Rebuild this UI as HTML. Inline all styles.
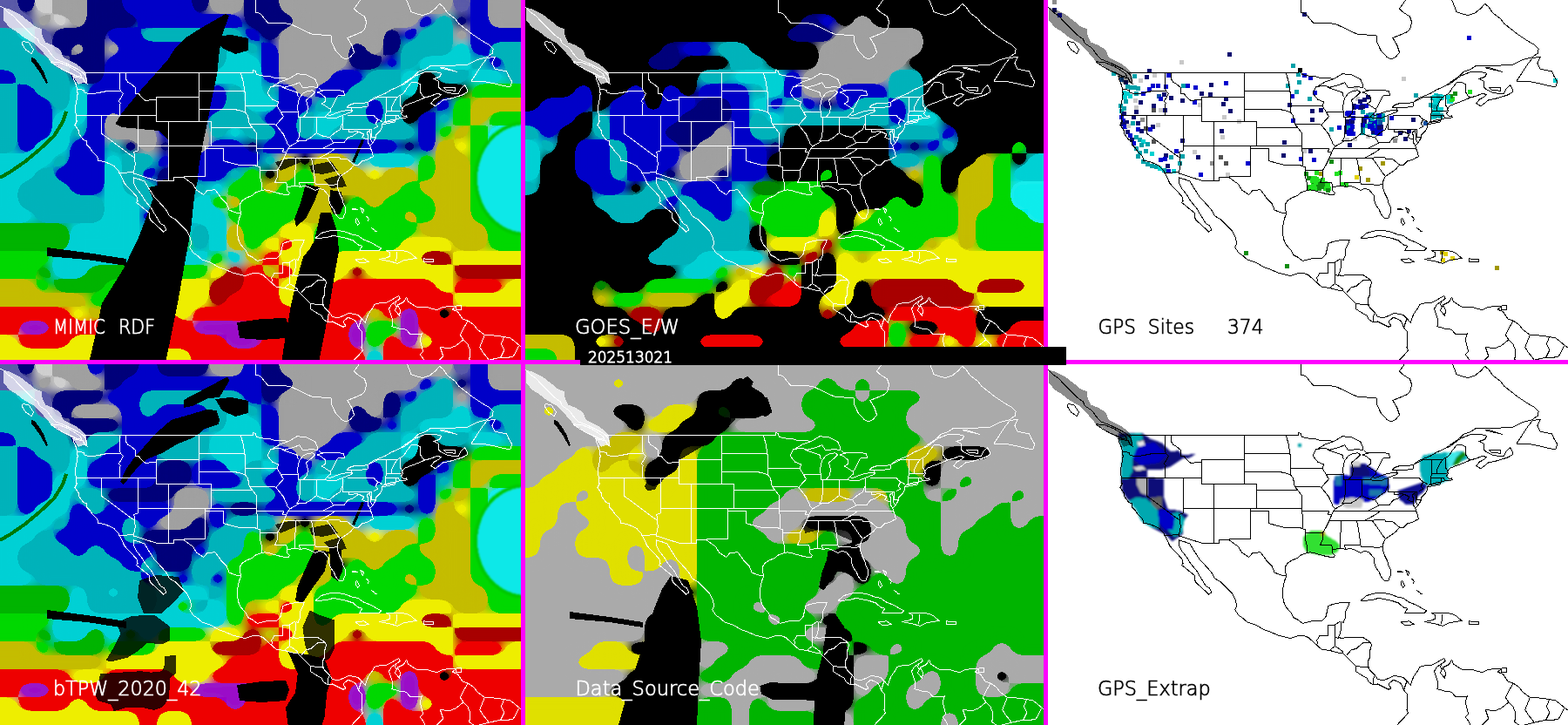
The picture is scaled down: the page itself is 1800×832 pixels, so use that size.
<!DOCTYPE html>
<html><head><meta charset="utf-8"><title>MIMIC TPW</title>
<style>
html,body{margin:0;padding:0;background:#000;}
body{width:1800px;height:832px;overflow:hidden;position:relative;}
svg{position:absolute;left:0;top:0;display:block;}
</style></head><body>
<svg width="1800" height="832" viewBox="0 0 1800 832" shape-rendering="crispEdges">
<defs><clipPath id="pc"><rect width="600" height="416"/></clipPath><filter id="bl" x="-5%" y="-5%" width="110%" height="110%"><feGaussianBlur stdDeviation="5"/></filter><filter id="thr" x="-5%" y="-5%" width="110%" height="110%"><feGaussianBlur stdDeviation="8"/><feComponentTransfer><feFuncA type="discrete" tableValues="0 1"/></feComponentTransfer></filter><filter id="bs"><feGaussianBlur stdDeviation="1.2"/></filter><path id="map" fill="none" d="M293.2,0.1 L293.2,14.1 L298.8,15.5 L307.9,26.7 L323.3,26.0 L334.5,28.1 L347.8,34.4 L358.3,39.3 L380.0,40.7 L380.7,48.4 L384.9,57.5 L391.9,65.2 L396.8,68.0 L402.4,65.2 L406.6,60.3 L403.8,51.9 L398.9,43.5 L414.3,37.2 L418.5,33.7 L420.6,25.3 L418.5,19.0 L410.8,14.1 L406.6,9.9 L413.6,0.1 M466.8,0.1 L469.6,7.1 L471.7,13.4 L479.4,16.2 L485.0,17.6 L493.4,14.8 L500.4,9.2 L504.6,4.3 L508.8,7.8 L513.7,14.8 L522.8,21.8 L527.0,27.4 L533.3,32.3 L540.3,37.9 L549.4,44.2 L555.0,47.7 L561.3,51.2 L566.2,56.1 L565.5,61.0 L558.5,65.9 L547.3,68.7 L536.8,74.3 L522.8,75.0 L508.8,75.0 L494.8,75.0 L487.8,79.9 L480.8,82.0 L473.8,88.3 L466.8,93.2 L459.8,98.1 M458.4,98.8 L464.7,96.0 L470.3,91.8 L477.3,86.9 L487.8,82.7 L498.3,82.0 L506.7,84.1 L504.6,88.3 L498.3,90.4 L503.2,93.2 L503.2,99.5 L506.7,103.0 L512.3,105.8 L519.3,107.2 L526.3,107.2 L528.4,103.0 L533.3,97.4 L536.8,103.0 L536.8,105.8 L529.8,109.3 L515.8,113.5 L508.8,114.9 L499.7,121.9 L494.8,118.4 L498.3,114.2 L504.6,110.7 L506.0,108.6 L502.5,107.2 L494.8,110.0 L487.8,112.1 M487.8,112.1 L479.4,115.6 L473.8,117.7 L468.2,119.8 L464.7,121.2 L461.2,125.4 L462.6,127.5 L460.5,130.3 L463.3,133.1 L466.8,133.8 L466.8,132.1 L467.1,134.9 L462.6,135.6 L458.4,135.9 L454.2,137.3 L449.3,137.7 L440.9,140.1 L438.8,142.2 L438.8,145.7 L436.0,150.6 L432.5,154.1 L431.1,154.8 L431.4,157.6 L429.7,161.1 L427.6,163.9 L425.5,166.7 L424.8,167.4 L425.5,170.2 L427.6,175.1 L428.3,179.7 L424.8,181.4 L421.3,183.5 L415.7,184.9 L411.5,189.1 L406.6,189.4 L402.4,194.0 L396.8,198.2 L390.5,202.4 L388.4,205.9 L387.0,211.5 L387.7,216.4 L389.8,222.0 L392.6,227.6 L394.0,233.2 L396.4,238.1 L396.1,244.4 L394.0,250.0 L389.1,250.4 L384.9,245.1 L383.5,240.9 L379.3,235.3 L377.9,230.4 L377.9,225.5 L375.8,222.7 L371.6,217.8 L366.7,216.4 L361.8,218.5 L358.3,216.4 L351.3,213.6 L344.3,214.3 L340.8,213.6 L335.2,213.6 L329.6,215.0 L329.6,218.5 L332.4,221.3 L331.0,223.8 L323.3,222.7 L317.7,221.3 L310.7,219.2 L304.4,217.8 L300.2,218.5 L293.9,220.6 L289.7,224.1 L282.0,227.6 L277.8,230.4 L275.0,235.3 L275.7,240.9 L276.7,244.8 L274.3,251.4 L272.9,258.4 L272.2,266.8 L273.6,274.5 L276.4,280.8 L282.0,287.1 L284.8,292.7 L290.4,295.5 L295.3,299.4 L302.3,297.6 L309.3,296.2 L317.0,296.9 L321.9,292.0 L323.3,286.4 L324.7,279.4 L330.3,277.3 L337.3,275.9 L344.3,275.9 L349.2,275.9 L347.8,279.4 L345.0,285.0 L344.3,293.4 L342.2,298.3 L340.1,297.6 L339.4,303.9 L338.7,310.9 L336.6,315.1 L339.4,316.5 L344.3,315.8 L351.3,315.8 L358.3,315.1 L365.3,315.8 L373.7,321.4 L374.4,324.9 L372.3,331.9 L372.3,338.9 L370.2,343.1 L370.9,349.4 L373.0,353.6 L378.6,359.2 L381.4,363.4 L387.7,364.8 L393.3,362.7 L400.3,359.2 L410.8,361.3 L415.0,365.5 L419.2,370.4 L422.7,360.6 L427.6,353.6 L429.7,349.4 L437.4,347.3 L443.7,347.3 L451.4,343.1 L457.7,339.6 L459.1,342.4 L454.9,345.9 L453.5,349.4 L455.6,352.2 L453.5,356.4 L458.4,362.0 L459.8,356.4 L456.3,350.1 L463.3,346.6 L466.8,341.0 L468.2,345.9 L478.0,352.2 L488.5,352.2 L501.8,355.7 L508.8,352.2 L519.3,351.5 L523.5,351.5 L519.3,355.0 L525.6,357.8 L531.2,366.2 L537.5,368.3 L543.8,372.5 L548.0,378.1 L556.4,384.4 L568.3,385.1 L578.8,386.5 L585.8,387.9 L592.8,393.5 L596.3,396.3 L599.8,399.1 M-0.1,7.1 L3.4,8.5 L8.3,13.4 L15.3,18.3 L22.3,26.0 L29.3,33.0 L36.3,40.0 L43.3,44.9 L45.4,49.8 L53.8,55.4 L58.7,62.4 L64.3,68.0 L74.8,72.2 L83.2,76.4 L90.2,79.9 L95.1,83.4 L97.9,86.2 L99.3,91.8 L100.0,96.0 L97.2,93.9 L95.1,89.7 L83.9,87.6 L84.6,91.1 L87.4,97.4 L88.8,102.7 L89.1,107.9 L88.1,114.9 L86.0,125.4 L87.4,132.4 L88.1,139.4 L86.0,143.6 L90.2,149.9 L90.9,154.1 L95.8,160.4 L99.3,161.8 L99.3,166.0 L103.5,170.2 L106.3,174.4 L111.9,180.0 L112.6,184.2 L119.6,185.6 L127.3,188.4 L130.8,190.5 L135.7,195.4 L137.1,198.7 L139.9,203.8 L142.7,210.1 L146.2,214.3 L151.8,219.9 L157.4,226.2 L158.1,230.4 L156.7,232.5 L164.4,238.8 L171.4,244.4 L172.1,251.4 L176.3,255.6 L183.3,261.9 L187.5,266.1 L191.0,264.0 L188.2,258.4 L184.7,257.0 L181.9,252.8 L177.7,245.8 L173.5,238.8 L166.5,230.4 L162.3,223.4 L156.7,216.4 L153.2,209.4 L153.2,203.8 L154.6,204.5 L160.2,205.9 L165.8,208.0 L171.4,217.1 L177.7,226.9 L182.6,231.8 L190.3,240.2 L194.5,247.9 L200.8,251.4 L207.8,258.4 L214.8,265.4 L218.3,272.4 L219.7,279.4 L217.6,283.6 L221.8,289.9 L226.7,293.4 L232.3,298.3 L241.4,301.1 L249.8,306.0 L258.9,309.5 L267.3,313.0 L281.3,316.5 L290.4,313.7 L296.0,313.0 L302.3,315.8 L311.4,324.2 L317.0,329.1 L326.8,330.5 L333.8,332.6 L342.2,334.0 L344.3,336.1 L349.2,341.0 L354.8,346.6 L356.9,349.4 L356.2,354.3 L360.4,357.1 L363.9,359.2 L368.8,362.0 L371.6,366.9 L376.5,369.7 L381.4,369.0 L388.4,372.5 L394.0,375.3 L396.8,373.9 L394.0,369.0 L399.6,364.1 L407.3,367.6 L409.4,370.4 L411.5,376.0 L415.0,380.2 L415.7,387.9 L415.0,398.4 L416.4,401.9 L411.5,408.2 L405.9,413.8 L403.8,416.6 M58.0,70.8 L65.7,76.4 L74.8,81.3 L81.8,84.1 L88.8,87.6 L93.7,88.3 L92.3,84.8 L85.3,79.9 L78.3,75.7 L67.8,71.5 L58.0,70.8 M25.8,47.7 L32.8,48.4 L38.4,56.8 L36.3,61.7 L29.3,56.8 L25.8,51.2 L25.8,47.7 M541.0,93.2 L554.3,93.2 L568.3,96.0 L578.8,98.8 L585.8,99.5 L587.9,93.9 L584.4,88.3 L581.6,82.0 L568.3,79.2 L564.8,72.9 L568.3,65.2 L559.2,66.6 L554.3,72.9 L547.3,83.4 L541.0,93.2 M505.3,77.8 L522.8,82.0 L524.9,82.7 L508.8,77.1 L505.3,77.8 M508.8,100.2 L522.8,100.9 L522.8,104.4 L512.3,103.0 L508.8,100.2 M438.8,142.2 L442.3,142.2 L452.8,140.1 L453.5,138.7 L445.8,139.8 L440.9,140.4 L438.8,142.2 M424.8,167.4 L422.7,163.9 L422.7,156.9 L421.3,152.0 L424.1,149.9 L425.5,154.8 L425.5,160.4 L427.6,163.9 M362.1,273.4 L368.8,267.5 L375.8,265.4 L382.8,264.0 L389.8,264.7 L396.8,266.1 L403.8,268.9 L410.8,270.3 L416.4,274.5 L424.8,278.0 L427.6,279.4 L432.5,282.2 L437.4,285.0 L435.3,287.1 L428.3,287.1 L421.3,287.1 L412.9,287.4 L415.7,282.2 L410.8,280.8 L405.2,275.9 L396.8,273.1 L389.8,271.7 L382.8,270.3 L375.8,272.4 L368.8,273.1 L362.1,273.4 M435.3,297.6 L447.2,299.7 L456.3,302.5 L463.3,299.0 L470.3,297.6 L478.0,296.2 L475.2,294.1 L472.4,291.3 L466.8,288.5 L459.8,287.1 L452.8,287.1 L443.0,287.1 L447.2,289.9 L447.9,294.1 L442.3,296.2 L435.3,297.6 M408.0,297.6 L417.8,296.9 L423.4,300.4 L419.2,301.1 L412.2,301.1 L408.0,297.6 M486.4,296.9 L497.6,297.6 L497.6,300.4 L486.4,300.4 L486.4,296.9 M523.5,350.8 L529.8,350.8 L529.8,355.7 L523.5,355.7 L523.5,350.8 M403.8,239.5 L410.8,240.2 L405.9,240.9 L403.8,239.5 M413.6,238.1 L417.8,240.9 L416.4,244.4 L413.6,238.1 M409.4,250.0 L412.9,256.3 L410.8,258.4 L408.0,254.2 L409.4,250.0 M420.6,247.9 L423.4,251.4 L422.0,254.2 M426.2,261.2 L431.8,265.4 L429.7,266.1 M312.1,99.5 L319.8,98.1 L326.8,100.2 L337.3,97.4 L343.6,94.6 L347.8,100.9 L358.3,99.5 L364.6,100.9 L364.6,97.4 L361.8,91.1 L351.3,85.5 L340.8,84.8 L331.7,90.4 L321.2,93.9 L312.1,99.5 M342.2,134.5 L344.3,135.2 L349.2,133.8 L352.7,128.9 L353.4,121.9 L351.3,114.9 L357.6,110.0 L361.8,105.8 L358.3,103.7 L351.3,105.1 L347.8,107.2 L343.6,112.8 L341.5,121.9 L342.2,128.9 L342.2,134.5 M363.9,105.8 L368.8,107.9 L373.0,111.4 L373.7,116.3 L369.5,119.1 L373.0,121.2 L379.3,125.4 L382.1,121.2 L384.9,114.9 L387.7,110.0 L395.4,109.3 L394.7,104.4 L382.8,103.0 L371.6,103.7 L363.9,105.8 M372.3,134.5 L379.3,135.9 L386.3,135.2 L393.3,132.4 L403.8,128.2 L404.5,126.1 L397.5,126.8 L389.8,128.2 L379.3,132.4 L375.1,131.7 L372.3,134.5 M398.2,123.3 L403.8,123.3 L414.3,123.3 L422.7,121.9 L422.7,117.0 L417.8,118.4 L407.3,118.4 L401.0,120.5 L398.2,123.3 M422.7,117.0 L428.3,112.8 L435.3,110.0 L442.3,107.2 L449.3,103.0 L458.4,98.8 M95.1,83.4 L290.7,83.4 L290.7,80.7 L293.2,81.3 L294.6,85.5 L300.2,86.9 L309.3,87.6 L316.3,89.7 L326.8,89.7 L329.6,90.4 M366.0,100.9 L368.1,103.0 L371.6,103.7 M380.0,125.4 L379.3,128.2 L375.1,131.7 M403.8,123.3 L403.8,126.1 M422.7,117.0 L433.9,111.4 L456.3,111.4 L459.1,109.3 L461.2,108.6 L464.7,105.1 L466.8,101.6 L472.4,94.2 L478.7,94.9 L482.2,96.7 L482.2,105.1 L485.0,110.0 L487.8,112.1 M137.1,198.7 L153.9,197.4 L153.2,198.9 L179.1,207.1 L199.4,207.1 L199.4,203.9 L211.3,203.9 L221.8,211.5 L225.3,217.8 L233.7,223.4 L237.9,218.5 L247.0,217.8 L254.7,228.3 L260.3,233.9 L263.1,240.9 L269.4,243.7 L276.7,244.8 M88.8,102.7 L92.3,102.7 L96.5,103.7 L97.2,106.5 L101.4,107.2 L108.4,107.2 L113.3,106.5 L119.6,105.1 L123.8,104.7 L138.3,104.4 M137.5,83.4 L137.5,101.4 L138.3,104.4 L141.5,107.2 L139.2,111.4 L136.4,116.3 L138.5,118.4 L137.6,119.8 L137.6,132.4 M87.4,132.4 L179.4,132.4 L179.4,139.4 L242.4,139.4 M144.4,83.4 L144.4,90.5 L146.7,94.5 L149.7,95.6 L154.6,99.9 L156.0,100.9 L155.3,107.2 L158.8,107.2 L163.0,112.1 L167.2,115.6 L177.0,114.2 L179.4,114.9 L179.4,132.4 M179.4,114.9 L179.4,111.4 L228.4,111.4 M228.4,83.4 L228.4,139.4 M116.8,132.4 L116.8,153.4 L154.6,181.4 L153.9,174.4 L158.4,173.0 L158.4,132.4 M154.6,181.4 L155.3,188.4 L153.9,195.4 L153.9,197.4 M158.4,167.4 L242.8,167.4 M193.4,139.4 L193.4,207.1 M242.4,139.4 L242.4,167.4 M235.8,167.4 L235.8,170.9 L256.8,170.9 L256.8,184.5 M235.4,170.9 L235.4,202.4 L210.6,202.4 M228.4,125.4 L267.3,125.4 L274.3,126.4 L281.6,128.9 L284.1,132.4 L285.5,137.3 L286.2,142.2 L289.7,146.4 L242.4,146.4 M228.4,104.8 L280.9,104.8 M276.4,83.4 L279.2,93.9 L280.9,104.8 L281.6,109.3 L281.6,128.9 M281.6,121.9 L318.2,121.9 M312.1,99.5 L310.7,99.5 L307.2,107.2 L312.8,114.2 L319.8,117.0 L318.2,121.9 L322.6,128.9 L325.4,133.8 L319.1,140.8 L317.0,143.7 L325.4,154.1 L330.3,165.3 L333.1,167.8 L330.3,170.9 L328.9,174.4 L326.1,181.4 L322.6,188.4 L318.4,195.4 L318.7,202.4 L315.6,209.4 L328.7,209.4 L329.6,215.0 M286.4,142.3 L314.9,142.2 L317.0,143.7 M242.8,167.4 L294.4,167.4 L294.4,152.7 L289.7,146.4 M294.4,167.4 L294.4,170.9 L325.7,170.9 L324.2,174.5 L328.9,174.4 M294.4,170.9 L295.8,178.6 L295.4,190.9 L298.5,191.6 L298.5,195.4 L318.4,195.4 M256.8,184.5 L262.4,186.3 L270.8,188.4 L276.4,189.8 L284.8,189.1 L291.8,189.1 L295.4,190.9 M298.5,195.4 L298.5,202.5 L300.2,209.4 L300.9,214.3 L299.9,218.5 M324.7,181.4 L366.7,181.4 L375.1,181.4 M339.4,181.4 L339.4,188.4 L338.0,213.6 M357.6,181.4 L360.4,196.8 L361.8,209.4 L343.6,209.4 L344.3,214.3 M361.8,209.4 L362.8,211.5 L382.8,212.2 L386.3,211.5 M375.1,181.4 L381.4,189.8 L387.0,198.2 L390.5,202.4 M375.1,181.4 L382.8,180.0 L389.8,180.4 L391.2,182.8 L398.9,182.8 L406.9,189.4 M330.3,170.2 L384.9,170.2 L379.3,174.4 L366.7,181.4 M384.9,170.2 L425.5,170.6 M333.1,167.8 L340.1,163.9 L343.6,161.1 L351.3,161.1 L356.2,158.3 L363.2,152.7 L370.9,156.2 L378.6,157.6 L381.4,154.8 L384.9,152.0 L390.5,148.5 L392.6,142.2 M378.6,157.6 L382.8,163.9 L370.9,170.2 M382.8,163.9 L394.7,163.9 L399.6,157.6 L404.5,156.2 L408.7,153.4 L412.2,151.3 L417.8,154.1 L415.7,157.6 L422.7,160.4 M393.1,132.4 L393.1,148.4 L426.2,148.4 L426.2,157.2 L431.4,157.2 M393.1,148.4 L400.4,148.4 L400.4,152.0 L408.0,150.6 L412.2,151.3 M398.5,132.4 L429.3,132.4 L431.1,135.2 L433.9,136.9 L431.1,142.2 L433.9,145.0 L429.0,147.8 M433.9,136.9 L439.5,140.1 M440.9,139.8 L442.3,139.4 L442.3,132.1 L444.0,127.2 L443.3,111.4 M442.3,132.1 L454.2,132.4 L457.0,132.4 L459.1,135.9 M454.2,132.4 L454.2,137.3 M444.0,127.2 L461.2,127.4 M448.9,127.3 L450.0,121.9 L452.8,116.3 L456.3,111.4 M461.9,124.7 L459.8,121.2 L459.2,109.3 M344.3,134.5 L363.2,134.5 L372.6,134.3 M363.0,134.5 L363.0,152.7 M344.1,134.1 L344.1,150.6 L343.6,156.9 L340.8,161.8 M322.3,128.9 L342.2,128.9 M342.2,110.7 L340.8,105.8 L333.8,103.7 L324.0,100.2 M363.2,152.7 L363.0,152.7 M311.4,324.2 L312.8,320.7 L311.4,319.3 L314.9,313.7 L324.0,313.7 L324.0,301.8 L332.7,301.8 L332.7,300.8 L338.7,296.9 M332.7,301.8 L332.4,315.1 L336.6,316.5 M332.4,315.1 L332.4,325.6 L326.1,330.5 M332.4,325.6 L337.3,328.4 L342.2,332.6 M345.7,336.1 L351.3,329.8 L356.9,328.4 L361.8,324.2 L365.3,321.4 L374.4,321.4 M356.9,348.7 L365.3,349.4 L371.2,350.1 M376.5,370.4 L376.5,363.4 L378.6,359.2 M411.5,376.0 L415.0,365.5 M457.7,343.8 L449.3,349.4 L446.5,354.3 L450.7,366.9 L450.0,374.6 L459.8,377.4 L466.1,378.1 L471.0,383.7 L484.3,383.0 L482.2,389.3 L484.3,398.4 L485.7,403.3 L482.2,406.8 L486.4,412.4 L488.5,417.3 M537.5,367.6 L532.6,376.0 L528.4,384.4 L531.9,390.0 L522.8,397.0 L515.8,399.8 L505.3,398.4 L508.8,408.9 L498.3,419.4 L488.5,417.3 M556.4,384.4 L550.8,398.4 L553.6,403.3 L561.3,413.1 M531.9,390.0 L536.8,394.9 L539.6,401.2 L538.9,412.4 L545.2,417.3 L561.3,413.1 L574.6,410.3 M578.8,386.5 L575.3,394.9 L578.8,401.9 L574.6,410.3 L580.2,411.0 L589.3,408.9 L595.6,397.0 M454.9,288.5 L455.6,294.1 L454.2,300.4"/><polygon id="bcband" points="3.5,8.7 3.5,22.5 10.4,31.1 19,36.3 27.7,43.3 39.8,50.2 46.7,57.1 57.1,69.2 58.8,70.9 69.2,77.9 83,86.5 90,96.9 100.3,93.4 98.6,83 93.4,77.9 86.5,72.7 79.6,69.2 72.7,65.7 69.2,57.1 60.6,51.9 51.9,48.4 48.4,39.8 47.6,32.9 41.5,31.1 32.9,24.2 24.2,17.3 10.4,10.4"/></defs>
<g transform="translate(0,0)" clip-path="url(#pc)"><g transform="translate(-20,-16)">
<g filter="url(#bl)"><rect x="0" y="0" width="40" height="16" fill="#5a5aa8"/><rect x="40" y="0" width="20" height="16" fill="#00007a"/><rect x="60" y="0" width="20" height="16" fill="#cfcfcf"/><rect x="80" y="0" width="40" height="16" fill="#a0a0a0"/><rect x="120" y="0" width="40" height="16" fill="#00007a"/><rect x="160" y="0" width="80" height="16" fill="#0000c8"/><rect x="240" y="0" width="20" height="16" fill="#00007a"/><rect x="260" y="0" width="40" height="16" fill="#a0a0a0"/><rect x="300" y="0" width="40" height="16" fill="#00007a"/><rect x="340" y="0" width="200" height="16" fill="#a0a0a0"/><rect x="540" y="0" width="20" height="16" fill="#5a5aa8"/><rect x="560" y="0" width="20" height="16" fill="#0000c8"/><rect x="580" y="0" width="60" height="16" fill="#a0a0a0"/><rect x="0" y="16" width="40" height="16" fill="#5a5aa8"/><rect x="40" y="16" width="20" height="16" fill="#00007a"/><rect x="60" y="16" width="20" height="16" fill="#cfcfcf"/><rect x="80" y="16" width="40" height="16" fill="#a0a0a0"/><rect x="120" y="16" width="40" height="16" fill="#00007a"/><rect x="160" y="16" width="80" height="16" fill="#0000c8"/><rect x="240" y="16" width="20" height="16" fill="#00007a"/><rect x="260" y="16" width="40" height="16" fill="#a0a0a0"/><rect x="300" y="16" width="40" height="16" fill="#00007a"/><rect x="340" y="16" width="200" height="16" fill="#a0a0a0"/><rect x="540" y="16" width="20" height="16" fill="#5a5aa8"/><rect x="560" y="16" width="20" height="16" fill="#0000c8"/><rect x="580" y="16" width="60" height="16" fill="#a0a0a0"/><rect x="0" y="32" width="60" height="16" fill="#5a5aa8"/><rect x="60" y="32" width="20" height="16" fill="#a0a0a0"/><rect x="80" y="32" width="20" height="16" fill="#cfcfcf"/><rect x="100" y="32" width="20" height="16" fill="#a0a0a0"/><rect x="120" y="32" width="60" height="16" fill="#00007a"/><rect x="180" y="32" width="120" height="16" fill="#0000c8"/><rect x="300" y="32" width="60" height="16" fill="#00007a"/><rect x="360" y="32" width="140" height="16" fill="#a0a0a0"/><rect x="500" y="32" width="20" height="16" fill="#0000c8"/><rect x="520" y="32" width="20" height="16" fill="#00b2ba"/><rect x="540" y="32" width="20" height="16" fill="#00007a"/><rect x="560" y="32" width="20" height="16" fill="#0000c8"/><rect x="580" y="32" width="60" height="16" fill="#a0a0a0"/><rect x="0" y="48" width="40" height="16" fill="#00b2ba"/><rect x="40" y="48" width="20" height="16" fill="#00d0d4"/><rect x="60" y="48" width="20" height="16" fill="#5a5aa8"/><rect x="80" y="48" width="60" height="16" fill="#00007a"/><rect x="140" y="48" width="40" height="16" fill="#0000c8"/><rect x="180" y="48" width="120" height="16" fill="#00b2ba"/><rect x="300" y="48" width="20" height="16" fill="#0000c8"/><rect x="320" y="48" width="20" height="16" fill="#00007a"/><rect x="340" y="48" width="120" height="16" fill="#a0a0a0"/><rect x="460" y="48" width="20" height="16" fill="#00007a"/><rect x="480" y="48" width="20" height="16" fill="#0000c8"/><rect x="500" y="48" width="40" height="16" fill="#00b2ba"/><rect x="540" y="48" width="20" height="16" fill="#a0a0a0"/><rect x="560" y="48" width="80" height="16" fill="#0000c8"/><rect x="0" y="64" width="60" height="16" fill="#00b2ba"/><rect x="60" y="64" width="20" height="16" fill="#5a5aa8"/><rect x="80" y="64" width="20" height="16" fill="#00007a"/><rect x="100" y="64" width="20" height="16" fill="#a0a0a0"/><rect x="120" y="64" width="20" height="16" fill="#00007a"/><rect x="140" y="64" width="20" height="16" fill="#a0a0a0"/><rect x="160" y="64" width="100" height="16" fill="#0000c8"/><rect x="260" y="64" width="20" height="16" fill="#00b2ba"/><rect x="280" y="64" width="20" height="16" fill="#00d0d4"/><rect x="300" y="64" width="20" height="16" fill="#00b2ba"/><rect x="320" y="64" width="20" height="16" fill="#0000c8"/><rect x="340" y="64" width="80" height="16" fill="#a0a0a0"/><rect x="420" y="64" width="20" height="16" fill="#00007a"/><rect x="440" y="64" width="20" height="16" fill="#a0a0a0"/><rect x="460" y="64" width="20" height="16" fill="#00007a"/><rect x="480" y="64" width="60" height="16" fill="#00b2ba"/><rect x="540" y="64" width="20" height="16" fill="#00d0d4"/><rect x="560" y="64" width="20" height="16" fill="#0000c8"/><rect x="580" y="64" width="60" height="16" fill="#00b2ba"/><rect x="0" y="80" width="80" height="16" fill="#00b2ba"/><rect x="80" y="80" width="20" height="16" fill="#5a5aa8"/><rect x="100" y="80" width="40" height="16" fill="#00007a"/><rect x="140" y="80" width="120" height="16" fill="#0000c8"/><rect x="260" y="80" width="20" height="16" fill="#00b2ba"/><rect x="280" y="80" width="40" height="16" fill="#00d0d4"/><rect x="320" y="80" width="20" height="16" fill="#0000c8"/><rect x="340" y="80" width="80" height="16" fill="#a0a0a0"/><rect x="420" y="80" width="40" height="16" fill="#00007a"/><rect x="460" y="80" width="20" height="16" fill="#0000c8"/><rect x="480" y="80" width="20" height="16" fill="#00b2ba"/><rect x="500" y="80" width="60" height="16" fill="#00d0d4"/><rect x="560" y="80" width="20" height="16" fill="#00b2ba"/><rect x="580" y="80" width="20" height="16" fill="#0000c8"/><rect x="600" y="80" width="40" height="16" fill="#00b2ba"/><rect x="0" y="96" width="40" height="16" fill="#0000c8"/><rect x="40" y="96" width="60" height="16" fill="#00b2ba"/><rect x="100" y="96" width="40" height="16" fill="#00007a"/><rect x="140" y="96" width="60" height="16" fill="#0000c8"/><rect x="200" y="96" width="60" height="16" fill="#00b2ba"/><rect x="260" y="96" width="60" height="16" fill="#00d0d4"/><rect x="320" y="96" width="20" height="16" fill="#0000c8"/><rect x="340" y="96" width="60" height="16" fill="#a0a0a0"/><rect x="400" y="96" width="40" height="16" fill="#0000c8"/><rect x="440" y="96" width="40" height="16" fill="#00b2ba"/><rect x="480" y="96" width="20" height="16" fill="#00d0d4"/><rect x="500" y="96" width="20" height="16" fill="#000000"/><rect x="520" y="96" width="40" height="16" fill="#00b2ba"/><rect x="560" y="96" width="40" height="16" fill="#00d0d4"/><rect x="600" y="96" width="40" height="16" fill="#00b2ba"/><rect x="0" y="112" width="40" height="16" fill="#00b2ba"/><rect x="40" y="112" width="20" height="16" fill="#0000c8"/><rect x="60" y="112" width="40" height="16" fill="#00b2ba"/><rect x="100" y="112" width="20" height="16" fill="#00d0d4"/><rect x="120" y="112" width="80" height="16" fill="#0000c8"/><rect x="200" y="112" width="40" height="16" fill="#00b2ba"/><rect x="240" y="112" width="20" height="16" fill="#00d0d4"/><rect x="260" y="112" width="20" height="16" fill="#0000c8"/><rect x="280" y="112" width="20" height="16" fill="#00b2ba"/><rect x="300" y="112" width="20" height="16" fill="#00d0d4"/><rect x="320" y="112" width="20" height="16" fill="#00b2ba"/><rect x="340" y="112" width="20" height="16" fill="#0000c8"/><rect x="360" y="112" width="20" height="16" fill="#a0a0a0"/><rect x="380" y="112" width="40" height="16" fill="#0000c8"/><rect x="420" y="112" width="60" height="16" fill="#00b2ba"/><rect x="480" y="112" width="20" height="16" fill="#00d0d4"/><rect x="500" y="112" width="60" height="16" fill="#000000"/><rect x="560" y="112" width="80" height="16" fill="#00d800"/><rect x="0" y="128" width="40" height="16" fill="#00b2ba"/><rect x="40" y="128" width="40" height="16" fill="#0000c8"/><rect x="80" y="128" width="20" height="16" fill="#00b2ba"/><rect x="100" y="128" width="20" height="16" fill="#00d0d4"/><rect x="120" y="128" width="80" height="16" fill="#0000c8"/><rect x="200" y="128" width="40" height="16" fill="#00007a"/><rect x="240" y="128" width="40" height="16" fill="#0000c8"/><rect x="280" y="128" width="20" height="16" fill="#00b2ba"/><rect x="300" y="128" width="40" height="16" fill="#00d0d4"/><rect x="340" y="128" width="40" height="16" fill="#0000c8"/><rect x="380" y="128" width="60" height="16" fill="#00b2ba"/><rect x="440" y="128" width="20" height="16" fill="#0000c8"/><rect x="460" y="128" width="20" height="16" fill="#00b2ba"/><rect x="480" y="128" width="40" height="16" fill="#000000"/><rect x="520" y="128" width="20" height="16" fill="#0000c8"/><rect x="540" y="128" width="20" height="16" fill="#00d800"/><rect x="560" y="128" width="80" height="16" fill="#c4bc00"/><rect x="0" y="144" width="40" height="16" fill="#00b2ba"/><rect x="40" y="144" width="40" height="16" fill="#0000c8"/><rect x="80" y="144" width="40" height="16" fill="#00d0d4"/><rect x="120" y="144" width="20" height="16" fill="#0000c8"/><rect x="140" y="144" width="20" height="16" fill="#a0a0a0"/><rect x="160" y="144" width="40" height="16" fill="#0000c8"/><rect x="200" y="144" width="40" height="16" fill="#00007a"/><rect x="240" y="144" width="20" height="16" fill="#0000c8"/><rect x="260" y="144" width="60" height="16" fill="#00b2ba"/><rect x="320" y="144" width="40" height="16" fill="#0000c8"/><rect x="360" y="144" width="20" height="16" fill="#00b2ba"/><rect x="380" y="144" width="40" height="16" fill="#00d0d4"/><rect x="420" y="144" width="20" height="16" fill="#00b2ba"/><rect x="440" y="144" width="20" height="16" fill="#0000c8"/><rect x="460" y="144" width="20" height="16" fill="#00b2ba"/><rect x="480" y="144" width="20" height="16" fill="#000000"/><rect x="500" y="144" width="20" height="16" fill="#0000c8"/><rect x="520" y="144" width="20" height="16" fill="#00b2ba"/><rect x="540" y="144" width="20" height="16" fill="#00d800"/><rect x="560" y="144" width="20" height="16" fill="#c4bc00"/><rect x="580" y="144" width="60" height="16" fill="#00d800"/><rect x="0" y="160" width="40" height="16" fill="#00b2ba"/><rect x="40" y="160" width="40" height="16" fill="#0000c8"/><rect x="80" y="160" width="20" height="16" fill="#00d0d4"/><rect x="100" y="160" width="20" height="16" fill="#00b2ba"/><rect x="120" y="160" width="20" height="16" fill="#0000c8"/><rect x="140" y="160" width="60" height="16" fill="#a0a0a0"/><rect x="200" y="160" width="20" height="16" fill="#0000c8"/><rect x="220" y="160" width="40" height="16" fill="#a0a0a0"/><rect x="260" y="160" width="20" height="16" fill="#00b2ba"/><rect x="280" y="160" width="20" height="16" fill="#00d0d4"/><rect x="300" y="160" width="40" height="16" fill="#00b2ba"/><rect x="340" y="160" width="20" height="16" fill="#0000c8"/><rect x="360" y="160" width="20" height="16" fill="#00b2ba"/><rect x="380" y="160" width="20" height="16" fill="#00d0d4"/><rect x="400" y="160" width="100" height="16" fill="#00b2ba"/><rect x="500" y="160" width="20" height="16" fill="#0000c8"/><rect x="520" y="160" width="20" height="16" fill="#00d800"/><rect x="540" y="160" width="20" height="16" fill="#c4bc00"/><rect x="560" y="160" width="20" height="16" fill="#00d800"/><rect x="580" y="160" width="60" height="16" fill="#10ecec"/><rect x="0" y="176" width="40" height="16" fill="#00b2ba"/><rect x="40" y="176" width="20" height="16" fill="#0000c8"/><rect x="60" y="176" width="40" height="16" fill="#00d0d4"/><rect x="100" y="176" width="40" height="16" fill="#0000c8"/><rect x="140" y="176" width="20" height="16" fill="#00b2ba"/><rect x="160" y="176" width="20" height="16" fill="#00007a"/><rect x="180" y="176" width="20" height="16" fill="#a0a0a0"/><rect x="200" y="176" width="20" height="16" fill="#00007a"/><rect x="220" y="176" width="40" height="16" fill="#a0a0a0"/><rect x="260" y="176" width="40" height="16" fill="#0000c8"/><rect x="300" y="176" width="20" height="16" fill="#00007a"/><rect x="320" y="176" width="160" height="16" fill="#0000c8"/><rect x="480" y="176" width="20" height="16" fill="#00007a"/><rect x="500" y="176" width="20" height="16" fill="#0000c8"/><rect x="520" y="176" width="20" height="16" fill="#c4bc00"/><rect x="540" y="176" width="20" height="16" fill="#eeee00"/><rect x="560" y="176" width="20" height="16" fill="#00d800"/><rect x="580" y="176" width="60" height="16" fill="#10ecec"/><rect x="0" y="192" width="80" height="16" fill="#00d0d4"/><rect x="80" y="192" width="20" height="16" fill="#00b2ba"/><rect x="100" y="192" width="40" height="16" fill="#0000c8"/><rect x="140" y="192" width="20" height="16" fill="#00d0d4"/><rect x="160" y="192" width="40" height="16" fill="#00b2ba"/><rect x="200" y="192" width="20" height="16" fill="#0000c8"/><rect x="220" y="192" width="20" height="16" fill="#a0a0a0"/><rect x="240" y="192" width="80" height="16" fill="#0000c8"/><rect x="320" y="192" width="20" height="16" fill="#00b2ba"/><rect x="340" y="192" width="20" height="16" fill="#c4bc00"/><rect x="360" y="192" width="20" height="16" fill="#000000"/><rect x="380" y="192" width="40" height="16" fill="#c4bc00"/><rect x="420" y="192" width="20" height="16" fill="#00b2ba"/><rect x="440" y="192" width="60" height="16" fill="#00d0d4"/><rect x="500" y="192" width="20" height="16" fill="#00d800"/><rect x="520" y="192" width="40" height="16" fill="#c4bc00"/><rect x="560" y="192" width="20" height="16" fill="#00d800"/><rect x="580" y="192" width="60" height="16" fill="#10ecec"/><rect x="0" y="208" width="60" height="16" fill="#00d0d4"/><rect x="60" y="208" width="20" height="16" fill="#00b2ba"/><rect x="80" y="208" width="60" height="16" fill="#0000c8"/><rect x="140" y="208" width="20" height="16" fill="#00d0d4"/><rect x="160" y="208" width="20" height="16" fill="#00b2ba"/><rect x="180" y="208" width="20" height="16" fill="#0000c8"/><rect x="200" y="208" width="40" height="16" fill="#00007a"/><rect x="240" y="208" width="40" height="16" fill="#0000c8"/><rect x="280" y="208" width="20" height="16" fill="#00b2ba"/><rect x="300" y="208" width="20" height="16" fill="#00d800"/><rect x="320" y="208" width="20" height="16" fill="#000000"/><rect x="340" y="208" width="20" height="16" fill="#c4bc00"/><rect x="360" y="208" width="20" height="16" fill="#00d800"/><rect x="380" y="208" width="60" height="16" fill="#c4bc00"/><rect x="440" y="208" width="20" height="16" fill="#eeee00"/><rect x="460" y="208" width="40" height="16" fill="#c4bc00"/><rect x="500" y="208" width="20" height="16" fill="#00d800"/><rect x="520" y="208" width="40" height="16" fill="#c4bc00"/><rect x="560" y="208" width="20" height="16" fill="#00d800"/><rect x="580" y="208" width="60" height="16" fill="#10ecec"/><rect x="0" y="224" width="40" height="16" fill="#00d0d4"/><rect x="40" y="224" width="60" height="16" fill="#00b2ba"/><rect x="100" y="224" width="40" height="16" fill="#0000c8"/><rect x="140" y="224" width="20" height="16" fill="#00d0d4"/><rect x="160" y="224" width="40" height="16" fill="#00b2ba"/><rect x="200" y="224" width="40" height="16" fill="#00007a"/><rect x="240" y="224" width="20" height="16" fill="#00b2ba"/><rect x="260" y="224" width="20" height="16" fill="#00d0d4"/><rect x="280" y="224" width="40" height="16" fill="#00d800"/><rect x="320" y="224" width="20" height="16" fill="#c4bc00"/><rect x="340" y="224" width="40" height="16" fill="#00d800"/><rect x="380" y="224" width="100" height="16" fill="#c4bc00"/><rect x="480" y="224" width="20" height="16" fill="#00d800"/><rect x="500" y="224" width="60" height="16" fill="#c4bc00"/><rect x="560" y="224" width="20" height="16" fill="#00d800"/><rect x="580" y="224" width="60" height="16" fill="#10ecec"/><rect x="0" y="240" width="40" height="16" fill="#00d0d4"/><rect x="40" y="240" width="100" height="16" fill="#00b2ba"/><rect x="140" y="240" width="40" height="16" fill="#00d0d4"/><rect x="180" y="240" width="20" height="16" fill="#00b2ba"/><rect x="200" y="240" width="40" height="16" fill="#00007a"/><rect x="240" y="240" width="20" height="16" fill="#00d0d4"/><rect x="260" y="240" width="20" height="16" fill="#00d800"/><rect x="280" y="240" width="20" height="16" fill="#c4bc00"/><rect x="300" y="240" width="80" height="16" fill="#00d800"/><rect x="380" y="240" width="20" height="16" fill="#c4bc00"/><rect x="400" y="240" width="20" height="16" fill="#000000"/><rect x="420" y="240" width="20" height="16" fill="#00d800"/><rect x="440" y="240" width="20" height="16" fill="#c4bc00"/><rect x="460" y="240" width="60" height="16" fill="#00d800"/><rect x="520" y="240" width="40" height="16" fill="#c4bc00"/><rect x="560" y="240" width="20" height="16" fill="#00d800"/><rect x="580" y="240" width="60" height="16" fill="#10ecec"/><rect x="0" y="256" width="60" height="16" fill="#00d0d4"/><rect x="60" y="256" width="80" height="16" fill="#00b2ba"/><rect x="140" y="256" width="40" height="16" fill="#00d0d4"/><rect x="180" y="256" width="20" height="16" fill="#0000c8"/><rect x="200" y="256" width="20" height="16" fill="#00d0d4"/><rect x="220" y="256" width="20" height="16" fill="#0000c8"/><rect x="240" y="256" width="40" height="16" fill="#00d0d4"/><rect x="280" y="256" width="80" height="16" fill="#00d800"/><rect x="360" y="256" width="40" height="16" fill="#c4bc00"/><rect x="400" y="256" width="80" height="16" fill="#00d800"/><rect x="480" y="256" width="20" height="16" fill="#c4bc00"/><rect x="500" y="256" width="20" height="16" fill="#00d800"/><rect x="520" y="256" width="40" height="16" fill="#c4bc00"/><rect x="560" y="256" width="40" height="16" fill="#00d800"/><rect x="600" y="256" width="40" height="16" fill="#10ecec"/><rect x="0" y="272" width="100" height="16" fill="#00b400"/><rect x="100" y="272" width="80" height="16" fill="#00d0d4"/><rect x="180" y="272" width="20" height="16" fill="#00b2ba"/><rect x="200" y="272" width="40" height="16" fill="#00d0d4"/><rect x="240" y="272" width="20" height="16" fill="#00b2ba"/><rect x="260" y="272" width="20" height="16" fill="#00d0d4"/><rect x="280" y="272" width="20" height="16" fill="#c4bc00"/><rect x="300" y="272" width="40" height="16" fill="#00d800"/><rect x="340" y="272" width="40" height="16" fill="#eeee00"/><rect x="380" y="272" width="120" height="16" fill="#00d800"/><rect x="500" y="272" width="80" height="16" fill="#c4bc00"/><rect x="580" y="272" width="60" height="16" fill="#00d800"/><rect x="0" y="288" width="100" height="16" fill="#00b400"/><rect x="100" y="288" width="80" height="16" fill="#00d0d4"/><rect x="180" y="288" width="20" height="16" fill="#00b2ba"/><rect x="200" y="288" width="20" height="16" fill="#00d0d4"/><rect x="220" y="288" width="20" height="16" fill="#00d800"/><rect x="240" y="288" width="20" height="16" fill="#00b2ba"/><rect x="260" y="288" width="20" height="16" fill="#00d0d4"/><rect x="280" y="288" width="20" height="16" fill="#c4bc00"/><rect x="300" y="288" width="20" height="16" fill="#00d800"/><rect x="320" y="288" width="20" height="16" fill="#eeee00"/><rect x="340" y="288" width="20" height="16" fill="#ee0000"/><rect x="360" y="288" width="20" height="16" fill="#eeee00"/><rect x="380" y="288" width="100" height="16" fill="#00d800"/><rect x="480" y="288" width="60" height="16" fill="#eeee00"/><rect x="540" y="288" width="40" height="16" fill="#c4bc00"/><rect x="580" y="288" width="60" height="16" fill="#00d800"/><rect x="0" y="304" width="80" height="16" fill="#00d800"/><rect x="80" y="304" width="180" height="16" fill="#00d0d4"/><rect x="260" y="304" width="20" height="16" fill="#00d800"/><rect x="280" y="304" width="20" height="16" fill="#00d0d4"/><rect x="300" y="304" width="20" height="16" fill="#c4bc00"/><rect x="320" y="304" width="20" height="16" fill="#ee0000"/><rect x="340" y="304" width="40" height="16" fill="#eeee00"/><rect x="380" y="304" width="20" height="16" fill="#00d800"/><rect x="400" y="304" width="100" height="16" fill="#eeee00"/><rect x="500" y="304" width="40" height="16" fill="#a80000"/><rect x="540" y="304" width="100" height="16" fill="#eeee00"/><rect x="0" y="320" width="60" height="16" fill="#00d800"/><rect x="60" y="320" width="20" height="16" fill="#00b400"/><rect x="80" y="320" width="40" height="16" fill="#00d0d4"/><rect x="120" y="320" width="60" height="16" fill="#00b400"/><rect x="180" y="320" width="20" height="16" fill="#00d0d4"/><rect x="200" y="320" width="60" height="16" fill="#00d800"/><rect x="260" y="320" width="20" height="16" fill="#eeee00"/><rect x="280" y="320" width="20" height="16" fill="#a80000"/><rect x="300" y="320" width="20" height="16" fill="#ee0000"/><rect x="320" y="320" width="20" height="16" fill="#c4bc00"/><rect x="340" y="320" width="20" height="16" fill="#ee0000"/><rect x="360" y="320" width="60" height="16" fill="#eeee00"/><rect x="420" y="320" width="20" height="16" fill="#a80000"/><rect x="440" y="320" width="100" height="16" fill="#eeee00"/><rect x="540" y="320" width="100" height="16" fill="#a80000"/><rect x="0" y="336" width="60" height="16" fill="#c4bc00"/><rect x="60" y="336" width="20" height="16" fill="#00d800"/><rect x="80" y="336" width="60" height="16" fill="#00b400"/><rect x="140" y="336" width="60" height="16" fill="#00d800"/><rect x="200" y="336" width="60" height="16" fill="#eeee00"/><rect x="260" y="336" width="40" height="16" fill="#a80000"/><rect x="300" y="336" width="40" height="16" fill="#ee0000"/><rect x="340" y="336" width="60" height="16" fill="#eeee00"/><rect x="400" y="336" width="120" height="16" fill="#ee0000"/><rect x="520" y="336" width="20" height="16" fill="#eeee00"/><rect x="540" y="336" width="60" height="16" fill="#ee0000"/><rect x="600" y="336" width="40" height="16" fill="#eeee00"/><rect x="0" y="352" width="120" height="16" fill="#c4bc00"/><rect x="120" y="352" width="40" height="16" fill="#00d800"/><rect x="160" y="352" width="100" height="16" fill="#eeee00"/><rect x="260" y="352" width="20" height="16" fill="#a80000"/><rect x="280" y="352" width="60" height="16" fill="#ee0000"/><rect x="340" y="352" width="40" height="16" fill="#eeee00"/><rect x="380" y="352" width="160" height="16" fill="#ee0000"/><rect x="540" y="352" width="100" height="16" fill="#eeee00"/><rect x="0" y="368" width="100" height="16" fill="#ee0000"/><rect x="100" y="368" width="20" height="16" fill="#eeee00"/><rect x="120" y="368" width="20" height="16" fill="#c4bc00"/><rect x="140" y="368" width="80" height="16" fill="#ee0000"/><rect x="220" y="368" width="20" height="16" fill="#eeee00"/><rect x="240" y="368" width="200" height="16" fill="#ee0000"/><rect x="440" y="368" width="20" height="16" fill="#c4bc00"/><rect x="460" y="368" width="20" height="16" fill="#ee0000"/><rect x="480" y="368" width="20" height="16" fill="#9a10c8"/><rect x="500" y="368" width="20" height="16" fill="#ee0000"/><rect x="520" y="368" width="20" height="16" fill="#000000"/><rect x="540" y="368" width="100" height="16" fill="#ee0000"/><rect x="0" y="384" width="40" height="16" fill="#ee0000"/><rect x="40" y="384" width="40" height="16" fill="#9a10c8"/><rect x="80" y="384" width="160" height="16" fill="#ee0000"/><rect x="240" y="384" width="60" height="16" fill="#9a10c8"/><rect x="300" y="384" width="40" height="16" fill="#000000"/><rect x="340" y="384" width="80" height="16" fill="#ee0000"/><rect x="420" y="384" width="20" height="16" fill="#9a10c8"/><rect x="440" y="384" width="40" height="16" fill="#00d800"/><rect x="480" y="384" width="20" height="16" fill="#9a10c8"/><rect x="500" y="384" width="140" height="16" fill="#ee0000"/><rect x="0" y="400" width="40" height="16" fill="#eeee00"/><rect x="40" y="400" width="60" height="16" fill="#ee0000"/><rect x="100" y="400" width="40" height="16" fill="#eeee00"/><rect x="140" y="400" width="140" height="16" fill="#ee0000"/><rect x="280" y="400" width="40" height="16" fill="#9a10c8"/><rect x="320" y="400" width="100" height="16" fill="#ee0000"/><rect x="420" y="400" width="20" height="16" fill="#9a10c8"/><rect x="440" y="400" width="20" height="16" fill="#00d800"/><rect x="460" y="400" width="20" height="16" fill="#ee0000"/><rect x="480" y="400" width="20" height="16" fill="#9a10c8"/><rect x="500" y="400" width="20" height="16" fill="#eeee00"/><rect x="520" y="400" width="120" height="16" fill="#ee0000"/><rect x="0" y="416" width="180" height="16" fill="#eeee00"/><rect x="180" y="416" width="20" height="16" fill="#ee0000"/><rect x="200" y="416" width="40" height="16" fill="#eeee00"/><rect x="240" y="416" width="200" height="16" fill="#ee0000"/><rect x="440" y="416" width="20" height="16" fill="#00d0d4"/><rect x="460" y="416" width="180" height="16" fill="#ee0000"/><rect x="0" y="432" width="180" height="16" fill="#eeee00"/><rect x="180" y="432" width="20" height="16" fill="#ee0000"/><rect x="200" y="432" width="40" height="16" fill="#eeee00"/><rect x="240" y="432" width="200" height="16" fill="#ee0000"/><rect x="440" y="432" width="20" height="16" fill="#00d0d4"/><rect x="460" y="432" width="180" height="16" fill="#ee0000"/></g>
<g filter="url(#thr)" fill="#5a5aa8"><rect x="0" y="0" width="40" height="16"/><rect x="540" y="0" width="20" height="16"/><rect x="0" y="16" width="40" height="16"/><rect x="540" y="16" width="20" height="16"/><rect x="0" y="32" width="60" height="16"/><rect x="60" y="48" width="20" height="16"/><rect x="60" y="64" width="20" height="16"/><rect x="80" y="80" width="20" height="16"/></g>
<g filter="url(#thr)" fill="#00007a"><rect x="40" y="0" width="20" height="16"/><rect x="120" y="0" width="40" height="16"/><rect x="240" y="0" width="20" height="16"/><rect x="300" y="0" width="40" height="16"/><rect x="40" y="16" width="20" height="16"/><rect x="120" y="16" width="40" height="16"/><rect x="240" y="16" width="20" height="16"/><rect x="300" y="16" width="40" height="16"/><rect x="120" y="32" width="60" height="16"/><rect x="300" y="32" width="60" height="16"/><rect x="540" y="32" width="20" height="16"/><rect x="80" y="48" width="60" height="16"/><rect x="320" y="48" width="20" height="16"/><rect x="460" y="48" width="20" height="16"/><rect x="80" y="64" width="20" height="16"/><rect x="120" y="64" width="20" height="16"/><rect x="420" y="64" width="20" height="16"/><rect x="460" y="64" width="20" height="16"/><rect x="100" y="80" width="40" height="16"/><rect x="420" y="80" width="40" height="16"/><rect x="100" y="96" width="40" height="16"/><rect x="200" y="128" width="40" height="16"/><rect x="200" y="144" width="40" height="16"/><rect x="160" y="176" width="20" height="16"/><rect x="200" y="176" width="20" height="16"/><rect x="300" y="176" width="20" height="16"/><rect x="480" y="176" width="20" height="16"/><rect x="200" y="208" width="40" height="16"/><rect x="200" y="224" width="40" height="16"/><rect x="200" y="240" width="40" height="16"/></g>
<g filter="url(#thr)" fill="#cfcfcf"><rect x="60" y="0" width="20" height="16"/><rect x="60" y="16" width="20" height="16"/><rect x="80" y="32" width="20" height="16"/></g>
<g filter="url(#thr)" fill="#a0a0a0"><rect x="80" y="0" width="40" height="16"/><rect x="260" y="0" width="40" height="16"/><rect x="340" y="0" width="200" height="16"/><rect x="580" y="0" width="60" height="16"/><rect x="80" y="16" width="40" height="16"/><rect x="260" y="16" width="40" height="16"/><rect x="340" y="16" width="200" height="16"/><rect x="580" y="16" width="60" height="16"/><rect x="60" y="32" width="20" height="16"/><rect x="100" y="32" width="20" height="16"/><rect x="360" y="32" width="140" height="16"/><rect x="580" y="32" width="60" height="16"/><rect x="340" y="48" width="120" height="16"/><rect x="540" y="48" width="20" height="16"/><rect x="100" y="64" width="20" height="16"/><rect x="140" y="64" width="20" height="16"/><rect x="340" y="64" width="80" height="16"/><rect x="440" y="64" width="20" height="16"/><rect x="340" y="80" width="80" height="16"/><rect x="340" y="96" width="60" height="16"/><rect x="360" y="112" width="20" height="16"/><rect x="140" y="144" width="20" height="16"/><rect x="140" y="160" width="60" height="16"/><rect x="220" y="160" width="40" height="16"/><rect x="180" y="176" width="20" height="16"/><rect x="220" y="176" width="40" height="16"/><rect x="220" y="192" width="20" height="16"/></g>
<g filter="url(#thr)" fill="#0000c8"><rect x="160" y="0" width="80" height="16"/><rect x="560" y="0" width="20" height="16"/><rect x="160" y="16" width="80" height="16"/><rect x="560" y="16" width="20" height="16"/><rect x="180" y="32" width="120" height="16"/><rect x="500" y="32" width="20" height="16"/><rect x="560" y="32" width="20" height="16"/><rect x="140" y="48" width="40" height="16"/><rect x="300" y="48" width="20" height="16"/><rect x="480" y="48" width="20" height="16"/><rect x="560" y="48" width="80" height="16"/><rect x="160" y="64" width="100" height="16"/><rect x="320" y="64" width="20" height="16"/><rect x="560" y="64" width="20" height="16"/><rect x="140" y="80" width="120" height="16"/><rect x="320" y="80" width="20" height="16"/><rect x="460" y="80" width="20" height="16"/><rect x="580" y="80" width="20" height="16"/><rect x="0" y="96" width="40" height="16"/><rect x="140" y="96" width="60" height="16"/><rect x="320" y="96" width="20" height="16"/><rect x="400" y="96" width="40" height="16"/><rect x="40" y="112" width="20" height="16"/><rect x="120" y="112" width="80" height="16"/><rect x="260" y="112" width="20" height="16"/><rect x="340" y="112" width="20" height="16"/><rect x="380" y="112" width="40" height="16"/><rect x="40" y="128" width="40" height="16"/><rect x="120" y="128" width="80" height="16"/><rect x="240" y="128" width="40" height="16"/><rect x="340" y="128" width="40" height="16"/><rect x="440" y="128" width="20" height="16"/><rect x="520" y="128" width="20" height="16"/><rect x="40" y="144" width="40" height="16"/><rect x="120" y="144" width="20" height="16"/><rect x="160" y="144" width="40" height="16"/><rect x="240" y="144" width="20" height="16"/><rect x="320" y="144" width="40" height="16"/><rect x="440" y="144" width="20" height="16"/><rect x="500" y="144" width="20" height="16"/><rect x="40" y="160" width="40" height="16"/><rect x="120" y="160" width="20" height="16"/><rect x="200" y="160" width="20" height="16"/><rect x="340" y="160" width="20" height="16"/><rect x="500" y="160" width="20" height="16"/><rect x="40" y="176" width="20" height="16"/><rect x="100" y="176" width="40" height="16"/><rect x="260" y="176" width="40" height="16"/><rect x="320" y="176" width="160" height="16"/><rect x="500" y="176" width="20" height="16"/><rect x="100" y="192" width="40" height="16"/><rect x="200" y="192" width="20" height="16"/><rect x="240" y="192" width="80" height="16"/><rect x="80" y="208" width="60" height="16"/><rect x="180" y="208" width="20" height="16"/><rect x="240" y="208" width="40" height="16"/><rect x="100" y="224" width="40" height="16"/><rect x="180" y="256" width="20" height="16"/><rect x="220" y="256" width="20" height="16"/></g>
<g filter="url(#thr)" fill="#00b2ba"><rect x="520" y="32" width="20" height="16"/><rect x="0" y="48" width="40" height="16"/><rect x="180" y="48" width="120" height="16"/><rect x="500" y="48" width="40" height="16"/><rect x="0" y="64" width="60" height="16"/><rect x="260" y="64" width="20" height="16"/><rect x="300" y="64" width="20" height="16"/><rect x="480" y="64" width="60" height="16"/><rect x="580" y="64" width="60" height="16"/><rect x="0" y="80" width="80" height="16"/><rect x="260" y="80" width="20" height="16"/><rect x="480" y="80" width="20" height="16"/><rect x="560" y="80" width="20" height="16"/><rect x="600" y="80" width="40" height="16"/><rect x="40" y="96" width="60" height="16"/><rect x="200" y="96" width="60" height="16"/><rect x="440" y="96" width="40" height="16"/><rect x="520" y="96" width="40" height="16"/><rect x="600" y="96" width="40" height="16"/><rect x="0" y="112" width="40" height="16"/><rect x="60" y="112" width="40" height="16"/><rect x="200" y="112" width="40" height="16"/><rect x="280" y="112" width="20" height="16"/><rect x="320" y="112" width="20" height="16"/><rect x="420" y="112" width="60" height="16"/><rect x="0" y="128" width="40" height="16"/><rect x="80" y="128" width="20" height="16"/><rect x="280" y="128" width="20" height="16"/><rect x="380" y="128" width="60" height="16"/><rect x="460" y="128" width="20" height="16"/><rect x="0" y="144" width="40" height="16"/><rect x="260" y="144" width="60" height="16"/><rect x="360" y="144" width="20" height="16"/><rect x="420" y="144" width="20" height="16"/><rect x="460" y="144" width="20" height="16"/><rect x="520" y="144" width="20" height="16"/><rect x="0" y="160" width="40" height="16"/><rect x="100" y="160" width="20" height="16"/><rect x="260" y="160" width="20" height="16"/><rect x="300" y="160" width="40" height="16"/><rect x="360" y="160" width="20" height="16"/><rect x="400" y="160" width="100" height="16"/><rect x="0" y="176" width="40" height="16"/><rect x="140" y="176" width="20" height="16"/><rect x="80" y="192" width="20" height="16"/><rect x="160" y="192" width="40" height="16"/><rect x="320" y="192" width="20" height="16"/><rect x="420" y="192" width="20" height="16"/><rect x="60" y="208" width="20" height="16"/><rect x="160" y="208" width="20" height="16"/><rect x="280" y="208" width="20" height="16"/><rect x="40" y="224" width="60" height="16"/><rect x="160" y="224" width="40" height="16"/><rect x="240" y="224" width="20" height="16"/><rect x="40" y="240" width="100" height="16"/><rect x="180" y="240" width="20" height="16"/><rect x="60" y="256" width="80" height="16"/><rect x="180" y="272" width="20" height="16"/><rect x="240" y="272" width="20" height="16"/><rect x="180" y="288" width="20" height="16"/><rect x="240" y="288" width="20" height="16"/></g>
<g filter="url(#thr)" fill="#00d0d4"><rect x="40" y="48" width="20" height="16"/><rect x="280" y="64" width="20" height="16"/><rect x="540" y="64" width="20" height="16"/><rect x="280" y="80" width="40" height="16"/><rect x="500" y="80" width="60" height="16"/><rect x="260" y="96" width="60" height="16"/><rect x="480" y="96" width="20" height="16"/><rect x="560" y="96" width="40" height="16"/><rect x="100" y="112" width="20" height="16"/><rect x="240" y="112" width="20" height="16"/><rect x="300" y="112" width="20" height="16"/><rect x="480" y="112" width="20" height="16"/><rect x="100" y="128" width="20" height="16"/><rect x="300" y="128" width="40" height="16"/><rect x="80" y="144" width="40" height="16"/><rect x="380" y="144" width="40" height="16"/><rect x="80" y="160" width="20" height="16"/><rect x="280" y="160" width="20" height="16"/><rect x="380" y="160" width="20" height="16"/><rect x="60" y="176" width="40" height="16"/><rect x="0" y="192" width="80" height="16"/><rect x="140" y="192" width="20" height="16"/><rect x="440" y="192" width="60" height="16"/><rect x="0" y="208" width="60" height="16"/><rect x="140" y="208" width="20" height="16"/><rect x="0" y="224" width="40" height="16"/><rect x="140" y="224" width="20" height="16"/><rect x="260" y="224" width="20" height="16"/><rect x="0" y="240" width="40" height="16"/><rect x="140" y="240" width="40" height="16"/><rect x="240" y="240" width="20" height="16"/><rect x="0" y="256" width="60" height="16"/><rect x="140" y="256" width="40" height="16"/><rect x="200" y="256" width="20" height="16"/><rect x="240" y="256" width="40" height="16"/><rect x="100" y="272" width="80" height="16"/><rect x="200" y="272" width="40" height="16"/><rect x="260" y="272" width="20" height="16"/><rect x="100" y="288" width="80" height="16"/><rect x="200" y="288" width="20" height="16"/><rect x="260" y="288" width="20" height="16"/><rect x="80" y="304" width="180" height="16"/><rect x="280" y="304" width="20" height="16"/><rect x="80" y="320" width="40" height="16"/><rect x="180" y="320" width="20" height="16"/><rect x="440" y="416" width="20" height="16"/><rect x="440" y="432" width="20" height="16"/></g>
<g filter="url(#thr)" fill="#000000"><rect x="500" y="96" width="20" height="16"/><rect x="500" y="112" width="60" height="16"/><rect x="480" y="128" width="40" height="16"/><rect x="480" y="144" width="20" height="16"/><rect x="360" y="192" width="20" height="16"/><rect x="320" y="208" width="20" height="16"/><rect x="400" y="240" width="20" height="16"/><rect x="520" y="368" width="20" height="16"/><rect x="300" y="384" width="40" height="16"/></g>
<g filter="url(#thr)" fill="#00d800"><rect x="560" y="112" width="80" height="16"/><rect x="540" y="128" width="20" height="16"/><rect x="540" y="144" width="20" height="16"/><rect x="580" y="144" width="60" height="16"/><rect x="520" y="160" width="20" height="16"/><rect x="560" y="160" width="20" height="16"/><rect x="560" y="176" width="20" height="16"/><rect x="500" y="192" width="20" height="16"/><rect x="560" y="192" width="20" height="16"/><rect x="300" y="208" width="20" height="16"/><rect x="360" y="208" width="20" height="16"/><rect x="500" y="208" width="20" height="16"/><rect x="560" y="208" width="20" height="16"/><rect x="280" y="224" width="40" height="16"/><rect x="340" y="224" width="40" height="16"/><rect x="480" y="224" width="20" height="16"/><rect x="560" y="224" width="20" height="16"/><rect x="260" y="240" width="20" height="16"/><rect x="300" y="240" width="80" height="16"/><rect x="420" y="240" width="20" height="16"/><rect x="460" y="240" width="60" height="16"/><rect x="560" y="240" width="20" height="16"/><rect x="280" y="256" width="80" height="16"/><rect x="400" y="256" width="80" height="16"/><rect x="500" y="256" width="20" height="16"/><rect x="560" y="256" width="40" height="16"/><rect x="300" y="272" width="40" height="16"/><rect x="380" y="272" width="120" height="16"/><rect x="580" y="272" width="60" height="16"/><rect x="220" y="288" width="20" height="16"/><rect x="300" y="288" width="20" height="16"/><rect x="380" y="288" width="100" height="16"/><rect x="580" y="288" width="60" height="16"/><rect x="0" y="304" width="80" height="16"/><rect x="260" y="304" width="20" height="16"/><rect x="380" y="304" width="20" height="16"/><rect x="0" y="320" width="60" height="16"/><rect x="200" y="320" width="60" height="16"/><rect x="60" y="336" width="20" height="16"/><rect x="140" y="336" width="60" height="16"/><rect x="120" y="352" width="40" height="16"/><rect x="440" y="384" width="40" height="16"/><rect x="440" y="400" width="20" height="16"/></g>
<g filter="url(#thr)" fill="#c4bc00"><rect x="560" y="128" width="80" height="16"/><rect x="560" y="144" width="20" height="16"/><rect x="540" y="160" width="20" height="16"/><rect x="520" y="176" width="20" height="16"/><rect x="340" y="192" width="20" height="16"/><rect x="380" y="192" width="40" height="16"/><rect x="520" y="192" width="40" height="16"/><rect x="340" y="208" width="20" height="16"/><rect x="380" y="208" width="60" height="16"/><rect x="460" y="208" width="40" height="16"/><rect x="520" y="208" width="40" height="16"/><rect x="320" y="224" width="20" height="16"/><rect x="380" y="224" width="100" height="16"/><rect x="500" y="224" width="60" height="16"/><rect x="280" y="240" width="20" height="16"/><rect x="380" y="240" width="20" height="16"/><rect x="440" y="240" width="20" height="16"/><rect x="520" y="240" width="40" height="16"/><rect x="360" y="256" width="40" height="16"/><rect x="480" y="256" width="20" height="16"/><rect x="520" y="256" width="40" height="16"/><rect x="280" y="272" width="20" height="16"/><rect x="500" y="272" width="80" height="16"/><rect x="280" y="288" width="20" height="16"/><rect x="540" y="288" width="40" height="16"/><rect x="300" y="304" width="20" height="16"/><rect x="320" y="320" width="20" height="16"/><rect x="0" y="336" width="60" height="16"/><rect x="0" y="352" width="120" height="16"/><rect x="120" y="368" width="20" height="16"/><rect x="440" y="368" width="20" height="16"/></g>
<g filter="url(#thr)" fill="#10ecec"><rect x="580" y="160" width="60" height="16"/><rect x="580" y="176" width="60" height="16"/><rect x="580" y="192" width="60" height="16"/><rect x="580" y="208" width="60" height="16"/><rect x="580" y="224" width="60" height="16"/><rect x="580" y="240" width="60" height="16"/><rect x="600" y="256" width="40" height="16"/></g>
<g filter="url(#thr)" fill="#eeee00"><rect x="540" y="176" width="20" height="16"/><rect x="440" y="208" width="20" height="16"/><rect x="340" y="272" width="40" height="16"/><rect x="320" y="288" width="20" height="16"/><rect x="360" y="288" width="20" height="16"/><rect x="480" y="288" width="60" height="16"/><rect x="340" y="304" width="40" height="16"/><rect x="400" y="304" width="100" height="16"/><rect x="540" y="304" width="100" height="16"/><rect x="260" y="320" width="20" height="16"/><rect x="360" y="320" width="60" height="16"/><rect x="440" y="320" width="100" height="16"/><rect x="200" y="336" width="60" height="16"/><rect x="340" y="336" width="60" height="16"/><rect x="520" y="336" width="20" height="16"/><rect x="600" y="336" width="40" height="16"/><rect x="160" y="352" width="100" height="16"/><rect x="340" y="352" width="40" height="16"/><rect x="540" y="352" width="100" height="16"/><rect x="100" y="368" width="20" height="16"/><rect x="220" y="368" width="20" height="16"/><rect x="0" y="400" width="40" height="16"/><rect x="100" y="400" width="40" height="16"/><rect x="500" y="400" width="20" height="16"/><rect x="0" y="416" width="180" height="16"/><rect x="200" y="416" width="40" height="16"/><rect x="0" y="432" width="180" height="16"/><rect x="200" y="432" width="40" height="16"/></g>
<g filter="url(#thr)" fill="#00b400"><rect x="0" y="272" width="100" height="16"/><rect x="0" y="288" width="100" height="16"/><rect x="60" y="320" width="20" height="16"/><rect x="120" y="320" width="60" height="16"/><rect x="80" y="336" width="60" height="16"/></g>
<g filter="url(#thr)" fill="#ee0000"><rect x="340" y="288" width="20" height="16"/><rect x="320" y="304" width="20" height="16"/><rect x="300" y="320" width="20" height="16"/><rect x="340" y="320" width="20" height="16"/><rect x="300" y="336" width="40" height="16"/><rect x="400" y="336" width="120" height="16"/><rect x="540" y="336" width="60" height="16"/><rect x="280" y="352" width="60" height="16"/><rect x="380" y="352" width="160" height="16"/><rect x="0" y="368" width="100" height="16"/><rect x="140" y="368" width="80" height="16"/><rect x="240" y="368" width="200" height="16"/><rect x="460" y="368" width="20" height="16"/><rect x="500" y="368" width="20" height="16"/><rect x="540" y="368" width="100" height="16"/><rect x="0" y="384" width="40" height="16"/><rect x="80" y="384" width="160" height="16"/><rect x="340" y="384" width="80" height="16"/><rect x="500" y="384" width="140" height="16"/><rect x="40" y="400" width="60" height="16"/><rect x="140" y="400" width="140" height="16"/><rect x="320" y="400" width="100" height="16"/><rect x="460" y="400" width="20" height="16"/><rect x="520" y="400" width="120" height="16"/><rect x="180" y="416" width="20" height="16"/><rect x="240" y="416" width="200" height="16"/><rect x="460" y="416" width="180" height="16"/><rect x="180" y="432" width="20" height="16"/><rect x="240" y="432" width="200" height="16"/><rect x="460" y="432" width="180" height="16"/></g>
<g filter="url(#thr)" fill="#a80000"><rect x="500" y="304" width="40" height="16"/><rect x="280" y="320" width="20" height="16"/><rect x="420" y="320" width="20" height="16"/><rect x="540" y="320" width="100" height="16"/><rect x="260" y="336" width="40" height="16"/><rect x="260" y="352" width="20" height="16"/></g>
<g filter="url(#thr)" fill="#9a10c8"><rect x="480" y="368" width="20" height="16"/><rect x="40" y="384" width="40" height="16"/><rect x="240" y="384" width="60" height="16"/><rect x="420" y="384" width="20" height="16"/><rect x="480" y="384" width="20" height="16"/><rect x="280" y="400" width="40" height="16"/><rect x="420" y="400" width="20" height="16"/><rect x="480" y="400" width="20" height="16"/></g>
</g><ellipse cx="604" cy="205" rx="60" ry="66" fill="#00c800" filter="url(#bs)"/><ellipse cx="604" cy="205" rx="56" ry="62" fill="#10e8e8" filter="url(#bs)"/><polyline points="76,128 72,140 62,156 45,172 28,186 12,197 0,204" fill="none" stroke="#007800" stroke-width="4"/><polygon fill="#000" opacity="0.8" points="316,186 340,180 345,186 322,196"/>
<polygon fill="#000" opacity="0.8" points="355,190 380,185 388,196 370,200 358,198"/>
<polygon fill="#000" opacity="0.8" points="372,206 392,200 398,214 380,216"/>
<polygon fill="#000000" points="36,66 40,67 45,74 50,82 55,95 53,96 47,85 40,75 36,70"/>
<polygon fill="#000000" points="247,42 265,40 285,44 285,58 270,62 255,55"/>
<polygon fill="#000000" points="54,284 100,290 145,297 145,305 100,298 54,294"/>
<polygon fill="#000000" points="272,370 300,366 328,365 332,375 328,388 300,390 275,388"/>
<polygon fill="#000000" points="415,160 418,161 407,187 404,186"/>
<polygon fill="#000000" points="259,16 263,18 255,40 251.5,61.6 249.4,83.3 245,105 240.7,126.6 236.4,148.2 232,169.9 228.5,190 226.5,209 223.7,221.7 221.7,238 219.8,257.3 217.9,270 211,308 204,348 197,383 190,416 102,416 110,383 117,348 142,308 155,281 160.2,270 175.6,228.5 170,215 181,213 181,207 193,206 193,161 182,150 140,146 132.5,142 139,131 158.4,107 175.8,87.6 193,68 200,57 212,44 231,32"/>
<polygon fill="#000000" points="351,211 367,215 361,231 351,251 340,260 338,251 345,233"/>
<polygon fill="#000000" points="379,218 392,220 394,237 390,246 383,246 378,235"/>
<polygon fill="#000000" points="368,244 380,244 387,265 389,288 385,310 381,334 374,375 366,416 323,416 328,385 334,350 341,320 348,295 356,285 361,276 365,258"/><use href="#bcband" fill="#fff" opacity="0.75"/><use href="#map" stroke="#fff" stroke-width="1"/></g><g transform="translate(0,416)" clip-path="url(#pc)"><g transform="translate(-20,-16)">
<g filter="url(#bl)"><rect x="0" y="0" width="40" height="16" fill="#5a5aa8"/><rect x="40" y="0" width="20" height="16" fill="#00007a"/><rect x="60" y="0" width="20" height="16" fill="#cfcfcf"/><rect x="80" y="0" width="40" height="16" fill="#a0a0a0"/><rect x="120" y="0" width="20" height="16" fill="#0000c8"/><rect x="140" y="0" width="40" height="16" fill="#00007a"/><rect x="180" y="0" width="20" height="16" fill="#0000c8"/><rect x="200" y="0" width="60" height="16" fill="#00007a"/><rect x="260" y="0" width="40" height="16" fill="#a0a0a0"/><rect x="300" y="0" width="20" height="16" fill="#0000c8"/><rect x="320" y="0" width="20" height="16" fill="#00007a"/><rect x="340" y="0" width="200" height="16" fill="#a0a0a0"/><rect x="540" y="0" width="20" height="16" fill="#5a5aa8"/><rect x="560" y="0" width="20" height="16" fill="#0000c8"/><rect x="580" y="0" width="60" height="16" fill="#a0a0a0"/><rect x="0" y="16" width="40" height="16" fill="#5a5aa8"/><rect x="40" y="16" width="20" height="16" fill="#00007a"/><rect x="60" y="16" width="20" height="16" fill="#cfcfcf"/><rect x="80" y="16" width="40" height="16" fill="#a0a0a0"/><rect x="120" y="16" width="20" height="16" fill="#0000c8"/><rect x="140" y="16" width="40" height="16" fill="#00007a"/><rect x="180" y="16" width="20" height="16" fill="#0000c8"/><rect x="200" y="16" width="60" height="16" fill="#00007a"/><rect x="260" y="16" width="40" height="16" fill="#a0a0a0"/><rect x="300" y="16" width="20" height="16" fill="#0000c8"/><rect x="320" y="16" width="20" height="16" fill="#00007a"/><rect x="340" y="16" width="200" height="16" fill="#a0a0a0"/><rect x="540" y="16" width="20" height="16" fill="#5a5aa8"/><rect x="560" y="16" width="20" height="16" fill="#0000c8"/><rect x="580" y="16" width="60" height="16" fill="#a0a0a0"/><rect x="0" y="32" width="60" height="16" fill="#5a5aa8"/><rect x="60" y="32" width="20" height="16" fill="#a0a0a0"/><rect x="80" y="32" width="20" height="16" fill="#cfcfcf"/><rect x="100" y="32" width="40" height="16" fill="#a0a0a0"/><rect x="140" y="32" width="20" height="16" fill="#00007a"/><rect x="160" y="32" width="160" height="16" fill="#0000c8"/><rect x="320" y="32" width="40" height="16" fill="#00007a"/><rect x="360" y="32" width="140" height="16" fill="#a0a0a0"/><rect x="500" y="32" width="20" height="16" fill="#0000c8"/><rect x="520" y="32" width="20" height="16" fill="#00b2ba"/><rect x="540" y="32" width="20" height="16" fill="#00007a"/><rect x="560" y="32" width="20" height="16" fill="#0000c8"/><rect x="580" y="32" width="60" height="16" fill="#a0a0a0"/><rect x="0" y="48" width="40" height="16" fill="#00b2ba"/><rect x="40" y="48" width="20" height="16" fill="#00d0d4"/><rect x="60" y="48" width="20" height="16" fill="#5a5aa8"/><rect x="80" y="48" width="60" height="16" fill="#00007a"/><rect x="140" y="48" width="40" height="16" fill="#0000c8"/><rect x="180" y="48" width="120" height="16" fill="#00b2ba"/><rect x="300" y="48" width="20" height="16" fill="#0000c8"/><rect x="320" y="48" width="20" height="16" fill="#00007a"/><rect x="340" y="48" width="120" height="16" fill="#a0a0a0"/><rect x="460" y="48" width="20" height="16" fill="#00007a"/><rect x="480" y="48" width="20" height="16" fill="#0000c8"/><rect x="500" y="48" width="40" height="16" fill="#00b2ba"/><rect x="540" y="48" width="20" height="16" fill="#a0a0a0"/><rect x="560" y="48" width="80" height="16" fill="#0000c8"/><rect x="0" y="64" width="60" height="16" fill="#00b2ba"/><rect x="60" y="64" width="20" height="16" fill="#5a5aa8"/><rect x="80" y="64" width="20" height="16" fill="#00007a"/><rect x="100" y="64" width="60" height="16" fill="#a0a0a0"/><rect x="160" y="64" width="20" height="16" fill="#0000c8"/><rect x="180" y="64" width="20" height="16" fill="#00b2ba"/><rect x="200" y="64" width="60" height="16" fill="#0000c8"/><rect x="260" y="64" width="20" height="16" fill="#00b2ba"/><rect x="280" y="64" width="20" height="16" fill="#00d0d4"/><rect x="300" y="64" width="20" height="16" fill="#00b2ba"/><rect x="320" y="64" width="20" height="16" fill="#0000c8"/><rect x="340" y="64" width="80" height="16" fill="#a0a0a0"/><rect x="420" y="64" width="20" height="16" fill="#00007a"/><rect x="440" y="64" width="20" height="16" fill="#a0a0a0"/><rect x="460" y="64" width="20" height="16" fill="#00007a"/><rect x="480" y="64" width="60" height="16" fill="#00b2ba"/><rect x="540" y="64" width="20" height="16" fill="#00d0d4"/><rect x="560" y="64" width="20" height="16" fill="#0000c8"/><rect x="580" y="64" width="60" height="16" fill="#00b2ba"/><rect x="0" y="80" width="80" height="16" fill="#00b2ba"/><rect x="80" y="80" width="20" height="16" fill="#5a5aa8"/><rect x="100" y="80" width="60" height="16" fill="#00007a"/><rect x="160" y="80" width="100" height="16" fill="#0000c8"/><rect x="260" y="80" width="20" height="16" fill="#00b2ba"/><rect x="280" y="80" width="40" height="16" fill="#00d0d4"/><rect x="320" y="80" width="20" height="16" fill="#0000c8"/><rect x="340" y="80" width="80" height="16" fill="#a0a0a0"/><rect x="420" y="80" width="40" height="16" fill="#00007a"/><rect x="460" y="80" width="20" height="16" fill="#0000c8"/><rect x="480" y="80" width="20" height="16" fill="#00b2ba"/><rect x="500" y="80" width="60" height="16" fill="#00d0d4"/><rect x="560" y="80" width="20" height="16" fill="#00b2ba"/><rect x="580" y="80" width="20" height="16" fill="#0000c8"/><rect x="600" y="80" width="40" height="16" fill="#00b2ba"/><rect x="0" y="96" width="40" height="16" fill="#0000c8"/><rect x="40" y="96" width="60" height="16" fill="#00b2ba"/><rect x="100" y="96" width="20" height="16" fill="#00007a"/><rect x="120" y="96" width="40" height="16" fill="#00b2ba"/><rect x="160" y="96" width="40" height="16" fill="#0000c8"/><rect x="200" y="96" width="60" height="16" fill="#00b2ba"/><rect x="260" y="96" width="60" height="16" fill="#00d0d4"/><rect x="320" y="96" width="20" height="16" fill="#0000c8"/><rect x="340" y="96" width="60" height="16" fill="#a0a0a0"/><rect x="400" y="96" width="40" height="16" fill="#0000c8"/><rect x="440" y="96" width="40" height="16" fill="#00b2ba"/><rect x="480" y="96" width="20" height="16" fill="#00d0d4"/><rect x="500" y="96" width="20" height="16" fill="#000000"/><rect x="520" y="96" width="40" height="16" fill="#00b2ba"/><rect x="560" y="96" width="40" height="16" fill="#00d0d4"/><rect x="600" y="96" width="40" height="16" fill="#00b2ba"/><rect x="0" y="112" width="40" height="16" fill="#00b2ba"/><rect x="40" y="112" width="20" height="16" fill="#0000c8"/><rect x="60" y="112" width="40" height="16" fill="#00b2ba"/><rect x="100" y="112" width="20" height="16" fill="#00d0d4"/><rect x="120" y="112" width="20" height="16" fill="#00b2ba"/><rect x="140" y="112" width="60" height="16" fill="#0000c8"/><rect x="200" y="112" width="60" height="16" fill="#00b2ba"/><rect x="260" y="112" width="60" height="16" fill="#00d0d4"/><rect x="320" y="112" width="20" height="16" fill="#00b2ba"/><rect x="340" y="112" width="20" height="16" fill="#0000c8"/><rect x="360" y="112" width="20" height="16" fill="#a0a0a0"/><rect x="380" y="112" width="40" height="16" fill="#0000c8"/><rect x="420" y="112" width="60" height="16" fill="#00b2ba"/><rect x="480" y="112" width="20" height="16" fill="#00d0d4"/><rect x="500" y="112" width="60" height="16" fill="#000000"/><rect x="560" y="112" width="80" height="16" fill="#00d800"/><rect x="0" y="128" width="40" height="16" fill="#00b2ba"/><rect x="40" y="128" width="40" height="16" fill="#0000c8"/><rect x="80" y="128" width="20" height="16" fill="#00b2ba"/><rect x="100" y="128" width="20" height="16" fill="#00d0d4"/><rect x="120" y="128" width="80" height="16" fill="#0000c8"/><rect x="200" y="128" width="40" height="16" fill="#00007a"/><rect x="240" y="128" width="40" height="16" fill="#0000c8"/><rect x="280" y="128" width="20" height="16" fill="#00d0d4"/><rect x="300" y="128" width="20" height="16" fill="#00b2ba"/><rect x="320" y="128" width="20" height="16" fill="#00d0d4"/><rect x="340" y="128" width="40" height="16" fill="#0000c8"/><rect x="380" y="128" width="60" height="16" fill="#00b2ba"/><rect x="440" y="128" width="20" height="16" fill="#0000c8"/><rect x="460" y="128" width="20" height="16" fill="#00b2ba"/><rect x="480" y="128" width="40" height="16" fill="#000000"/><rect x="520" y="128" width="20" height="16" fill="#0000c8"/><rect x="540" y="128" width="20" height="16" fill="#00d800"/><rect x="560" y="128" width="80" height="16" fill="#c4bc00"/><rect x="0" y="144" width="40" height="16" fill="#00b2ba"/><rect x="40" y="144" width="40" height="16" fill="#0000c8"/><rect x="80" y="144" width="40" height="16" fill="#00d0d4"/><rect x="120" y="144" width="80" height="16" fill="#0000c8"/><rect x="200" y="144" width="40" height="16" fill="#00007a"/><rect x="240" y="144" width="60" height="16" fill="#0000c8"/><rect x="300" y="144" width="20" height="16" fill="#00b2ba"/><rect x="320" y="144" width="40" height="16" fill="#0000c8"/><rect x="360" y="144" width="20" height="16" fill="#00b2ba"/><rect x="380" y="144" width="40" height="16" fill="#00d0d4"/><rect x="420" y="144" width="20" height="16" fill="#00b2ba"/><rect x="440" y="144" width="20" height="16" fill="#0000c8"/><rect x="460" y="144" width="20" height="16" fill="#00b2ba"/><rect x="480" y="144" width="20" height="16" fill="#000000"/><rect x="500" y="144" width="20" height="16" fill="#0000c8"/><rect x="520" y="144" width="20" height="16" fill="#00b2ba"/><rect x="540" y="144" width="20" height="16" fill="#00d800"/><rect x="560" y="144" width="20" height="16" fill="#c4bc00"/><rect x="580" y="144" width="60" height="16" fill="#00d800"/><rect x="0" y="160" width="40" height="16" fill="#00b2ba"/><rect x="40" y="160" width="40" height="16" fill="#0000c8"/><rect x="80" y="160" width="20" height="16" fill="#00d0d4"/><rect x="100" y="160" width="40" height="16" fill="#00b2ba"/><rect x="140" y="160" width="80" height="16" fill="#00007a"/><rect x="220" y="160" width="40" height="16" fill="#a0a0a0"/><rect x="260" y="160" width="80" height="16" fill="#00b2ba"/><rect x="340" y="160" width="20" height="16" fill="#0000c8"/><rect x="360" y="160" width="20" height="16" fill="#00b2ba"/><rect x="380" y="160" width="20" height="16" fill="#00d0d4"/><rect x="400" y="160" width="100" height="16" fill="#00b2ba"/><rect x="500" y="160" width="20" height="16" fill="#0000c8"/><rect x="520" y="160" width="20" height="16" fill="#00d800"/><rect x="540" y="160" width="20" height="16" fill="#c4bc00"/><rect x="560" y="160" width="20" height="16" fill="#00d800"/><rect x="580" y="160" width="60" height="16" fill="#10ecec"/><rect x="0" y="176" width="40" height="16" fill="#00b2ba"/><rect x="40" y="176" width="20" height="16" fill="#0000c8"/><rect x="60" y="176" width="40" height="16" fill="#00d0d4"/><rect x="100" y="176" width="20" height="16" fill="#0000c8"/><rect x="120" y="176" width="20" height="16" fill="#00b2ba"/><rect x="140" y="176" width="80" height="16" fill="#0000c8"/><rect x="220" y="176" width="40" height="16" fill="#a0a0a0"/><rect x="260" y="176" width="20" height="16" fill="#0000c8"/><rect x="280" y="176" width="40" height="16" fill="#00007a"/><rect x="320" y="176" width="160" height="16" fill="#0000c8"/><rect x="480" y="176" width="20" height="16" fill="#00007a"/><rect x="500" y="176" width="20" height="16" fill="#0000c8"/><rect x="520" y="176" width="20" height="16" fill="#c4bc00"/><rect x="540" y="176" width="20" height="16" fill="#eeee00"/><rect x="560" y="176" width="20" height="16" fill="#00d800"/><rect x="580" y="176" width="60" height="16" fill="#10ecec"/><rect x="0" y="192" width="80" height="16" fill="#00d0d4"/><rect x="80" y="192" width="20" height="16" fill="#00b2ba"/><rect x="100" y="192" width="60" height="16" fill="#0000c8"/><rect x="160" y="192" width="20" height="16" fill="#00b2ba"/><rect x="180" y="192" width="20" height="16" fill="#0000c8"/><rect x="200" y="192" width="40" height="16" fill="#a0a0a0"/><rect x="240" y="192" width="20" height="16" fill="#00007a"/><rect x="260" y="192" width="20" height="16" fill="#0000c8"/><rect x="280" y="192" width="60" height="16" fill="#00b2ba"/><rect x="340" y="192" width="20" height="16" fill="#c4bc00"/><rect x="360" y="192" width="20" height="16" fill="#000000"/><rect x="380" y="192" width="40" height="16" fill="#c4bc00"/><rect x="420" y="192" width="20" height="16" fill="#00b2ba"/><rect x="440" y="192" width="60" height="16" fill="#00d0d4"/><rect x="500" y="192" width="20" height="16" fill="#00d800"/><rect x="520" y="192" width="40" height="16" fill="#c4bc00"/><rect x="560" y="192" width="20" height="16" fill="#00d800"/><rect x="580" y="192" width="60" height="16" fill="#10ecec"/><rect x="0" y="208" width="60" height="16" fill="#00d0d4"/><rect x="60" y="208" width="20" height="16" fill="#00b2ba"/><rect x="80" y="208" width="80" height="16" fill="#0000c8"/><rect x="160" y="208" width="20" height="16" fill="#00b2ba"/><rect x="180" y="208" width="80" height="16" fill="#00007a"/><rect x="260" y="208" width="40" height="16" fill="#00b2ba"/><rect x="300" y="208" width="20" height="16" fill="#00d800"/><rect x="320" y="208" width="20" height="16" fill="#000000"/><rect x="340" y="208" width="20" height="16" fill="#c4bc00"/><rect x="360" y="208" width="20" height="16" fill="#00d800"/><rect x="380" y="208" width="60" height="16" fill="#c4bc00"/><rect x="440" y="208" width="20" height="16" fill="#eeee00"/><rect x="460" y="208" width="40" height="16" fill="#c4bc00"/><rect x="500" y="208" width="20" height="16" fill="#00d800"/><rect x="520" y="208" width="40" height="16" fill="#c4bc00"/><rect x="560" y="208" width="20" height="16" fill="#00d800"/><rect x="580" y="208" width="60" height="16" fill="#10ecec"/><rect x="0" y="224" width="40" height="16" fill="#00d0d4"/><rect x="40" y="224" width="60" height="16" fill="#00b2ba"/><rect x="100" y="224" width="20" height="16" fill="#0000c8"/><rect x="120" y="224" width="20" height="16" fill="#00b2ba"/><rect x="140" y="224" width="60" height="16" fill="#0000c8"/><rect x="200" y="224" width="40" height="16" fill="#00007a"/><rect x="240" y="224" width="20" height="16" fill="#0000c8"/><rect x="260" y="224" width="40" height="16" fill="#00b2ba"/><rect x="300" y="224" width="20" height="16" fill="#00d800"/><rect x="320" y="224" width="20" height="16" fill="#c4bc00"/><rect x="340" y="224" width="40" height="16" fill="#00d800"/><rect x="380" y="224" width="100" height="16" fill="#c4bc00"/><rect x="480" y="224" width="20" height="16" fill="#00d800"/><rect x="500" y="224" width="60" height="16" fill="#c4bc00"/><rect x="560" y="224" width="20" height="16" fill="#00d800"/><rect x="580" y="224" width="60" height="16" fill="#10ecec"/><rect x="0" y="240" width="40" height="16" fill="#00d0d4"/><rect x="40" y="240" width="120" height="16" fill="#00b2ba"/><rect x="160" y="240" width="20" height="16" fill="#0000c8"/><rect x="180" y="240" width="20" height="16" fill="#00b2ba"/><rect x="200" y="240" width="40" height="16" fill="#00007a"/><rect x="240" y="240" width="40" height="16" fill="#00b2ba"/><rect x="280" y="240" width="100" height="16" fill="#00d800"/><rect x="380" y="240" width="20" height="16" fill="#c4bc00"/><rect x="400" y="240" width="20" height="16" fill="#000000"/><rect x="420" y="240" width="20" height="16" fill="#00d800"/><rect x="440" y="240" width="20" height="16" fill="#c4bc00"/><rect x="460" y="240" width="60" height="16" fill="#00d800"/><rect x="520" y="240" width="40" height="16" fill="#c4bc00"/><rect x="560" y="240" width="20" height="16" fill="#00d800"/><rect x="580" y="240" width="60" height="16" fill="#10ecec"/><rect x="0" y="256" width="60" height="16" fill="#00d0d4"/><rect x="60" y="256" width="120" height="16" fill="#00b2ba"/><rect x="180" y="256" width="20" height="16" fill="#0000c8"/><rect x="200" y="256" width="20" height="16" fill="#00d0d4"/><rect x="220" y="256" width="20" height="16" fill="#0000c8"/><rect x="240" y="256" width="20" height="16" fill="#00b2ba"/><rect x="260" y="256" width="20" height="16" fill="#0000c8"/><rect x="280" y="256" width="80" height="16" fill="#00d800"/><rect x="360" y="256" width="40" height="16" fill="#c4bc00"/><rect x="400" y="256" width="80" height="16" fill="#00d800"/><rect x="480" y="256" width="20" height="16" fill="#c4bc00"/><rect x="500" y="256" width="20" height="16" fill="#00d800"/><rect x="520" y="256" width="40" height="16" fill="#c4bc00"/><rect x="560" y="256" width="40" height="16" fill="#00d800"/><rect x="600" y="256" width="40" height="16" fill="#10ecec"/><rect x="0" y="272" width="100" height="16" fill="#00b400"/><rect x="100" y="272" width="20" height="16" fill="#00d0d4"/><rect x="120" y="272" width="20" height="16" fill="#00b2ba"/><rect x="140" y="272" width="20" height="16" fill="#00d0d4"/><rect x="160" y="272" width="40" height="16" fill="#00b2ba"/><rect x="200" y="272" width="60" height="16" fill="#00d0d4"/><rect x="260" y="272" width="20" height="16" fill="#00b2ba"/><rect x="280" y="272" width="60" height="16" fill="#00d800"/><rect x="340" y="272" width="40" height="16" fill="#eeee00"/><rect x="380" y="272" width="120" height="16" fill="#00d800"/><rect x="500" y="272" width="80" height="16" fill="#c4bc00"/><rect x="580" y="272" width="60" height="16" fill="#00d800"/><rect x="0" y="288" width="100" height="16" fill="#00b400"/><rect x="100" y="288" width="20" height="16" fill="#00d0d4"/><rect x="120" y="288" width="80" height="16" fill="#00b2ba"/><rect x="200" y="288" width="20" height="16" fill="#00d0d4"/><rect x="220" y="288" width="20" height="16" fill="#00d800"/><rect x="240" y="288" width="20" height="16" fill="#00b2ba"/><rect x="260" y="288" width="20" height="16" fill="#00d0d4"/><rect x="280" y="288" width="20" height="16" fill="#00d800"/><rect x="300" y="288" width="20" height="16" fill="#c4bc00"/><rect x="320" y="288" width="20" height="16" fill="#eeee00"/><rect x="340" y="288" width="20" height="16" fill="#ee0000"/><rect x="360" y="288" width="20" height="16" fill="#eeee00"/><rect x="380" y="288" width="100" height="16" fill="#00d800"/><rect x="480" y="288" width="60" height="16" fill="#eeee00"/><rect x="540" y="288" width="40" height="16" fill="#c4bc00"/><rect x="580" y="288" width="60" height="16" fill="#00d800"/><rect x="0" y="304" width="80" height="16" fill="#00d800"/><rect x="80" y="304" width="200" height="16" fill="#00d0d4"/><rect x="280" y="304" width="20" height="16" fill="#00d800"/><rect x="300" y="304" width="40" height="16" fill="#ee0000"/><rect x="340" y="304" width="40" height="16" fill="#eeee00"/><rect x="380" y="304" width="20" height="16" fill="#00d800"/><rect x="400" y="304" width="100" height="16" fill="#eeee00"/><rect x="500" y="304" width="40" height="16" fill="#a80000"/><rect x="540" y="304" width="100" height="16" fill="#eeee00"/><rect x="0" y="320" width="60" height="16" fill="#00d800"/><rect x="60" y="320" width="20" height="16" fill="#00b400"/><rect x="80" y="320" width="40" height="16" fill="#00d0d4"/><rect x="120" y="320" width="20" height="16" fill="#00b400"/><rect x="140" y="320" width="20" height="16" fill="#00d0d4"/><rect x="160" y="320" width="20" height="16" fill="#00b400"/><rect x="180" y="320" width="20" height="16" fill="#00d0d4"/><rect x="200" y="320" width="60" height="16" fill="#00d800"/><rect x="260" y="320" width="40" height="16" fill="#eeee00"/><rect x="300" y="320" width="20" height="16" fill="#a80000"/><rect x="320" y="320" width="20" height="16" fill="#c4bc00"/><rect x="340" y="320" width="20" height="16" fill="#ee0000"/><rect x="360" y="320" width="60" height="16" fill="#eeee00"/><rect x="420" y="320" width="20" height="16" fill="#a80000"/><rect x="440" y="320" width="100" height="16" fill="#eeee00"/><rect x="540" y="320" width="100" height="16" fill="#a80000"/><rect x="0" y="336" width="60" height="16" fill="#c4bc00"/><rect x="60" y="336" width="20" height="16" fill="#00d800"/><rect x="80" y="336" width="60" height="16" fill="#00b400"/><rect x="140" y="336" width="60" height="16" fill="#00d800"/><rect x="200" y="336" width="60" height="16" fill="#eeee00"/><rect x="260" y="336" width="60" height="16" fill="#a80000"/><rect x="320" y="336" width="20" height="16" fill="#ee0000"/><rect x="340" y="336" width="60" height="16" fill="#eeee00"/><rect x="400" y="336" width="120" height="16" fill="#ee0000"/><rect x="520" y="336" width="20" height="16" fill="#eeee00"/><rect x="540" y="336" width="60" height="16" fill="#ee0000"/><rect x="600" y="336" width="40" height="16" fill="#eeee00"/><rect x="0" y="352" width="140" height="16" fill="#c4bc00"/><rect x="140" y="352" width="140" height="16" fill="#eeee00"/><rect x="280" y="352" width="60" height="16" fill="#ee0000"/><rect x="340" y="352" width="40" height="16" fill="#eeee00"/><rect x="380" y="352" width="160" height="16" fill="#ee0000"/><rect x="540" y="352" width="100" height="16" fill="#eeee00"/><rect x="0" y="368" width="100" height="16" fill="#ee0000"/><rect x="100" y="368" width="40" height="16" fill="#eeee00"/><rect x="140" y="368" width="80" height="16" fill="#ee0000"/><rect x="220" y="368" width="40" height="16" fill="#eeee00"/><rect x="260" y="368" width="180" height="16" fill="#ee0000"/><rect x="440" y="368" width="20" height="16" fill="#c4bc00"/><rect x="460" y="368" width="20" height="16" fill="#ee0000"/><rect x="480" y="368" width="20" height="16" fill="#9a10c8"/><rect x="500" y="368" width="20" height="16" fill="#ee0000"/><rect x="520" y="368" width="20" height="16" fill="#000000"/><rect x="540" y="368" width="100" height="16" fill="#ee0000"/><rect x="0" y="384" width="40" height="16" fill="#ee0000"/><rect x="40" y="384" width="40" height="16" fill="#9a10c8"/><rect x="80" y="384" width="160" height="16" fill="#ee0000"/><rect x="240" y="384" width="80" height="16" fill="#9a10c8"/><rect x="320" y="384" width="20" height="16" fill="#000000"/><rect x="340" y="384" width="80" height="16" fill="#ee0000"/><rect x="420" y="384" width="20" height="16" fill="#9a10c8"/><rect x="440" y="384" width="40" height="16" fill="#00d800"/><rect x="480" y="384" width="20" height="16" fill="#9a10c8"/><rect x="500" y="384" width="140" height="16" fill="#ee0000"/><rect x="0" y="400" width="40" height="16" fill="#eeee00"/><rect x="40" y="400" width="60" height="16" fill="#ee0000"/><rect x="100" y="400" width="20" height="16" fill="#eeee00"/><rect x="120" y="400" width="160" height="16" fill="#ee0000"/><rect x="280" y="400" width="20" height="16" fill="#9a10c8"/><rect x="300" y="400" width="120" height="16" fill="#ee0000"/><rect x="420" y="400" width="20" height="16" fill="#9a10c8"/><rect x="440" y="400" width="20" height="16" fill="#00d800"/><rect x="460" y="400" width="20" height="16" fill="#ee0000"/><rect x="480" y="400" width="20" height="16" fill="#9a10c8"/><rect x="500" y="400" width="20" height="16" fill="#eeee00"/><rect x="520" y="400" width="120" height="16" fill="#ee0000"/><rect x="0" y="416" width="180" height="16" fill="#eeee00"/><rect x="180" y="416" width="20" height="16" fill="#ee0000"/><rect x="200" y="416" width="40" height="16" fill="#eeee00"/><rect x="240" y="416" width="200" height="16" fill="#ee0000"/><rect x="440" y="416" width="20" height="16" fill="#00d0d4"/><rect x="460" y="416" width="180" height="16" fill="#ee0000"/><rect x="0" y="432" width="180" height="16" fill="#eeee00"/><rect x="180" y="432" width="20" height="16" fill="#ee0000"/><rect x="200" y="432" width="40" height="16" fill="#eeee00"/><rect x="240" y="432" width="200" height="16" fill="#ee0000"/><rect x="440" y="432" width="20" height="16" fill="#00d0d4"/><rect x="460" y="432" width="180" height="16" fill="#ee0000"/></g>
<g filter="url(#thr)" fill="#5a5aa8"><rect x="0" y="0" width="40" height="16"/><rect x="540" y="0" width="20" height="16"/><rect x="0" y="16" width="40" height="16"/><rect x="540" y="16" width="20" height="16"/><rect x="0" y="32" width="60" height="16"/><rect x="60" y="48" width="20" height="16"/><rect x="60" y="64" width="20" height="16"/><rect x="80" y="80" width="20" height="16"/></g>
<g filter="url(#thr)" fill="#00007a"><rect x="40" y="0" width="20" height="16"/><rect x="140" y="0" width="40" height="16"/><rect x="200" y="0" width="60" height="16"/><rect x="320" y="0" width="20" height="16"/><rect x="40" y="16" width="20" height="16"/><rect x="140" y="16" width="40" height="16"/><rect x="200" y="16" width="60" height="16"/><rect x="320" y="16" width="20" height="16"/><rect x="140" y="32" width="20" height="16"/><rect x="320" y="32" width="40" height="16"/><rect x="540" y="32" width="20" height="16"/><rect x="80" y="48" width="60" height="16"/><rect x="320" y="48" width="20" height="16"/><rect x="460" y="48" width="20" height="16"/><rect x="80" y="64" width="20" height="16"/><rect x="420" y="64" width="20" height="16"/><rect x="460" y="64" width="20" height="16"/><rect x="100" y="80" width="60" height="16"/><rect x="420" y="80" width="40" height="16"/><rect x="100" y="96" width="20" height="16"/><rect x="200" y="128" width="40" height="16"/><rect x="200" y="144" width="40" height="16"/><rect x="140" y="160" width="80" height="16"/><rect x="280" y="176" width="40" height="16"/><rect x="480" y="176" width="20" height="16"/><rect x="240" y="192" width="20" height="16"/><rect x="180" y="208" width="80" height="16"/><rect x="200" y="224" width="40" height="16"/><rect x="200" y="240" width="40" height="16"/></g>
<g filter="url(#thr)" fill="#cfcfcf"><rect x="60" y="0" width="20" height="16"/><rect x="60" y="16" width="20" height="16"/><rect x="80" y="32" width="20" height="16"/></g>
<g filter="url(#thr)" fill="#a0a0a0"><rect x="80" y="0" width="40" height="16"/><rect x="260" y="0" width="40" height="16"/><rect x="340" y="0" width="200" height="16"/><rect x="580" y="0" width="60" height="16"/><rect x="80" y="16" width="40" height="16"/><rect x="260" y="16" width="40" height="16"/><rect x="340" y="16" width="200" height="16"/><rect x="580" y="16" width="60" height="16"/><rect x="60" y="32" width="20" height="16"/><rect x="100" y="32" width="40" height="16"/><rect x="360" y="32" width="140" height="16"/><rect x="580" y="32" width="60" height="16"/><rect x="340" y="48" width="120" height="16"/><rect x="540" y="48" width="20" height="16"/><rect x="100" y="64" width="60" height="16"/><rect x="340" y="64" width="80" height="16"/><rect x="440" y="64" width="20" height="16"/><rect x="340" y="80" width="80" height="16"/><rect x="340" y="96" width="60" height="16"/><rect x="360" y="112" width="20" height="16"/><rect x="220" y="160" width="40" height="16"/><rect x="220" y="176" width="40" height="16"/><rect x="200" y="192" width="40" height="16"/></g>
<g filter="url(#thr)" fill="#0000c8"><rect x="120" y="0" width="20" height="16"/><rect x="180" y="0" width="20" height="16"/><rect x="300" y="0" width="20" height="16"/><rect x="560" y="0" width="20" height="16"/><rect x="120" y="16" width="20" height="16"/><rect x="180" y="16" width="20" height="16"/><rect x="300" y="16" width="20" height="16"/><rect x="560" y="16" width="20" height="16"/><rect x="160" y="32" width="160" height="16"/><rect x="500" y="32" width="20" height="16"/><rect x="560" y="32" width="20" height="16"/><rect x="140" y="48" width="40" height="16"/><rect x="300" y="48" width="20" height="16"/><rect x="480" y="48" width="20" height="16"/><rect x="560" y="48" width="80" height="16"/><rect x="160" y="64" width="20" height="16"/><rect x="200" y="64" width="60" height="16"/><rect x="320" y="64" width="20" height="16"/><rect x="560" y="64" width="20" height="16"/><rect x="160" y="80" width="100" height="16"/><rect x="320" y="80" width="20" height="16"/><rect x="460" y="80" width="20" height="16"/><rect x="580" y="80" width="20" height="16"/><rect x="0" y="96" width="40" height="16"/><rect x="160" y="96" width="40" height="16"/><rect x="320" y="96" width="20" height="16"/><rect x="400" y="96" width="40" height="16"/><rect x="40" y="112" width="20" height="16"/><rect x="140" y="112" width="60" height="16"/><rect x="340" y="112" width="20" height="16"/><rect x="380" y="112" width="40" height="16"/><rect x="40" y="128" width="40" height="16"/><rect x="120" y="128" width="80" height="16"/><rect x="240" y="128" width="40" height="16"/><rect x="340" y="128" width="40" height="16"/><rect x="440" y="128" width="20" height="16"/><rect x="520" y="128" width="20" height="16"/><rect x="40" y="144" width="40" height="16"/><rect x="120" y="144" width="80" height="16"/><rect x="240" y="144" width="60" height="16"/><rect x="320" y="144" width="40" height="16"/><rect x="440" y="144" width="20" height="16"/><rect x="500" y="144" width="20" height="16"/><rect x="40" y="160" width="40" height="16"/><rect x="340" y="160" width="20" height="16"/><rect x="500" y="160" width="20" height="16"/><rect x="40" y="176" width="20" height="16"/><rect x="100" y="176" width="20" height="16"/><rect x="140" y="176" width="80" height="16"/><rect x="260" y="176" width="20" height="16"/><rect x="320" y="176" width="160" height="16"/><rect x="500" y="176" width="20" height="16"/><rect x="100" y="192" width="60" height="16"/><rect x="180" y="192" width="20" height="16"/><rect x="260" y="192" width="20" height="16"/><rect x="80" y="208" width="80" height="16"/><rect x="100" y="224" width="20" height="16"/><rect x="140" y="224" width="60" height="16"/><rect x="240" y="224" width="20" height="16"/><rect x="160" y="240" width="20" height="16"/><rect x="180" y="256" width="20" height="16"/><rect x="220" y="256" width="20" height="16"/><rect x="260" y="256" width="20" height="16"/></g>
<g filter="url(#thr)" fill="#00b2ba"><rect x="520" y="32" width="20" height="16"/><rect x="0" y="48" width="40" height="16"/><rect x="180" y="48" width="120" height="16"/><rect x="500" y="48" width="40" height="16"/><rect x="0" y="64" width="60" height="16"/><rect x="180" y="64" width="20" height="16"/><rect x="260" y="64" width="20" height="16"/><rect x="300" y="64" width="20" height="16"/><rect x="480" y="64" width="60" height="16"/><rect x="580" y="64" width="60" height="16"/><rect x="0" y="80" width="80" height="16"/><rect x="260" y="80" width="20" height="16"/><rect x="480" y="80" width="20" height="16"/><rect x="560" y="80" width="20" height="16"/><rect x="600" y="80" width="40" height="16"/><rect x="40" y="96" width="60" height="16"/><rect x="120" y="96" width="40" height="16"/><rect x="200" y="96" width="60" height="16"/><rect x="440" y="96" width="40" height="16"/><rect x="520" y="96" width="40" height="16"/><rect x="600" y="96" width="40" height="16"/><rect x="0" y="112" width="40" height="16"/><rect x="60" y="112" width="40" height="16"/><rect x="120" y="112" width="20" height="16"/><rect x="200" y="112" width="60" height="16"/><rect x="320" y="112" width="20" height="16"/><rect x="420" y="112" width="60" height="16"/><rect x="0" y="128" width="40" height="16"/><rect x="80" y="128" width="20" height="16"/><rect x="300" y="128" width="20" height="16"/><rect x="380" y="128" width="60" height="16"/><rect x="460" y="128" width="20" height="16"/><rect x="0" y="144" width="40" height="16"/><rect x="300" y="144" width="20" height="16"/><rect x="360" y="144" width="20" height="16"/><rect x="420" y="144" width="20" height="16"/><rect x="460" y="144" width="20" height="16"/><rect x="520" y="144" width="20" height="16"/><rect x="0" y="160" width="40" height="16"/><rect x="100" y="160" width="40" height="16"/><rect x="260" y="160" width="80" height="16"/><rect x="360" y="160" width="20" height="16"/><rect x="400" y="160" width="100" height="16"/><rect x="0" y="176" width="40" height="16"/><rect x="120" y="176" width="20" height="16"/><rect x="80" y="192" width="20" height="16"/><rect x="160" y="192" width="20" height="16"/><rect x="280" y="192" width="60" height="16"/><rect x="420" y="192" width="20" height="16"/><rect x="60" y="208" width="20" height="16"/><rect x="160" y="208" width="20" height="16"/><rect x="260" y="208" width="40" height="16"/><rect x="40" y="224" width="60" height="16"/><rect x="120" y="224" width="20" height="16"/><rect x="260" y="224" width="40" height="16"/><rect x="40" y="240" width="120" height="16"/><rect x="180" y="240" width="20" height="16"/><rect x="240" y="240" width="40" height="16"/><rect x="60" y="256" width="120" height="16"/><rect x="240" y="256" width="20" height="16"/><rect x="120" y="272" width="20" height="16"/><rect x="160" y="272" width="40" height="16"/><rect x="260" y="272" width="20" height="16"/><rect x="120" y="288" width="80" height="16"/><rect x="240" y="288" width="20" height="16"/></g>
<g filter="url(#thr)" fill="#00d0d4"><rect x="40" y="48" width="20" height="16"/><rect x="280" y="64" width="20" height="16"/><rect x="540" y="64" width="20" height="16"/><rect x="280" y="80" width="40" height="16"/><rect x="500" y="80" width="60" height="16"/><rect x="260" y="96" width="60" height="16"/><rect x="480" y="96" width="20" height="16"/><rect x="560" y="96" width="40" height="16"/><rect x="100" y="112" width="20" height="16"/><rect x="260" y="112" width="60" height="16"/><rect x="480" y="112" width="20" height="16"/><rect x="100" y="128" width="20" height="16"/><rect x="280" y="128" width="20" height="16"/><rect x="320" y="128" width="20" height="16"/><rect x="80" y="144" width="40" height="16"/><rect x="380" y="144" width="40" height="16"/><rect x="80" y="160" width="20" height="16"/><rect x="380" y="160" width="20" height="16"/><rect x="60" y="176" width="40" height="16"/><rect x="0" y="192" width="80" height="16"/><rect x="440" y="192" width="60" height="16"/><rect x="0" y="208" width="60" height="16"/><rect x="0" y="224" width="40" height="16"/><rect x="0" y="240" width="40" height="16"/><rect x="0" y="256" width="60" height="16"/><rect x="200" y="256" width="20" height="16"/><rect x="100" y="272" width="20" height="16"/><rect x="140" y="272" width="20" height="16"/><rect x="200" y="272" width="60" height="16"/><rect x="100" y="288" width="20" height="16"/><rect x="200" y="288" width="20" height="16"/><rect x="260" y="288" width="20" height="16"/><rect x="80" y="304" width="200" height="16"/><rect x="80" y="320" width="40" height="16"/><rect x="140" y="320" width="20" height="16"/><rect x="180" y="320" width="20" height="16"/><rect x="440" y="416" width="20" height="16"/><rect x="440" y="432" width="20" height="16"/></g>
<g filter="url(#thr)" fill="#000000"><rect x="500" y="96" width="20" height="16"/><rect x="500" y="112" width="60" height="16"/><rect x="480" y="128" width="40" height="16"/><rect x="480" y="144" width="20" height="16"/><rect x="360" y="192" width="20" height="16"/><rect x="320" y="208" width="20" height="16"/><rect x="400" y="240" width="20" height="16"/><rect x="520" y="368" width="20" height="16"/><rect x="320" y="384" width="20" height="16"/></g>
<g filter="url(#thr)" fill="#00d800"><rect x="560" y="112" width="80" height="16"/><rect x="540" y="128" width="20" height="16"/><rect x="540" y="144" width="20" height="16"/><rect x="580" y="144" width="60" height="16"/><rect x="520" y="160" width="20" height="16"/><rect x="560" y="160" width="20" height="16"/><rect x="560" y="176" width="20" height="16"/><rect x="500" y="192" width="20" height="16"/><rect x="560" y="192" width="20" height="16"/><rect x="300" y="208" width="20" height="16"/><rect x="360" y="208" width="20" height="16"/><rect x="500" y="208" width="20" height="16"/><rect x="560" y="208" width="20" height="16"/><rect x="300" y="224" width="20" height="16"/><rect x="340" y="224" width="40" height="16"/><rect x="480" y="224" width="20" height="16"/><rect x="560" y="224" width="20" height="16"/><rect x="280" y="240" width="100" height="16"/><rect x="420" y="240" width="20" height="16"/><rect x="460" y="240" width="60" height="16"/><rect x="560" y="240" width="20" height="16"/><rect x="280" y="256" width="80" height="16"/><rect x="400" y="256" width="80" height="16"/><rect x="500" y="256" width="20" height="16"/><rect x="560" y="256" width="40" height="16"/><rect x="280" y="272" width="60" height="16"/><rect x="380" y="272" width="120" height="16"/><rect x="580" y="272" width="60" height="16"/><rect x="220" y="288" width="20" height="16"/><rect x="280" y="288" width="20" height="16"/><rect x="380" y="288" width="100" height="16"/><rect x="580" y="288" width="60" height="16"/><rect x="0" y="304" width="80" height="16"/><rect x="280" y="304" width="20" height="16"/><rect x="380" y="304" width="20" height="16"/><rect x="0" y="320" width="60" height="16"/><rect x="200" y="320" width="60" height="16"/><rect x="60" y="336" width="20" height="16"/><rect x="140" y="336" width="60" height="16"/><rect x="440" y="384" width="40" height="16"/><rect x="440" y="400" width="20" height="16"/></g>
<g filter="url(#thr)" fill="#c4bc00"><rect x="560" y="128" width="80" height="16"/><rect x="560" y="144" width="20" height="16"/><rect x="540" y="160" width="20" height="16"/><rect x="520" y="176" width="20" height="16"/><rect x="340" y="192" width="20" height="16"/><rect x="380" y="192" width="40" height="16"/><rect x="520" y="192" width="40" height="16"/><rect x="340" y="208" width="20" height="16"/><rect x="380" y="208" width="60" height="16"/><rect x="460" y="208" width="40" height="16"/><rect x="520" y="208" width="40" height="16"/><rect x="320" y="224" width="20" height="16"/><rect x="380" y="224" width="100" height="16"/><rect x="500" y="224" width="60" height="16"/><rect x="380" y="240" width="20" height="16"/><rect x="440" y="240" width="20" height="16"/><rect x="520" y="240" width="40" height="16"/><rect x="360" y="256" width="40" height="16"/><rect x="480" y="256" width="20" height="16"/><rect x="520" y="256" width="40" height="16"/><rect x="500" y="272" width="80" height="16"/><rect x="300" y="288" width="20" height="16"/><rect x="540" y="288" width="40" height="16"/><rect x="320" y="320" width="20" height="16"/><rect x="0" y="336" width="60" height="16"/><rect x="0" y="352" width="140" height="16"/><rect x="440" y="368" width="20" height="16"/></g>
<g filter="url(#thr)" fill="#10ecec"><rect x="580" y="160" width="60" height="16"/><rect x="580" y="176" width="60" height="16"/><rect x="580" y="192" width="60" height="16"/><rect x="580" y="208" width="60" height="16"/><rect x="580" y="224" width="60" height="16"/><rect x="580" y="240" width="60" height="16"/><rect x="600" y="256" width="40" height="16"/></g>
<g filter="url(#thr)" fill="#eeee00"><rect x="540" y="176" width="20" height="16"/><rect x="440" y="208" width="20" height="16"/><rect x="340" y="272" width="40" height="16"/><rect x="320" y="288" width="20" height="16"/><rect x="360" y="288" width="20" height="16"/><rect x="480" y="288" width="60" height="16"/><rect x="340" y="304" width="40" height="16"/><rect x="400" y="304" width="100" height="16"/><rect x="540" y="304" width="100" height="16"/><rect x="260" y="320" width="40" height="16"/><rect x="360" y="320" width="60" height="16"/><rect x="440" y="320" width="100" height="16"/><rect x="200" y="336" width="60" height="16"/><rect x="340" y="336" width="60" height="16"/><rect x="520" y="336" width="20" height="16"/><rect x="600" y="336" width="40" height="16"/><rect x="140" y="352" width="140" height="16"/><rect x="340" y="352" width="40" height="16"/><rect x="540" y="352" width="100" height="16"/><rect x="100" y="368" width="40" height="16"/><rect x="220" y="368" width="40" height="16"/><rect x="0" y="400" width="40" height="16"/><rect x="100" y="400" width="20" height="16"/><rect x="500" y="400" width="20" height="16"/><rect x="0" y="416" width="180" height="16"/><rect x="200" y="416" width="40" height="16"/><rect x="0" y="432" width="180" height="16"/><rect x="200" y="432" width="40" height="16"/></g>
<g filter="url(#thr)" fill="#00b400"><rect x="0" y="272" width="100" height="16"/><rect x="0" y="288" width="100" height="16"/><rect x="60" y="320" width="20" height="16"/><rect x="120" y="320" width="20" height="16"/><rect x="160" y="320" width="20" height="16"/><rect x="80" y="336" width="60" height="16"/></g>
<g filter="url(#thr)" fill="#ee0000"><rect x="340" y="288" width="20" height="16"/><rect x="300" y="304" width="40" height="16"/><rect x="340" y="320" width="20" height="16"/><rect x="320" y="336" width="20" height="16"/><rect x="400" y="336" width="120" height="16"/><rect x="540" y="336" width="60" height="16"/><rect x="280" y="352" width="60" height="16"/><rect x="380" y="352" width="160" height="16"/><rect x="0" y="368" width="100" height="16"/><rect x="140" y="368" width="80" height="16"/><rect x="260" y="368" width="180" height="16"/><rect x="460" y="368" width="20" height="16"/><rect x="500" y="368" width="20" height="16"/><rect x="540" y="368" width="100" height="16"/><rect x="0" y="384" width="40" height="16"/><rect x="80" y="384" width="160" height="16"/><rect x="340" y="384" width="80" height="16"/><rect x="500" y="384" width="140" height="16"/><rect x="40" y="400" width="60" height="16"/><rect x="120" y="400" width="160" height="16"/><rect x="300" y="400" width="120" height="16"/><rect x="460" y="400" width="20" height="16"/><rect x="520" y="400" width="120" height="16"/><rect x="180" y="416" width="20" height="16"/><rect x="240" y="416" width="200" height="16"/><rect x="460" y="416" width="180" height="16"/><rect x="180" y="432" width="20" height="16"/><rect x="240" y="432" width="200" height="16"/><rect x="460" y="432" width="180" height="16"/></g>
<g filter="url(#thr)" fill="#a80000"><rect x="500" y="304" width="40" height="16"/><rect x="300" y="320" width="20" height="16"/><rect x="420" y="320" width="20" height="16"/><rect x="540" y="320" width="100" height="16"/><rect x="260" y="336" width="60" height="16"/></g>
<g filter="url(#thr)" fill="#9a10c8"><rect x="480" y="368" width="20" height="16"/><rect x="40" y="384" width="40" height="16"/><rect x="240" y="384" width="80" height="16"/><rect x="420" y="384" width="20" height="16"/><rect x="480" y="384" width="20" height="16"/><rect x="280" y="400" width="20" height="16"/><rect x="420" y="400" width="20" height="16"/><rect x="480" y="400" width="20" height="16"/></g>
</g><ellipse cx="604" cy="205" rx="60" ry="66" fill="#00c800" filter="url(#bs)"/><ellipse cx="604" cy="205" rx="56" ry="62" fill="#10e8e8" filter="url(#bs)"/><polyline points="76,128 72,140 62,156 45,172 28,186 12,197 0,204" fill="none" stroke="#007800" stroke-width="4"/><polygon fill="#000" opacity="0.8" points="316,186 340,180 345,186 322,196"/>
<polygon fill="#000" opacity="0.8" points="355,190 380,185 388,196 370,200 358,198"/>
<polygon fill="#000" opacity="0.8" points="372,206 392,200 398,214 380,216"/>
<polygon fill="#000000" points="36,66 40,67 45,74 50,82 55,95 53,96 47,85 40,75 36,70"/>
<polygon fill="#000000" points="247,42 265,40 285,44 285,58 270,62 255,55"/>
<polygon fill="#000000" points="54,284 100,290 145,297 145,305 100,298 54,294"/>
<polygon fill="#000000" points="272,370 300,366 328,365 332,375 328,388 300,390 275,388"/>
<polygon fill="#000000" points="415,160 418,161 407,187 404,186"/>
<polygon fill="#000000" points="210.7,43 261,16.4 263.5,20.8 252,39.8 238,41.5 221,50 210.7,52"/>
<polygon fill="#000000" points="177.9,82.2 196.9,65.7 221.1,58.8 238.4,53.6 248.8,55.4 252.2,65.7 250.5,70.9 234.9,76.1 228,82.2 221.1,86.5 203.8,93.4 186.5,103.8 169.2,110.7 160,118 150,130 142,140 138,137 145,122 155,108 165,97"/>
<polygon fill="#000" opacity="0.8" points="160,250 180,244 205,246 211,262 200,275 185,288 165,288 158,270"/>
<polygon fill="#000" opacity="0.8" points="130.8,300.3 150.8,291 176.9,289.5 195.4,303.4 195.4,318.8 186.2,323.4 169.2,321.8 158.5,331 146.2,338.8 127.7,343.4 121.5,341.8 130.8,326.5 138.5,311 135.4,303.4"/>
<polygon fill="#000" opacity="0.8" points="189.2,337.2 201.5,335.7 201.5,357.2 195.4,361.8 193.8,386.5 186.2,395.7 176.9,398.8 161.5,395.7 146.2,395.7 130.8,400.3 127.7,392.6 112.3,388 109.2,380.3 115.4,357.2 138.5,355.7 161.5,354.2 173.8,355.7 186.2,354.2 189.2,346.5"/>
<polygon fill="#000000" points="361,215 378,217 372.5,240 358.6,259 347.4,276 339,273 341.8,256.5 353,231.4"/>
<polygon fill="#000000" points="378,212 392,214 393,240 388,251 380,245"/>
<polygon fill="#000" opacity="0.8" points="355.8,284.4 367,290 383.7,295.5 383.7,329 378,340 367,345.7 355.8,340 350,323.4 347.4,304"/>
<polygon fill="#000000" points="330.7,331.8 350,334.6 372.5,340 380.9,362.5 375.3,379 372.5,407 369.7,416 330.7,416 327.9,396 339,379 341.8,357"/><use href="#bcband" fill="#fff" opacity="0.75"/><use href="#map" stroke="#fff" stroke-width="1"/></g><g transform="translate(600,0)" clip-path="url(#pc)"><g transform="translate(-20,-16)">
<g filter="url(#bl)"><rect x="0" y="0" width="640" height="16" fill="#000000"/><rect x="0" y="16" width="640" height="16" fill="#000000"/><rect x="0" y="32" width="340" height="16" fill="#000000"/><rect x="340" y="32" width="20" height="16" fill="#00007a"/><rect x="360" y="32" width="20" height="16" fill="#0000c8"/><rect x="380" y="32" width="20" height="16" fill="#000000"/><rect x="400" y="32" width="20" height="16" fill="#a0a0a0"/><rect x="420" y="32" width="220" height="16" fill="#000000"/><rect x="0" y="48" width="320" height="16" fill="#000000"/><rect x="320" y="48" width="60" height="16" fill="#00007a"/><rect x="380" y="48" width="100" height="16" fill="#a0a0a0"/><rect x="480" y="48" width="160" height="16" fill="#000000"/><rect x="0" y="64" width="180" height="16" fill="#000000"/><rect x="180" y="64" width="20" height="16" fill="#00007a"/><rect x="200" y="64" width="40" height="16" fill="#0000c8"/><rect x="240" y="64" width="40" height="16" fill="#00b2ba"/><rect x="280" y="64" width="80" height="16" fill="#000000"/><rect x="360" y="64" width="120" height="16" fill="#a0a0a0"/><rect x="480" y="64" width="160" height="16" fill="#000000"/><rect x="0" y="80" width="160" height="16" fill="#000000"/><rect x="160" y="80" width="40" height="16" fill="#00007a"/><rect x="200" y="80" width="60" height="16" fill="#000000"/><rect x="260" y="80" width="40" height="16" fill="#00b2ba"/><rect x="300" y="80" width="60" height="16" fill="#000000"/><rect x="360" y="80" width="100" height="16" fill="#a0a0a0"/><rect x="460" y="80" width="180" height="16" fill="#000000"/><rect x="0" y="96" width="220" height="16" fill="#000000"/><rect x="220" y="96" width="40" height="16" fill="#00b2ba"/><rect x="260" y="96" width="60" height="16" fill="#00d0d4"/><rect x="320" y="96" width="20" height="16" fill="#0000c8"/><rect x="340" y="96" width="100" height="16" fill="#a0a0a0"/><rect x="440" y="96" width="40" height="16" fill="#00b2ba"/><rect x="480" y="96" width="160" height="16" fill="#000000"/><rect x="0" y="112" width="80" height="16" fill="#000000"/><rect x="80" y="112" width="20" height="16" fill="#0000c8"/><rect x="100" y="112" width="40" height="16" fill="#000000"/><rect x="140" y="112" width="20" height="16" fill="#0000c8"/><rect x="160" y="112" width="20" height="16" fill="#000000"/><rect x="180" y="112" width="20" height="16" fill="#0000c8"/><rect x="200" y="112" width="20" height="16" fill="#000000"/><rect x="220" y="112" width="60" height="16" fill="#0000c8"/><rect x="280" y="112" width="20" height="16" fill="#00b2ba"/><rect x="300" y="112" width="20" height="16" fill="#00d0d4"/><rect x="320" y="112" width="20" height="16" fill="#0000c8"/><rect x="340" y="112" width="40" height="16" fill="#a0a0a0"/><rect x="380" y="112" width="60" height="16" fill="#0000c8"/><rect x="440" y="112" width="40" height="16" fill="#00b2ba"/><rect x="480" y="112" width="160" height="16" fill="#000000"/><rect x="0" y="128" width="40" height="16" fill="#000000"/><rect x="40" y="128" width="60" height="16" fill="#0000c8"/><rect x="100" y="128" width="20" height="16" fill="#000000"/><rect x="120" y="128" width="40" height="16" fill="#0000c8"/><rect x="160" y="128" width="20" height="16" fill="#000000"/><rect x="180" y="128" width="40" height="16" fill="#0000c8"/><rect x="220" y="128" width="40" height="16" fill="#00007a"/><rect x="260" y="128" width="20" height="16" fill="#0000c8"/><rect x="280" y="128" width="20" height="16" fill="#00d0d4"/><rect x="300" y="128" width="20" height="16" fill="#0000c8"/><rect x="320" y="128" width="20" height="16" fill="#00b2ba"/><rect x="340" y="128" width="20" height="16" fill="#0000c8"/><rect x="360" y="128" width="20" height="16" fill="#00007a"/><rect x="380" y="128" width="20" height="16" fill="#0000c8"/><rect x="400" y="128" width="40" height="16" fill="#00b2ba"/><rect x="440" y="128" width="20" height="16" fill="#0000c8"/><rect x="460" y="128" width="20" height="16" fill="#00b2ba"/><rect x="480" y="128" width="160" height="16" fill="#000000"/><rect x="0" y="144" width="80" height="16" fill="#0000c8"/><rect x="80" y="144" width="20" height="16" fill="#000000"/><rect x="100" y="144" width="20" height="16" fill="#00b2ba"/><rect x="120" y="144" width="80" height="16" fill="#0000c8"/><rect x="200" y="144" width="60" height="16" fill="#00007a"/><rect x="260" y="144" width="20" height="16" fill="#0000c8"/><rect x="280" y="144" width="20" height="16" fill="#00b2ba"/><rect x="300" y="144" width="20" height="16" fill="#00d0d4"/><rect x="320" y="144" width="120" height="16" fill="#00b2ba"/><rect x="440" y="144" width="20" height="16" fill="#0000c8"/><rect x="460" y="144" width="40" height="16" fill="#00d0d4"/><rect x="500" y="144" width="140" height="16" fill="#000000"/><rect x="0" y="160" width="40" height="16" fill="#00b2ba"/><rect x="40" y="160" width="20" height="16" fill="#0000c8"/><rect x="60" y="160" width="40" height="16" fill="#000000"/><rect x="100" y="160" width="20" height="16" fill="#00b2ba"/><rect x="120" y="160" width="60" height="16" fill="#0000c8"/><rect x="180" y="160" width="60" height="16" fill="#00007a"/><rect x="240" y="160" width="20" height="16" fill="#a0a0a0"/><rect x="260" y="160" width="20" height="16" fill="#0000c8"/><rect x="280" y="160" width="40" height="16" fill="#00b2ba"/><rect x="320" y="160" width="120" height="16" fill="#000000"/><rect x="440" y="160" width="60" height="16" fill="#00b2ba"/><rect x="500" y="160" width="20" height="16" fill="#0000c8"/><rect x="520" y="160" width="120" height="16" fill="#000000"/><rect x="0" y="176" width="40" height="16" fill="#00d0d4"/><rect x="40" y="176" width="20" height="16" fill="#00b2ba"/><rect x="60" y="176" width="20" height="16" fill="#000000"/><rect x="80" y="176" width="40" height="16" fill="#0000c8"/><rect x="120" y="176" width="20" height="16" fill="#00b2ba"/><rect x="140" y="176" width="60" height="16" fill="#0000c8"/><rect x="200" y="176" width="20" height="16" fill="#00007a"/><rect x="220" y="176" width="40" height="16" fill="#a0a0a0"/><rect x="260" y="176" width="40" height="16" fill="#0000c8"/><rect x="300" y="176" width="20" height="16" fill="#00007a"/><rect x="320" y="176" width="120" height="16" fill="#000000"/><rect x="440" y="176" width="20" height="16" fill="#0000c8"/><rect x="460" y="176" width="20" height="16" fill="#00007a"/><rect x="480" y="176" width="20" height="16" fill="#0000c8"/><rect x="500" y="176" width="20" height="16" fill="#00b2ba"/><rect x="520" y="176" width="60" height="16" fill="#000000"/><rect x="580" y="176" width="20" height="16" fill="#00d800"/><rect x="600" y="176" width="40" height="16" fill="#000000"/><rect x="0" y="192" width="40" height="16" fill="#00d0d4"/><rect x="40" y="192" width="40" height="16" fill="#000000"/><rect x="80" y="192" width="40" height="16" fill="#0000c8"/><rect x="120" y="192" width="20" height="16" fill="#00b2ba"/><rect x="140" y="192" width="60" height="16" fill="#0000c8"/><rect x="200" y="192" width="60" height="16" fill="#a0a0a0"/><rect x="260" y="192" width="40" height="16" fill="#0000c8"/><rect x="300" y="192" width="140" height="16" fill="#000000"/><rect x="440" y="192" width="40" height="16" fill="#00b2ba"/><rect x="480" y="192" width="20" height="16" fill="#00d800"/><rect x="500" y="192" width="40" height="16" fill="#000000"/><rect x="540" y="192" width="20" height="16" fill="#c4bc00"/><rect x="560" y="192" width="20" height="16" fill="#00d800"/><rect x="580" y="192" width="20" height="16" fill="#000000"/><rect x="600" y="192" width="40" height="16" fill="#00d0d4"/><rect x="0" y="208" width="40" height="16" fill="#00d0d4"/><rect x="40" y="208" width="40" height="16" fill="#000000"/><rect x="80" y="208" width="40" height="16" fill="#0000c8"/><rect x="120" y="208" width="20" height="16" fill="#00b2ba"/><rect x="140" y="208" width="40" height="16" fill="#0000c8"/><rect x="180" y="208" width="20" height="16" fill="#00007a"/><rect x="200" y="208" width="40" height="16" fill="#a0a0a0"/><rect x="240" y="208" width="20" height="16" fill="#00007a"/><rect x="260" y="208" width="40" height="16" fill="#0000c8"/><rect x="300" y="208" width="60" height="16" fill="#000000"/><rect x="360" y="208" width="20" height="16" fill="#00d800"/><rect x="380" y="208" width="80" height="16" fill="#000000"/><rect x="460" y="208" width="20" height="16" fill="#c4bc00"/><rect x="480" y="208" width="20" height="16" fill="#00d800"/><rect x="500" y="208" width="20" height="16" fill="#000000"/><rect x="520" y="208" width="40" height="16" fill="#c4bc00"/><rect x="560" y="208" width="20" height="16" fill="#00d800"/><rect x="580" y="208" width="60" height="16" fill="#00d0d4"/><rect x="0" y="224" width="40" height="16" fill="#00b2ba"/><rect x="40" y="224" width="60" height="16" fill="#000000"/><rect x="100" y="224" width="40" height="16" fill="#0000c8"/><rect x="140" y="224" width="20" height="16" fill="#000000"/><rect x="160" y="224" width="40" height="16" fill="#00b2ba"/><rect x="200" y="224" width="60" height="16" fill="#0000c8"/><rect x="260" y="224" width="20" height="16" fill="#00b2ba"/><rect x="280" y="224" width="40" height="16" fill="#008800"/><rect x="320" y="224" width="40" height="16" fill="#00d800"/><rect x="360" y="224" width="120" height="16" fill="#000000"/><rect x="480" y="224" width="20" height="16" fill="#00d800"/><rect x="500" y="224" width="20" height="16" fill="#000000"/><rect x="520" y="224" width="40" height="16" fill="#c4bc00"/><rect x="560" y="224" width="20" height="16" fill="#00d800"/><rect x="580" y="224" width="60" height="16" fill="#10ecec"/><rect x="0" y="240" width="100" height="16" fill="#000000"/><rect x="100" y="240" width="80" height="16" fill="#00b2ba"/><rect x="180" y="240" width="20" height="16" fill="#0000c8"/><rect x="200" y="240" width="20" height="16" fill="#00b2ba"/><rect x="220" y="240" width="40" height="16" fill="#0000c8"/><rect x="260" y="240" width="20" height="16" fill="#00d0d4"/><rect x="280" y="240" width="100" height="16" fill="#00d800"/><rect x="380" y="240" width="60" height="16" fill="#000000"/><rect x="440" y="240" width="20" height="16" fill="#00d800"/><rect x="460" y="240" width="20" height="16" fill="#000000"/><rect x="480" y="240" width="40" height="16" fill="#00d800"/><rect x="520" y="240" width="40" height="16" fill="#c4bc00"/><rect x="560" y="240" width="20" height="16" fill="#00d800"/><rect x="580" y="240" width="60" height="16" fill="#10ecec"/><rect x="0" y="256" width="120" height="16" fill="#000000"/><rect x="120" y="256" width="40" height="16" fill="#00b2ba"/><rect x="160" y="256" width="40" height="16" fill="#000000"/><rect x="200" y="256" width="40" height="16" fill="#00b2ba"/><rect x="240" y="256" width="20" height="16" fill="#0000c8"/><rect x="260" y="256" width="20" height="16" fill="#00b2ba"/><rect x="280" y="256" width="80" height="16" fill="#00d800"/><rect x="360" y="256" width="20" height="16" fill="#eeee00"/><rect x="380" y="256" width="20" height="16" fill="#000000"/><rect x="400" y="256" width="20" height="16" fill="#eeee00"/><rect x="420" y="256" width="100" height="16" fill="#00d800"/><rect x="520" y="256" width="20" height="16" fill="#c4bc00"/><rect x="540" y="256" width="60" height="16" fill="#00d800"/><rect x="600" y="256" width="40" height="16" fill="#10ecec"/><rect x="0" y="272" width="200" height="16" fill="#000000"/><rect x="200" y="272" width="80" height="16" fill="#00b2ba"/><rect x="280" y="272" width="20" height="16" fill="#000000"/><rect x="300" y="272" width="60" height="16" fill="#00d800"/><rect x="360" y="272" width="20" height="16" fill="#eeee00"/><rect x="380" y="272" width="20" height="16" fill="#000000"/><rect x="400" y="272" width="120" height="16" fill="#00d800"/><rect x="520" y="272" width="20" height="16" fill="#c4bc00"/><rect x="540" y="272" width="100" height="16" fill="#00d800"/><rect x="0" y="288" width="180" height="16" fill="#000000"/><rect x="180" y="288" width="100" height="16" fill="#00b2ba"/><rect x="280" y="288" width="20" height="16" fill="#000000"/><rect x="300" y="288" width="60" height="16" fill="#eeee00"/><rect x="360" y="288" width="20" height="16" fill="#a80000"/><rect x="380" y="288" width="100" height="16" fill="#00d800"/><rect x="480" y="288" width="20" height="16" fill="#c4bc00"/><rect x="500" y="288" width="20" height="16" fill="#eeee00"/><rect x="520" y="288" width="20" height="16" fill="#c4bc00"/><rect x="540" y="288" width="100" height="16" fill="#00d800"/><rect x="0" y="304" width="160" height="16" fill="#000000"/><rect x="160" y="304" width="60" height="16" fill="#00b2ba"/><rect x="220" y="304" width="80" height="16" fill="#00d0d4"/><rect x="300" y="304" width="40" height="16" fill="#000000"/><rect x="340" y="304" width="20" height="16" fill="#a80000"/><rect x="360" y="304" width="20" height="16" fill="#000000"/><rect x="380" y="304" width="20" height="16" fill="#eeee00"/><rect x="400" y="304" width="20" height="16" fill="#c4bc00"/><rect x="420" y="304" width="220" height="16" fill="#eeee00"/><rect x="0" y="320" width="200" height="16" fill="#000000"/><rect x="200" y="320" width="40" height="16" fill="#00d0d4"/><rect x="240" y="320" width="20" height="16" fill="#00d800"/><rect x="260" y="320" width="20" height="16" fill="#c4bc00"/><rect x="280" y="320" width="20" height="16" fill="#eeee00"/><rect x="300" y="320" width="20" height="16" fill="#a80000"/><rect x="320" y="320" width="20" height="16" fill="#00d800"/><rect x="340" y="320" width="40" height="16" fill="#000000"/><rect x="380" y="320" width="260" height="16" fill="#eeee00"/><rect x="0" y="336" width="100" height="16" fill="#000000"/><rect x="100" y="336" width="20" height="16" fill="#008800"/><rect x="120" y="336" width="40" height="16" fill="#000000"/><rect x="160" y="336" width="80" height="16" fill="#00d800"/><rect x="240" y="336" width="20" height="16" fill="#000000"/><rect x="260" y="336" width="20" height="16" fill="#eeee00"/><rect x="280" y="336" width="40" height="16" fill="#a80000"/><rect x="320" y="336" width="20" height="16" fill="#ee0000"/><rect x="340" y="336" width="40" height="16" fill="#000000"/><rect x="380" y="336" width="20" height="16" fill="#eeee00"/><rect x="400" y="336" width="20" height="16" fill="#000000"/><rect x="420" y="336" width="100" height="16" fill="#a80000"/><rect x="520" y="336" width="20" height="16" fill="#eeee00"/><rect x="540" y="336" width="60" height="16" fill="#a80000"/><rect x="600" y="336" width="40" height="16" fill="#eeee00"/><rect x="0" y="352" width="100" height="16" fill="#000000"/><rect x="100" y="352" width="20" height="16" fill="#c4bc00"/><rect x="120" y="352" width="40" height="16" fill="#00d800"/><rect x="160" y="352" width="60" height="16" fill="#c4bc00"/><rect x="220" y="352" width="20" height="16" fill="#000000"/><rect x="240" y="352" width="40" height="16" fill="#eeee00"/><rect x="280" y="352" width="20" height="16" fill="#a80000"/><rect x="300" y="352" width="40" height="16" fill="#ee0000"/><rect x="340" y="352" width="20" height="16" fill="#000000"/><rect x="360" y="352" width="40" height="16" fill="#eeee00"/><rect x="400" y="352" width="20" height="16" fill="#000000"/><rect x="420" y="352" width="120" height="16" fill="#a80000"/><rect x="540" y="352" width="100" height="16" fill="#eeee00"/><rect x="0" y="368" width="140" height="16" fill="#000000"/><rect x="140" y="368" width="40" height="16" fill="#a80000"/><rect x="180" y="368" width="60" height="16" fill="#000000"/><rect x="240" y="368" width="20" height="16" fill="#eeee00"/><rect x="260" y="368" width="100" height="16" fill="#000000"/><rect x="360" y="368" width="20" height="16" fill="#a80000"/><rect x="380" y="368" width="60" height="16" fill="#000000"/><rect x="440" y="368" width="100" height="16" fill="#ee0000"/><rect x="540" y="368" width="100" height="16" fill="#000000"/><rect x="0" y="384" width="160" height="16" fill="#000000"/><rect x="160" y="384" width="20" height="16" fill="#a80000"/><rect x="180" y="384" width="220" height="16" fill="#000000"/><rect x="400" y="384" width="40" height="16" fill="#ee0000"/><rect x="440" y="384" width="20" height="16" fill="#00d800"/><rect x="460" y="384" width="40" height="16" fill="#000000"/><rect x="500" y="384" width="40" height="16" fill="#ee0000"/><rect x="540" y="384" width="40" height="16" fill="#000000"/><rect x="580" y="384" width="60" height="16" fill="#ee0000"/><rect x="0" y="400" width="80" height="16" fill="#c4bc00"/><rect x="80" y="400" width="20" height="16" fill="#000000"/><rect x="100" y="400" width="20" height="16" fill="#eeee00"/><rect x="120" y="400" width="20" height="16" fill="#a80000"/><rect x="140" y="400" width="80" height="16" fill="#000000"/><rect x="220" y="400" width="80" height="16" fill="#ee0000"/><rect x="300" y="400" width="80" height="16" fill="#000000"/><rect x="380" y="400" width="60" height="16" fill="#ee0000"/><rect x="440" y="400" width="20" height="16" fill="#00d800"/><rect x="460" y="400" width="40" height="16" fill="#ee0000"/><rect x="500" y="400" width="20" height="16" fill="#eeee00"/><rect x="520" y="400" width="20" height="16" fill="#ee0000"/><rect x="540" y="400" width="20" height="16" fill="#eeee00"/><rect x="560" y="400" width="80" height="16" fill="#ee0000"/><rect x="0" y="416" width="60" height="16" fill="#00d800"/><rect x="60" y="416" width="20" height="16" fill="#c4bc00"/><rect x="80" y="416" width="560" height="16" fill="#000000"/><rect x="0" y="432" width="60" height="16" fill="#00d800"/><rect x="60" y="432" width="20" height="16" fill="#c4bc00"/><rect x="80" y="432" width="560" height="16" fill="#000000"/></g>
<g filter="url(#thr)" fill="#000000"><rect x="0" y="0" width="640" height="16"/><rect x="0" y="16" width="640" height="16"/><rect x="0" y="32" width="340" height="16"/><rect x="380" y="32" width="20" height="16"/><rect x="420" y="32" width="220" height="16"/><rect x="0" y="48" width="320" height="16"/><rect x="480" y="48" width="160" height="16"/><rect x="0" y="64" width="180" height="16"/><rect x="280" y="64" width="80" height="16"/><rect x="480" y="64" width="160" height="16"/><rect x="0" y="80" width="160" height="16"/><rect x="200" y="80" width="60" height="16"/><rect x="300" y="80" width="60" height="16"/><rect x="460" y="80" width="180" height="16"/><rect x="0" y="96" width="220" height="16"/><rect x="480" y="96" width="160" height="16"/><rect x="0" y="112" width="80" height="16"/><rect x="100" y="112" width="40" height="16"/><rect x="160" y="112" width="20" height="16"/><rect x="200" y="112" width="20" height="16"/><rect x="480" y="112" width="160" height="16"/><rect x="0" y="128" width="40" height="16"/><rect x="100" y="128" width="20" height="16"/><rect x="160" y="128" width="20" height="16"/><rect x="480" y="128" width="160" height="16"/><rect x="80" y="144" width="20" height="16"/><rect x="500" y="144" width="140" height="16"/><rect x="60" y="160" width="40" height="16"/><rect x="320" y="160" width="120" height="16"/><rect x="520" y="160" width="120" height="16"/><rect x="60" y="176" width="20" height="16"/><rect x="320" y="176" width="120" height="16"/><rect x="520" y="176" width="60" height="16"/><rect x="600" y="176" width="40" height="16"/><rect x="40" y="192" width="40" height="16"/><rect x="300" y="192" width="140" height="16"/><rect x="500" y="192" width="40" height="16"/><rect x="580" y="192" width="20" height="16"/><rect x="40" y="208" width="40" height="16"/><rect x="300" y="208" width="60" height="16"/><rect x="380" y="208" width="80" height="16"/><rect x="500" y="208" width="20" height="16"/><rect x="40" y="224" width="60" height="16"/><rect x="140" y="224" width="20" height="16"/><rect x="360" y="224" width="120" height="16"/><rect x="500" y="224" width="20" height="16"/><rect x="0" y="240" width="100" height="16"/><rect x="380" y="240" width="60" height="16"/><rect x="460" y="240" width="20" height="16"/><rect x="0" y="256" width="120" height="16"/><rect x="160" y="256" width="40" height="16"/><rect x="380" y="256" width="20" height="16"/><rect x="0" y="272" width="200" height="16"/><rect x="280" y="272" width="20" height="16"/><rect x="380" y="272" width="20" height="16"/><rect x="0" y="288" width="180" height="16"/><rect x="280" y="288" width="20" height="16"/><rect x="0" y="304" width="160" height="16"/><rect x="300" y="304" width="40" height="16"/><rect x="360" y="304" width="20" height="16"/><rect x="0" y="320" width="200" height="16"/><rect x="340" y="320" width="40" height="16"/><rect x="0" y="336" width="100" height="16"/><rect x="120" y="336" width="40" height="16"/><rect x="240" y="336" width="20" height="16"/><rect x="340" y="336" width="40" height="16"/><rect x="400" y="336" width="20" height="16"/><rect x="0" y="352" width="100" height="16"/><rect x="220" y="352" width="20" height="16"/><rect x="340" y="352" width="20" height="16"/><rect x="400" y="352" width="20" height="16"/><rect x="0" y="368" width="140" height="16"/><rect x="180" y="368" width="60" height="16"/><rect x="260" y="368" width="100" height="16"/><rect x="380" y="368" width="60" height="16"/><rect x="540" y="368" width="100" height="16"/><rect x="0" y="384" width="160" height="16"/><rect x="180" y="384" width="220" height="16"/><rect x="460" y="384" width="40" height="16"/><rect x="540" y="384" width="40" height="16"/><rect x="80" y="400" width="20" height="16"/><rect x="140" y="400" width="80" height="16"/><rect x="300" y="400" width="80" height="16"/><rect x="80" y="416" width="560" height="16"/><rect x="80" y="432" width="560" height="16"/></g>
<g filter="url(#thr)" fill="#00007a"><rect x="340" y="32" width="20" height="16"/><rect x="320" y="48" width="60" height="16"/><rect x="180" y="64" width="20" height="16"/><rect x="160" y="80" width="40" height="16"/><rect x="220" y="128" width="40" height="16"/><rect x="360" y="128" width="20" height="16"/><rect x="200" y="144" width="60" height="16"/><rect x="180" y="160" width="60" height="16"/><rect x="200" y="176" width="20" height="16"/><rect x="300" y="176" width="20" height="16"/><rect x="460" y="176" width="20" height="16"/><rect x="180" y="208" width="20" height="16"/><rect x="240" y="208" width="20" height="16"/></g>
<g filter="url(#thr)" fill="#0000c8"><rect x="360" y="32" width="20" height="16"/><rect x="200" y="64" width="40" height="16"/><rect x="320" y="96" width="20" height="16"/><rect x="80" y="112" width="20" height="16"/><rect x="140" y="112" width="20" height="16"/><rect x="180" y="112" width="20" height="16"/><rect x="220" y="112" width="60" height="16"/><rect x="320" y="112" width="20" height="16"/><rect x="380" y="112" width="60" height="16"/><rect x="40" y="128" width="60" height="16"/><rect x="120" y="128" width="40" height="16"/><rect x="180" y="128" width="40" height="16"/><rect x="260" y="128" width="20" height="16"/><rect x="300" y="128" width="20" height="16"/><rect x="340" y="128" width="20" height="16"/><rect x="380" y="128" width="20" height="16"/><rect x="440" y="128" width="20" height="16"/><rect x="0" y="144" width="80" height="16"/><rect x="120" y="144" width="80" height="16"/><rect x="260" y="144" width="20" height="16"/><rect x="440" y="144" width="20" height="16"/><rect x="40" y="160" width="20" height="16"/><rect x="120" y="160" width="60" height="16"/><rect x="260" y="160" width="20" height="16"/><rect x="500" y="160" width="20" height="16"/><rect x="80" y="176" width="40" height="16"/><rect x="140" y="176" width="60" height="16"/><rect x="260" y="176" width="40" height="16"/><rect x="440" y="176" width="20" height="16"/><rect x="480" y="176" width="20" height="16"/><rect x="80" y="192" width="40" height="16"/><rect x="140" y="192" width="60" height="16"/><rect x="260" y="192" width="40" height="16"/><rect x="80" y="208" width="40" height="16"/><rect x="140" y="208" width="40" height="16"/><rect x="260" y="208" width="40" height="16"/><rect x="100" y="224" width="40" height="16"/><rect x="200" y="224" width="60" height="16"/><rect x="180" y="240" width="20" height="16"/><rect x="220" y="240" width="40" height="16"/><rect x="240" y="256" width="20" height="16"/></g>
<g filter="url(#thr)" fill="#a0a0a0"><rect x="400" y="32" width="20" height="16"/><rect x="380" y="48" width="100" height="16"/><rect x="360" y="64" width="120" height="16"/><rect x="360" y="80" width="100" height="16"/><rect x="340" y="96" width="100" height="16"/><rect x="340" y="112" width="40" height="16"/><rect x="240" y="160" width="20" height="16"/><rect x="220" y="176" width="40" height="16"/><rect x="200" y="192" width="60" height="16"/><rect x="200" y="208" width="40" height="16"/></g>
<g filter="url(#thr)" fill="#00b2ba"><rect x="240" y="64" width="40" height="16"/><rect x="260" y="80" width="40" height="16"/><rect x="220" y="96" width="40" height="16"/><rect x="440" y="96" width="40" height="16"/><rect x="280" y="112" width="20" height="16"/><rect x="440" y="112" width="40" height="16"/><rect x="320" y="128" width="20" height="16"/><rect x="400" y="128" width="40" height="16"/><rect x="460" y="128" width="20" height="16"/><rect x="100" y="144" width="20" height="16"/><rect x="280" y="144" width="20" height="16"/><rect x="320" y="144" width="120" height="16"/><rect x="0" y="160" width="40" height="16"/><rect x="100" y="160" width="20" height="16"/><rect x="280" y="160" width="40" height="16"/><rect x="440" y="160" width="60" height="16"/><rect x="40" y="176" width="20" height="16"/><rect x="120" y="176" width="20" height="16"/><rect x="500" y="176" width="20" height="16"/><rect x="120" y="192" width="20" height="16"/><rect x="440" y="192" width="40" height="16"/><rect x="120" y="208" width="20" height="16"/><rect x="0" y="224" width="40" height="16"/><rect x="160" y="224" width="40" height="16"/><rect x="260" y="224" width="20" height="16"/><rect x="100" y="240" width="80" height="16"/><rect x="200" y="240" width="20" height="16"/><rect x="120" y="256" width="40" height="16"/><rect x="200" y="256" width="40" height="16"/><rect x="260" y="256" width="20" height="16"/><rect x="200" y="272" width="80" height="16"/><rect x="180" y="288" width="100" height="16"/><rect x="160" y="304" width="60" height="16"/></g>
<g filter="url(#thr)" fill="#00d0d4"><rect x="260" y="96" width="60" height="16"/><rect x="300" y="112" width="20" height="16"/><rect x="280" y="128" width="20" height="16"/><rect x="300" y="144" width="20" height="16"/><rect x="460" y="144" width="40" height="16"/><rect x="0" y="176" width="40" height="16"/><rect x="0" y="192" width="40" height="16"/><rect x="600" y="192" width="40" height="16"/><rect x="0" y="208" width="40" height="16"/><rect x="580" y="208" width="60" height="16"/><rect x="260" y="240" width="20" height="16"/><rect x="220" y="304" width="80" height="16"/><rect x="200" y="320" width="40" height="16"/></g>
<g filter="url(#thr)" fill="#00d800"><rect x="580" y="176" width="20" height="16"/><rect x="480" y="192" width="20" height="16"/><rect x="560" y="192" width="20" height="16"/><rect x="360" y="208" width="20" height="16"/><rect x="480" y="208" width="20" height="16"/><rect x="560" y="208" width="20" height="16"/><rect x="320" y="224" width="40" height="16"/><rect x="480" y="224" width="20" height="16"/><rect x="560" y="224" width="20" height="16"/><rect x="280" y="240" width="100" height="16"/><rect x="440" y="240" width="20" height="16"/><rect x="480" y="240" width="40" height="16"/><rect x="560" y="240" width="20" height="16"/><rect x="280" y="256" width="80" height="16"/><rect x="420" y="256" width="100" height="16"/><rect x="540" y="256" width="60" height="16"/><rect x="300" y="272" width="60" height="16"/><rect x="400" y="272" width="120" height="16"/><rect x="540" y="272" width="100" height="16"/><rect x="380" y="288" width="100" height="16"/><rect x="540" y="288" width="100" height="16"/><rect x="240" y="320" width="20" height="16"/><rect x="320" y="320" width="20" height="16"/><rect x="160" y="336" width="80" height="16"/><rect x="120" y="352" width="40" height="16"/><rect x="440" y="384" width="20" height="16"/><rect x="440" y="400" width="20" height="16"/><rect x="0" y="416" width="60" height="16"/><rect x="0" y="432" width="60" height="16"/></g>
<g filter="url(#thr)" fill="#c4bc00"><rect x="540" y="192" width="20" height="16"/><rect x="460" y="208" width="20" height="16"/><rect x="520" y="208" width="40" height="16"/><rect x="520" y="224" width="40" height="16"/><rect x="520" y="240" width="40" height="16"/><rect x="520" y="256" width="20" height="16"/><rect x="520" y="272" width="20" height="16"/><rect x="480" y="288" width="20" height="16"/><rect x="520" y="288" width="20" height="16"/><rect x="400" y="304" width="20" height="16"/><rect x="260" y="320" width="20" height="16"/><rect x="100" y="352" width="20" height="16"/><rect x="160" y="352" width="60" height="16"/><rect x="0" y="400" width="80" height="16"/><rect x="60" y="416" width="20" height="16"/><rect x="60" y="432" width="20" height="16"/></g>
<g filter="url(#thr)" fill="#008800"><rect x="280" y="224" width="40" height="16"/><rect x="100" y="336" width="20" height="16"/></g>
<g filter="url(#thr)" fill="#10ecec"><rect x="580" y="224" width="60" height="16"/><rect x="580" y="240" width="60" height="16"/><rect x="600" y="256" width="40" height="16"/></g>
<g filter="url(#thr)" fill="#eeee00"><rect x="360" y="256" width="20" height="16"/><rect x="400" y="256" width="20" height="16"/><rect x="360" y="272" width="20" height="16"/><rect x="300" y="288" width="60" height="16"/><rect x="500" y="288" width="20" height="16"/><rect x="380" y="304" width="20" height="16"/><rect x="420" y="304" width="220" height="16"/><rect x="280" y="320" width="20" height="16"/><rect x="380" y="320" width="260" height="16"/><rect x="260" y="336" width="20" height="16"/><rect x="380" y="336" width="20" height="16"/><rect x="520" y="336" width="20" height="16"/><rect x="600" y="336" width="40" height="16"/><rect x="240" y="352" width="40" height="16"/><rect x="360" y="352" width="40" height="16"/><rect x="540" y="352" width="100" height="16"/><rect x="240" y="368" width="20" height="16"/><rect x="100" y="400" width="20" height="16"/><rect x="500" y="400" width="20" height="16"/><rect x="540" y="400" width="20" height="16"/></g>
<g filter="url(#thr)" fill="#a80000"><rect x="360" y="288" width="20" height="16"/><rect x="340" y="304" width="20" height="16"/><rect x="300" y="320" width="20" height="16"/><rect x="280" y="336" width="40" height="16"/><rect x="420" y="336" width="100" height="16"/><rect x="540" y="336" width="60" height="16"/><rect x="280" y="352" width="20" height="16"/><rect x="420" y="352" width="120" height="16"/><rect x="140" y="368" width="40" height="16"/><rect x="360" y="368" width="20" height="16"/><rect x="160" y="384" width="20" height="16"/><rect x="120" y="400" width="20" height="16"/></g>
<g filter="url(#thr)" fill="#ee0000"><rect x="320" y="336" width="20" height="16"/><rect x="300" y="352" width="40" height="16"/><rect x="440" y="368" width="100" height="16"/><rect x="400" y="384" width="40" height="16"/><rect x="500" y="384" width="40" height="16"/><rect x="580" y="384" width="60" height="16"/><rect x="220" y="400" width="80" height="16"/><rect x="380" y="400" width="60" height="16"/><rect x="460" y="400" width="40" height="16"/><rect x="520" y="400" width="20" height="16"/><rect x="560" y="400" width="80" height="16"/></g>
</g><use href="#bcband" fill="#fff" opacity="0.75"/><use href="#map" stroke="#fff" stroke-width="1"/></g><g transform="translate(600,416)" clip-path="url(#pc)"><g transform="translate(-20,-16)">
<g filter="url(#bl)"><rect x="0" y="0" width="640" height="16" fill="#aaaaaa"/><rect x="0" y="16" width="640" height="16" fill="#aaaaaa"/><rect x="0" y="32" width="120" height="16" fill="#aaaaaa"/><rect x="120" y="32" width="20" height="16" fill="#e0e000"/><rect x="140" y="32" width="120" height="16" fill="#aaaaaa"/><rect x="260" y="32" width="20" height="16" fill="#000000"/><rect x="280" y="32" width="80" height="16" fill="#aaaaaa"/><rect x="360" y="32" width="20" height="16" fill="#00b400"/><rect x="380" y="32" width="20" height="16" fill="#aaaaaa"/><rect x="400" y="32" width="20" height="16" fill="#00b400"/><rect x="420" y="32" width="220" height="16" fill="#aaaaaa"/><rect x="0" y="48" width="220" height="16" fill="#aaaaaa"/><rect x="220" y="48" width="80" height="16" fill="#000000"/><rect x="300" y="48" width="40" height="16" fill="#aaaaaa"/><rect x="340" y="48" width="60" height="16" fill="#00b400"/><rect x="400" y="48" width="20" height="16" fill="#aaaaaa"/><rect x="420" y="48" width="60" height="16" fill="#00b400"/><rect x="480" y="48" width="160" height="16" fill="#aaaaaa"/><rect x="0" y="64" width="40" height="16" fill="#aaaaaa"/><rect x="40" y="64" width="20" height="16" fill="#e0e000"/><rect x="60" y="64" width="60" height="16" fill="#aaaaaa"/><rect x="120" y="64" width="40" height="16" fill="#000000"/><rect x="160" y="64" width="20" height="16" fill="#aaaaaa"/><rect x="180" y="64" width="40" height="16" fill="#e0e000"/><rect x="220" y="64" width="20" height="16" fill="#000000"/><rect x="240" y="64" width="20" height="16" fill="#00b400"/><rect x="260" y="64" width="40" height="16" fill="#000000"/><rect x="300" y="64" width="40" height="16" fill="#aaaaaa"/><rect x="340" y="64" width="120" height="16" fill="#00b400"/><rect x="460" y="64" width="180" height="16" fill="#aaaaaa"/><rect x="0" y="80" width="140" height="16" fill="#aaaaaa"/><rect x="140" y="80" width="20" height="16" fill="#000000"/><rect x="160" y="80" width="40" height="16" fill="#e0e000"/><rect x="200" y="80" width="60" height="16" fill="#000000"/><rect x="260" y="80" width="100" height="16" fill="#aaaaaa"/><rect x="360" y="80" width="100" height="16" fill="#00b400"/><rect x="460" y="80" width="180" height="16" fill="#aaaaaa"/><rect x="0" y="96" width="120" height="16" fill="#aaaaaa"/><rect x="120" y="96" width="40" height="16" fill="#c4bc00"/><rect x="160" y="96" width="20" height="16" fill="#aaaaaa"/><rect x="180" y="96" width="60" height="16" fill="#000000"/><rect x="240" y="96" width="240" height="16" fill="#00b400"/><rect x="480" y="96" width="160" height="16" fill="#aaaaaa"/><rect x="0" y="112" width="80" height="16" fill="#aaaaaa"/><rect x="80" y="112" width="20" height="16" fill="#e0e000"/><rect x="100" y="112" width="40" height="16" fill="#c4bc00"/><rect x="140" y="112" width="20" height="16" fill="#e0e000"/><rect x="160" y="112" width="20" height="16" fill="#aaaaaa"/><rect x="180" y="112" width="20" height="16" fill="#000000"/><rect x="200" y="112" width="20" height="16" fill="#e0e000"/><rect x="220" y="112" width="240" height="16" fill="#00b400"/><rect x="460" y="112" width="40" height="16" fill="#c4bc00"/><rect x="500" y="112" width="60" height="16" fill="#000000"/><rect x="560" y="112" width="80" height="16" fill="#aaaaaa"/><rect x="0" y="128" width="60" height="16" fill="#aaaaaa"/><rect x="60" y="128" width="40" height="16" fill="#e0e000"/><rect x="100" y="128" width="20" height="16" fill="#c4bc00"/><rect x="120" y="128" width="20" height="16" fill="#e0e000"/><rect x="140" y="128" width="20" height="16" fill="#c4bc00"/><rect x="160" y="128" width="40" height="16" fill="#000000"/><rect x="200" y="128" width="20" height="16" fill="#e0e000"/><rect x="220" y="128" width="240" height="16" fill="#00b400"/><rect x="460" y="128" width="20" height="16" fill="#c4bc00"/><rect x="480" y="128" width="20" height="16" fill="#000000"/><rect x="500" y="128" width="140" height="16" fill="#aaaaaa"/><rect x="0" y="144" width="40" height="16" fill="#aaaaaa"/><rect x="40" y="144" width="120" height="16" fill="#e0e000"/><rect x="160" y="144" width="20" height="16" fill="#000000"/><rect x="180" y="144" width="40" height="16" fill="#e0e000"/><rect x="220" y="144" width="260" height="16" fill="#00b400"/><rect x="480" y="144" width="20" height="16" fill="#000000"/><rect x="500" y="144" width="20" height="16" fill="#aaaaaa"/><rect x="520" y="144" width="20" height="16" fill="#00b400"/><rect x="540" y="144" width="100" height="16" fill="#aaaaaa"/><rect x="0" y="160" width="80" height="16" fill="#e0e000"/><rect x="80" y="160" width="20" height="16" fill="#aaaaaa"/><rect x="100" y="160" width="120" height="16" fill="#e0e000"/><rect x="220" y="160" width="100" height="16" fill="#00b400"/><rect x="320" y="160" width="20" height="16" fill="#aaaaaa"/><rect x="340" y="160" width="60" height="16" fill="#c4bc00"/><rect x="400" y="160" width="20" height="16" fill="#aaaaaa"/><rect x="420" y="160" width="20" height="16" fill="#c4bc00"/><rect x="440" y="160" width="40" height="16" fill="#00b400"/><rect x="480" y="160" width="20" height="16" fill="#aaaaaa"/><rect x="500" y="160" width="20" height="16" fill="#00b400"/><rect x="520" y="160" width="60" height="16" fill="#aaaaaa"/><rect x="580" y="160" width="20" height="16" fill="#00b400"/><rect x="600" y="160" width="40" height="16" fill="#aaaaaa"/><rect x="0" y="176" width="60" height="16" fill="#e0e000"/><rect x="60" y="176" width="20" height="16" fill="#aaaaaa"/><rect x="80" y="176" width="140" height="16" fill="#e0e000"/><rect x="220" y="176" width="80" height="16" fill="#00b400"/><rect x="300" y="176" width="140" height="16" fill="#aaaaaa"/><rect x="440" y="176" width="60" height="16" fill="#00b400"/><rect x="500" y="176" width="60" height="16" fill="#aaaaaa"/><rect x="560" y="176" width="20" height="16" fill="#00b400"/><rect x="580" y="176" width="60" height="16" fill="#aaaaaa"/><rect x="0" y="192" width="60" height="16" fill="#e0e000"/><rect x="60" y="192" width="40" height="16" fill="#aaaaaa"/><rect x="100" y="192" width="120" height="16" fill="#e0e000"/><rect x="220" y="192" width="60" height="16" fill="#00b400"/><rect x="280" y="192" width="60" height="16" fill="#aaaaaa"/><rect x="340" y="192" width="80" height="16" fill="#000000"/><rect x="420" y="192" width="40" height="16" fill="#aaaaaa"/><rect x="460" y="192" width="40" height="16" fill="#00b400"/><rect x="500" y="192" width="40" height="16" fill="#aaaaaa"/><rect x="540" y="192" width="40" height="16" fill="#00b400"/><rect x="580" y="192" width="20" height="16" fill="#aaaaaa"/><rect x="600" y="192" width="40" height="16" fill="#00b400"/><rect x="0" y="208" width="40" height="16" fill="#e0e000"/><rect x="40" y="208" width="40" height="16" fill="#aaaaaa"/><rect x="80" y="208" width="140" height="16" fill="#e0e000"/><rect x="220" y="208" width="80" height="16" fill="#00b400"/><rect x="300" y="208" width="20" height="16" fill="#aaaaaa"/><rect x="320" y="208" width="40" height="16" fill="#c4bc00"/><rect x="360" y="208" width="20" height="16" fill="#00b400"/><rect x="380" y="208" width="20" height="16" fill="#aaaaaa"/><rect x="400" y="208" width="20" height="16" fill="#000000"/><rect x="420" y="208" width="40" height="16" fill="#aaaaaa"/><rect x="460" y="208" width="40" height="16" fill="#00b400"/><rect x="500" y="208" width="20" height="16" fill="#aaaaaa"/><rect x="520" y="208" width="120" height="16" fill="#00b400"/><rect x="0" y="224" width="40" height="16" fill="#e0e000"/><rect x="40" y="224" width="40" height="16" fill="#aaaaaa"/><rect x="80" y="224" width="60" height="16" fill="#e0e000"/><rect x="140" y="224" width="20" height="16" fill="#aaaaaa"/><rect x="160" y="224" width="60" height="16" fill="#e0e000"/><rect x="220" y="224" width="160" height="16" fill="#00b400"/><rect x="380" y="224" width="20" height="16" fill="#000000"/><rect x="400" y="224" width="80" height="16" fill="#aaaaaa"/><rect x="480" y="224" width="20" height="16" fill="#00b400"/><rect x="500" y="224" width="20" height="16" fill="#aaaaaa"/><rect x="520" y="224" width="120" height="16" fill="#00b400"/><rect x="0" y="240" width="120" height="16" fill="#aaaaaa"/><rect x="120" y="240" width="20" height="16" fill="#e0e000"/><rect x="140" y="240" width="20" height="16" fill="#aaaaaa"/><rect x="160" y="240" width="20" height="16" fill="#e0e000"/><rect x="180" y="240" width="20" height="16" fill="#aaaaaa"/><rect x="200" y="240" width="20" height="16" fill="#e0e000"/><rect x="220" y="240" width="160" height="16" fill="#00b400"/><rect x="380" y="240" width="40" height="16" fill="#000000"/><rect x="420" y="240" width="40" height="16" fill="#aaaaaa"/><rect x="460" y="240" width="180" height="16" fill="#00b400"/><rect x="0" y="256" width="120" height="16" fill="#aaaaaa"/><rect x="120" y="256" width="40" height="16" fill="#e0e000"/><rect x="160" y="256" width="40" height="16" fill="#aaaaaa"/><rect x="200" y="256" width="20" height="16" fill="#e0e000"/><rect x="220" y="256" width="140" height="16" fill="#00b400"/><rect x="360" y="256" width="20" height="16" fill="#000000"/><rect x="380" y="256" width="20" height="16" fill="#aaaaaa"/><rect x="400" y="256" width="20" height="16" fill="#000000"/><rect x="420" y="256" width="20" height="16" fill="#00b400"/><rect x="440" y="256" width="20" height="16" fill="#aaaaaa"/><rect x="460" y="256" width="180" height="16" fill="#00b400"/><rect x="0" y="272" width="180" height="16" fill="#aaaaaa"/><rect x="180" y="272" width="40" height="16" fill="#000000"/><rect x="220" y="272" width="140" height="16" fill="#00b400"/><rect x="360" y="272" width="40" height="16" fill="#aaaaaa"/><rect x="400" y="272" width="240" height="16" fill="#00b400"/><rect x="0" y="288" width="180" height="16" fill="#aaaaaa"/><rect x="180" y="288" width="20" height="16" fill="#000000"/><rect x="200" y="288" width="20" height="16" fill="#e0e000"/><rect x="220" y="288" width="60" height="16" fill="#00b400"/><rect x="280" y="288" width="20" height="16" fill="#aaaaaa"/><rect x="300" y="288" width="40" height="16" fill="#00b400"/><rect x="340" y="288" width="40" height="16" fill="#aaaaaa"/><rect x="380" y="288" width="260" height="16" fill="#00b400"/><rect x="0" y="304" width="160" height="16" fill="#aaaaaa"/><rect x="160" y="304" width="40" height="16" fill="#000000"/><rect x="200" y="304" width="20" height="16" fill="#e0e000"/><rect x="220" y="304" width="80" height="16" fill="#00b400"/><rect x="300" y="304" width="20" height="16" fill="#aaaaaa"/><rect x="320" y="304" width="40" height="16" fill="#00b400"/><rect x="360" y="304" width="20" height="16" fill="#000000"/><rect x="380" y="304" width="260" height="16" fill="#00b400"/><rect x="0" y="320" width="160" height="16" fill="#aaaaaa"/><rect x="160" y="320" width="40" height="16" fill="#000000"/><rect x="200" y="320" width="20" height="16" fill="#e0e000"/><rect x="220" y="320" width="120" height="16" fill="#00b400"/><rect x="340" y="320" width="40" height="16" fill="#aaaaaa"/><rect x="380" y="320" width="20" height="16" fill="#000000"/><rect x="400" y="320" width="240" height="16" fill="#00b400"/><rect x="0" y="336" width="100" height="16" fill="#aaaaaa"/><rect x="100" y="336" width="40" height="16" fill="#e0e000"/><rect x="140" y="336" width="20" height="16" fill="#000000"/><rect x="160" y="336" width="40" height="16" fill="#e0e000"/><rect x="200" y="336" width="20" height="16" fill="#000000"/><rect x="220" y="336" width="40" height="16" fill="#aaaaaa"/><rect x="260" y="336" width="100" height="16" fill="#00b400"/><rect x="360" y="336" width="20" height="16" fill="#000000"/><rect x="380" y="336" width="20" height="16" fill="#00b400"/><rect x="400" y="336" width="20" height="16" fill="#000000"/><rect x="420" y="336" width="20" height="16" fill="#00b400"/><rect x="440" y="336" width="20" height="16" fill="#aaaaaa"/><rect x="460" y="336" width="100" height="16" fill="#00b400"/><rect x="560" y="336" width="20" height="16" fill="#aaaaaa"/><rect x="580" y="336" width="60" height="16" fill="#00b400"/><rect x="0" y="352" width="80" height="16" fill="#aaaaaa"/><rect x="80" y="352" width="80" height="16" fill="#e0e000"/><rect x="160" y="352" width="20" height="16" fill="#000000"/><rect x="180" y="352" width="20" height="16" fill="#e0e000"/><rect x="200" y="352" width="20" height="16" fill="#000000"/><rect x="220" y="352" width="20" height="16" fill="#aaaaaa"/><rect x="240" y="352" width="40" height="16" fill="#00b400"/><rect x="280" y="352" width="60" height="16" fill="#aaaaaa"/><rect x="340" y="352" width="40" height="16" fill="#00b400"/><rect x="380" y="352" width="20" height="16" fill="#000000"/><rect x="400" y="352" width="40" height="16" fill="#aaaaaa"/><rect x="440" y="352" width="100" height="16" fill="#00b400"/><rect x="540" y="352" width="100" height="16" fill="#aaaaaa"/><rect x="0" y="368" width="140" height="16" fill="#aaaaaa"/><rect x="140" y="368" width="80" height="16" fill="#000000"/><rect x="220" y="368" width="40" height="16" fill="#00b400"/><rect x="260" y="368" width="100" height="16" fill="#aaaaaa"/><rect x="360" y="368" width="40" height="16" fill="#000000"/><rect x="400" y="368" width="40" height="16" fill="#aaaaaa"/><rect x="440" y="368" width="40" height="16" fill="#00b400"/><rect x="480" y="368" width="20" height="16" fill="#aaaaaa"/><rect x="500" y="368" width="40" height="16" fill="#00b400"/><rect x="540" y="368" width="20" height="16" fill="#aaaaaa"/><rect x="560" y="368" width="20" height="16" fill="#000000"/><rect x="580" y="368" width="60" height="16" fill="#aaaaaa"/><rect x="0" y="384" width="120" height="16" fill="#aaaaaa"/><rect x="120" y="384" width="100" height="16" fill="#000000"/><rect x="220" y="384" width="80" height="16" fill="#aaaaaa"/><rect x="300" y="384" width="100" height="16" fill="#000000"/><rect x="400" y="384" width="20" height="16" fill="#aaaaaa"/><rect x="420" y="384" width="40" height="16" fill="#00b400"/><rect x="460" y="384" width="40" height="16" fill="#aaaaaa"/><rect x="500" y="384" width="40" height="16" fill="#00b400"/><rect x="540" y="384" width="40" height="16" fill="#aaaaaa"/><rect x="580" y="384" width="60" height="16" fill="#00b400"/><rect x="0" y="400" width="140" height="16" fill="#e0e000"/><rect x="140" y="400" width="20" height="16" fill="#000000"/><rect x="160" y="400" width="20" height="16" fill="#e0e000"/><rect x="180" y="400" width="40" height="16" fill="#000000"/><rect x="220" y="400" width="40" height="16" fill="#00b400"/><rect x="260" y="400" width="20" height="16" fill="#aaaaaa"/><rect x="280" y="400" width="20" height="16" fill="#00b400"/><rect x="300" y="400" width="60" height="16" fill="#aaaaaa"/><rect x="360" y="400" width="40" height="16" fill="#000000"/><rect x="400" y="400" width="60" height="16" fill="#00b400"/><rect x="460" y="400" width="20" height="16" fill="#aaaaaa"/><rect x="480" y="400" width="160" height="16" fill="#00b400"/><rect x="0" y="416" width="220" height="16" fill="#e0e000"/><rect x="220" y="416" width="40" height="16" fill="#00b400"/><rect x="260" y="416" width="20" height="16" fill="#aaaaaa"/><rect x="280" y="416" width="80" height="16" fill="#00b400"/><rect x="360" y="416" width="20" height="16" fill="#000000"/><rect x="380" y="416" width="20" height="16" fill="#aaaaaa"/><rect x="400" y="416" width="100" height="16" fill="#00b400"/><rect x="500" y="416" width="20" height="16" fill="#aaaaaa"/><rect x="520" y="416" width="120" height="16" fill="#00b400"/><rect x="0" y="432" width="220" height="16" fill="#e0e000"/><rect x="220" y="432" width="40" height="16" fill="#00b400"/><rect x="260" y="432" width="20" height="16" fill="#aaaaaa"/><rect x="280" y="432" width="80" height="16" fill="#00b400"/><rect x="360" y="432" width="20" height="16" fill="#000000"/><rect x="380" y="432" width="20" height="16" fill="#aaaaaa"/><rect x="400" y="432" width="100" height="16" fill="#00b400"/><rect x="500" y="432" width="20" height="16" fill="#aaaaaa"/><rect x="520" y="432" width="120" height="16" fill="#00b400"/></g>
<g filter="url(#thr)" fill="#aaaaaa"><rect x="0" y="0" width="640" height="16"/><rect x="0" y="16" width="640" height="16"/><rect x="0" y="32" width="120" height="16"/><rect x="140" y="32" width="120" height="16"/><rect x="280" y="32" width="80" height="16"/><rect x="380" y="32" width="20" height="16"/><rect x="420" y="32" width="220" height="16"/><rect x="0" y="48" width="220" height="16"/><rect x="300" y="48" width="40" height="16"/><rect x="400" y="48" width="20" height="16"/><rect x="480" y="48" width="160" height="16"/><rect x="0" y="64" width="40" height="16"/><rect x="60" y="64" width="60" height="16"/><rect x="160" y="64" width="20" height="16"/><rect x="300" y="64" width="40" height="16"/><rect x="460" y="64" width="180" height="16"/><rect x="0" y="80" width="140" height="16"/><rect x="260" y="80" width="100" height="16"/><rect x="460" y="80" width="180" height="16"/><rect x="0" y="96" width="120" height="16"/><rect x="160" y="96" width="20" height="16"/><rect x="480" y="96" width="160" height="16"/><rect x="0" y="112" width="80" height="16"/><rect x="160" y="112" width="20" height="16"/><rect x="560" y="112" width="80" height="16"/><rect x="0" y="128" width="60" height="16"/><rect x="500" y="128" width="140" height="16"/><rect x="0" y="144" width="40" height="16"/><rect x="500" y="144" width="20" height="16"/><rect x="540" y="144" width="100" height="16"/><rect x="80" y="160" width="20" height="16"/><rect x="320" y="160" width="20" height="16"/><rect x="400" y="160" width="20" height="16"/><rect x="480" y="160" width="20" height="16"/><rect x="520" y="160" width="60" height="16"/><rect x="600" y="160" width="40" height="16"/><rect x="60" y="176" width="20" height="16"/><rect x="300" y="176" width="140" height="16"/><rect x="500" y="176" width="60" height="16"/><rect x="580" y="176" width="60" height="16"/><rect x="60" y="192" width="40" height="16"/><rect x="280" y="192" width="60" height="16"/><rect x="420" y="192" width="40" height="16"/><rect x="500" y="192" width="40" height="16"/><rect x="580" y="192" width="20" height="16"/><rect x="40" y="208" width="40" height="16"/><rect x="300" y="208" width="20" height="16"/><rect x="380" y="208" width="20" height="16"/><rect x="420" y="208" width="40" height="16"/><rect x="500" y="208" width="20" height="16"/><rect x="40" y="224" width="40" height="16"/><rect x="140" y="224" width="20" height="16"/><rect x="400" y="224" width="80" height="16"/><rect x="500" y="224" width="20" height="16"/><rect x="0" y="240" width="120" height="16"/><rect x="140" y="240" width="20" height="16"/><rect x="180" y="240" width="20" height="16"/><rect x="420" y="240" width="40" height="16"/><rect x="0" y="256" width="120" height="16"/><rect x="160" y="256" width="40" height="16"/><rect x="380" y="256" width="20" height="16"/><rect x="440" y="256" width="20" height="16"/><rect x="0" y="272" width="180" height="16"/><rect x="360" y="272" width="40" height="16"/><rect x="0" y="288" width="180" height="16"/><rect x="280" y="288" width="20" height="16"/><rect x="340" y="288" width="40" height="16"/><rect x="0" y="304" width="160" height="16"/><rect x="300" y="304" width="20" height="16"/><rect x="0" y="320" width="160" height="16"/><rect x="340" y="320" width="40" height="16"/><rect x="0" y="336" width="100" height="16"/><rect x="220" y="336" width="40" height="16"/><rect x="440" y="336" width="20" height="16"/><rect x="560" y="336" width="20" height="16"/><rect x="0" y="352" width="80" height="16"/><rect x="220" y="352" width="20" height="16"/><rect x="280" y="352" width="60" height="16"/><rect x="400" y="352" width="40" height="16"/><rect x="540" y="352" width="100" height="16"/><rect x="0" y="368" width="140" height="16"/><rect x="260" y="368" width="100" height="16"/><rect x="400" y="368" width="40" height="16"/><rect x="480" y="368" width="20" height="16"/><rect x="540" y="368" width="20" height="16"/><rect x="580" y="368" width="60" height="16"/><rect x="0" y="384" width="120" height="16"/><rect x="220" y="384" width="80" height="16"/><rect x="400" y="384" width="20" height="16"/><rect x="460" y="384" width="40" height="16"/><rect x="540" y="384" width="40" height="16"/><rect x="260" y="400" width="20" height="16"/><rect x="300" y="400" width="60" height="16"/><rect x="460" y="400" width="20" height="16"/><rect x="260" y="416" width="20" height="16"/><rect x="380" y="416" width="20" height="16"/><rect x="500" y="416" width="20" height="16"/><rect x="260" y="432" width="20" height="16"/><rect x="380" y="432" width="20" height="16"/><rect x="500" y="432" width="20" height="16"/></g>
<g filter="url(#thr)" fill="#e0e000"><rect x="120" y="32" width="20" height="16"/><rect x="40" y="64" width="20" height="16"/><rect x="180" y="64" width="40" height="16"/><rect x="160" y="80" width="40" height="16"/><rect x="80" y="112" width="20" height="16"/><rect x="140" y="112" width="20" height="16"/><rect x="200" y="112" width="20" height="16"/><rect x="60" y="128" width="40" height="16"/><rect x="120" y="128" width="20" height="16"/><rect x="200" y="128" width="20" height="16"/><rect x="40" y="144" width="120" height="16"/><rect x="180" y="144" width="40" height="16"/><rect x="0" y="160" width="80" height="16"/><rect x="100" y="160" width="120" height="16"/><rect x="0" y="176" width="60" height="16"/><rect x="80" y="176" width="140" height="16"/><rect x="0" y="192" width="60" height="16"/><rect x="100" y="192" width="120" height="16"/><rect x="0" y="208" width="40" height="16"/><rect x="80" y="208" width="140" height="16"/><rect x="0" y="224" width="40" height="16"/><rect x="80" y="224" width="60" height="16"/><rect x="160" y="224" width="60" height="16"/><rect x="120" y="240" width="20" height="16"/><rect x="160" y="240" width="20" height="16"/><rect x="200" y="240" width="20" height="16"/><rect x="120" y="256" width="40" height="16"/><rect x="200" y="256" width="20" height="16"/><rect x="200" y="288" width="20" height="16"/><rect x="200" y="304" width="20" height="16"/><rect x="200" y="320" width="20" height="16"/><rect x="100" y="336" width="40" height="16"/><rect x="160" y="336" width="40" height="16"/><rect x="80" y="352" width="80" height="16"/><rect x="180" y="352" width="20" height="16"/><rect x="0" y="400" width="140" height="16"/><rect x="160" y="400" width="20" height="16"/><rect x="0" y="416" width="220" height="16"/><rect x="0" y="432" width="220" height="16"/></g>
<g filter="url(#thr)" fill="#000000"><rect x="260" y="32" width="20" height="16"/><rect x="220" y="48" width="80" height="16"/><rect x="120" y="64" width="40" height="16"/><rect x="220" y="64" width="20" height="16"/><rect x="260" y="64" width="40" height="16"/><rect x="140" y="80" width="20" height="16"/><rect x="200" y="80" width="60" height="16"/><rect x="180" y="96" width="60" height="16"/><rect x="180" y="112" width="20" height="16"/><rect x="500" y="112" width="60" height="16"/><rect x="160" y="128" width="40" height="16"/><rect x="480" y="128" width="20" height="16"/><rect x="160" y="144" width="20" height="16"/><rect x="480" y="144" width="20" height="16"/><rect x="340" y="192" width="80" height="16"/><rect x="400" y="208" width="20" height="16"/><rect x="380" y="224" width="20" height="16"/><rect x="380" y="240" width="40" height="16"/><rect x="360" y="256" width="20" height="16"/><rect x="400" y="256" width="20" height="16"/><rect x="180" y="272" width="40" height="16"/><rect x="180" y="288" width="20" height="16"/><rect x="160" y="304" width="40" height="16"/><rect x="360" y="304" width="20" height="16"/><rect x="160" y="320" width="40" height="16"/><rect x="380" y="320" width="20" height="16"/><rect x="140" y="336" width="20" height="16"/><rect x="200" y="336" width="20" height="16"/><rect x="360" y="336" width="20" height="16"/><rect x="400" y="336" width="20" height="16"/><rect x="160" y="352" width="20" height="16"/><rect x="200" y="352" width="20" height="16"/><rect x="380" y="352" width="20" height="16"/><rect x="140" y="368" width="80" height="16"/><rect x="360" y="368" width="40" height="16"/><rect x="560" y="368" width="20" height="16"/><rect x="120" y="384" width="100" height="16"/><rect x="300" y="384" width="100" height="16"/><rect x="140" y="400" width="20" height="16"/><rect x="180" y="400" width="40" height="16"/><rect x="360" y="400" width="40" height="16"/><rect x="360" y="416" width="20" height="16"/><rect x="360" y="432" width="20" height="16"/></g>
<g filter="url(#thr)" fill="#00b400"><rect x="360" y="32" width="20" height="16"/><rect x="400" y="32" width="20" height="16"/><rect x="340" y="48" width="60" height="16"/><rect x="420" y="48" width="60" height="16"/><rect x="240" y="64" width="20" height="16"/><rect x="340" y="64" width="120" height="16"/><rect x="360" y="80" width="100" height="16"/><rect x="240" y="96" width="240" height="16"/><rect x="220" y="112" width="240" height="16"/><rect x="220" y="128" width="240" height="16"/><rect x="220" y="144" width="260" height="16"/><rect x="520" y="144" width="20" height="16"/><rect x="220" y="160" width="100" height="16"/><rect x="440" y="160" width="40" height="16"/><rect x="500" y="160" width="20" height="16"/><rect x="580" y="160" width="20" height="16"/><rect x="220" y="176" width="80" height="16"/><rect x="440" y="176" width="60" height="16"/><rect x="560" y="176" width="20" height="16"/><rect x="220" y="192" width="60" height="16"/><rect x="460" y="192" width="40" height="16"/><rect x="540" y="192" width="40" height="16"/><rect x="600" y="192" width="40" height="16"/><rect x="220" y="208" width="80" height="16"/><rect x="360" y="208" width="20" height="16"/><rect x="460" y="208" width="40" height="16"/><rect x="520" y="208" width="120" height="16"/><rect x="220" y="224" width="160" height="16"/><rect x="480" y="224" width="20" height="16"/><rect x="520" y="224" width="120" height="16"/><rect x="220" y="240" width="160" height="16"/><rect x="460" y="240" width="180" height="16"/><rect x="220" y="256" width="140" height="16"/><rect x="420" y="256" width="20" height="16"/><rect x="460" y="256" width="180" height="16"/><rect x="220" y="272" width="140" height="16"/><rect x="400" y="272" width="240" height="16"/><rect x="220" y="288" width="60" height="16"/><rect x="300" y="288" width="40" height="16"/><rect x="380" y="288" width="260" height="16"/><rect x="220" y="304" width="80" height="16"/><rect x="320" y="304" width="40" height="16"/><rect x="380" y="304" width="260" height="16"/><rect x="220" y="320" width="120" height="16"/><rect x="400" y="320" width="240" height="16"/><rect x="260" y="336" width="100" height="16"/><rect x="380" y="336" width="20" height="16"/><rect x="420" y="336" width="20" height="16"/><rect x="460" y="336" width="100" height="16"/><rect x="580" y="336" width="60" height="16"/><rect x="240" y="352" width="40" height="16"/><rect x="340" y="352" width="40" height="16"/><rect x="440" y="352" width="100" height="16"/><rect x="220" y="368" width="40" height="16"/><rect x="440" y="368" width="40" height="16"/><rect x="500" y="368" width="40" height="16"/><rect x="420" y="384" width="40" height="16"/><rect x="500" y="384" width="40" height="16"/><rect x="580" y="384" width="60" height="16"/><rect x="220" y="400" width="40" height="16"/><rect x="280" y="400" width="20" height="16"/><rect x="400" y="400" width="60" height="16"/><rect x="480" y="400" width="160" height="16"/><rect x="220" y="416" width="40" height="16"/><rect x="280" y="416" width="80" height="16"/><rect x="400" y="416" width="100" height="16"/><rect x="520" y="416" width="120" height="16"/><rect x="220" y="432" width="40" height="16"/><rect x="280" y="432" width="80" height="16"/><rect x="400" y="432" width="100" height="16"/><rect x="520" y="432" width="120" height="16"/></g>
<g filter="url(#thr)" fill="#c4bc00"><rect x="120" y="96" width="40" height="16"/><rect x="100" y="112" width="40" height="16"/><rect x="460" y="112" width="40" height="16"/><rect x="100" y="128" width="20" height="16"/><rect x="140" y="128" width="20" height="16"/><rect x="460" y="128" width="20" height="16"/><rect x="340" y="160" width="60" height="16"/><rect x="420" y="160" width="20" height="16"/><rect x="320" y="208" width="40" height="16"/></g>
</g><polygon fill="#000" opacity="0.8" points="258,16 230,32 210,45 190,68 175,88 160,105 147,128 140,142 143,147 152,146 162,128 180,112 200,100 220,87 240,70 252,55 265,22"/>
<polygon fill="#000000" points="258,16 230,32 212,44 222,52 245,42 265,22"/>
<polygon fill="#000000" points="36,66 40,67 45,74 50,82 55,95 53,96 47,85 40,75 36,70"/>
<polygon fill="#000000" points="170,245 190,250 200,280 205,320 202.5,360 200,416 110,416 120,380 130,350 140,320 150,285 160,260"/>
<polygon fill="#000000" points="54,286 100,292 138,298 138,304 100,298 54,294"/>
<polygon fill="#000000" points="252,43 281,40 286.5,57 279.6,62 252,57"/>
<polygon fill="#000000" points="350.5,216.7 366,213.2 373,218.4 366,234 355.7,247.8 345.3,261.6 340.1,258.2 343.6,240.9 348.8,227"/>
<polygon fill="#000000" points="378.2,213.2 385.1,209.7 390.3,221.9 392,240.9 388.6,251.3 380,247.8 376.5,230.5"/>
<polygon fill="#000000" points="350.8,288 358.5,288 369.2,303.4 373.8,334.2 370.8,357.2 372.3,380.3 369.2,416 333.8,416 335.4,380.3 338.5,357.2 344.6,334.2 347.7,311"/>
<polygon fill="#000000" points="272.3,371 286.2,366.5 307.7,369.5 335.4,374.2 335.4,388 307.7,386.5 286.2,386.5 273.8,380.3"/><g opacity="0.7"><polygon fill="#000000" points="321,187.3 338.4,182 355.7,181.2 373,183.8 390.3,189 393.8,201.1 381.7,206.3 369.6,201.1 355.7,194.2 338.4,192.4 324.6,195.9"/></g><use href="#bcband" fill="#fff" opacity="0.75"/><use href="#map" stroke="#fff" stroke-width="1"/></g><g transform="translate(1200,0)" clip-path="url(#pc)"><rect width="600" height="416" fill="#fff"/><rect x="7.9" y="8.7" width="5" height="5" fill="#0a0a6e"/>
<rect x="13.9" y="14.8" width="5" height="5" fill="#0000cd"/>
<rect x="7.5" y="0.0" width="5" height="5" fill="#8c8c8c"/>
<rect x="116.7" y="78.8" width="5" height="5" fill="#0a0a6e"/>
<rect x="76.1" y="82.2" width="5" height="5" fill="#00a0a8"/>
<rect x="123.0" y="84.1" width="5" height="5" fill="#c8c8c8"/>
<rect x="114.1" y="85.6" width="5" height="5" fill="#0a0a6e"/>
<rect x="139.4" y="83.8" width="5" height="5" fill="#0000cd"/>
<rect x="99.5" y="84.5" width="5" height="5" fill="#00a0a8"/>
<rect x="106.5" y="89.7" width="5" height="5" fill="#c8c8c8"/>
<rect x="84.7" y="89.2" width="5" height="5" fill="#1050a0"/>
<rect x="90.2" y="92.3" width="5" height="5" fill="#0a0a6e"/>
<rect x="120.6" y="95.5" width="5" height="5" fill="#0000cd"/>
<rect x="126.9" y="95.5" width="5" height="5" fill="#0000cd"/>
<rect x="116.7" y="100.2" width="5" height="5" fill="#0000cd"/>
<rect x="135.5" y="97.0" width="5" height="5" fill="#0000cd"/>
<rect x="91.5" y="96.5" width="5" height="5" fill="#00a0a8"/>
<rect x="95.5" y="97.5" width="5" height="5" fill="#00a0a8"/>
<rect x="99.5" y="97.5" width="5" height="5" fill="#00a0a8"/>
<rect x="103.5" y="98.5" width="5" height="5" fill="#00a0a8"/>
<rect x="87.5" y="103.5" width="5" height="5" fill="#00d0d0"/>
<rect x="91.5" y="104.5" width="5" height="5" fill="#00d0d0"/>
<rect x="94.5" y="107.5" width="5" height="5" fill="#00d0d0"/>
<rect x="88.5" y="108.5" width="5" height="5" fill="#00d0d0"/>
<rect x="101.9" y="105.3" width="5" height="5" fill="#00a0a8"/>
<rect x="109.7" y="104.8" width="5" height="5" fill="#0000cd"/>
<rect x="127.7" y="107.5" width="5" height="5" fill="#1050a0"/>
<rect x="133.9" y="106.4" width="5" height="5" fill="#0a0a6e"/>
<rect x="130.0" y="111.1" width="5" height="5" fill="#0000cd"/>
<rect x="141.7" y="109.5" width="5" height="5" fill="#0a0a6e"/>
<rect x="155.8" y="96.3" width="5" height="5" fill="#00a0a8"/>
<rect x="160.5" y="95.9" width="5" height="5" fill="#0000cd"/>
<rect x="169.8" y="97.5" width="5" height="5" fill="#0000cd"/>
<rect x="187.8" y="94.7" width="5" height="5" fill="#0a0a6e"/>
<rect x="205.0" y="92.8" width="5" height="5" fill="#0000cd"/>
<rect x="176.9" y="104.8" width="5" height="5" fill="#0a0a6e"/>
<rect x="187.0" y="105.6" width="5" height="5" fill="#0a0a6e"/>
<rect x="205.0" y="111.1" width="5" height="5" fill="#0a0a6e"/>
<rect x="155.0" y="113.1" width="5" height="5" fill="#0a0a6e"/>
<rect x="168.8" y="114.7" width="5" height="5" fill="#0000cd"/>
<rect x="175.3" y="117.8" width="5" height="5" fill="#c8c8c8"/>
<rect x="201.9" y="116.5" width="5" height="5" fill="#0a0a6e"/>
<rect x="209.7" y="124.8" width="5" height="5" fill="#0a0a6e"/>
<rect x="202.7" y="131.9" width="5" height="5" fill="#c8c8c8"/>
<rect x="219.8" y="136.9" width="5" height="5" fill="#c8c8c8"/>
<rect x="101.1" y="112.7" width="5" height="5" fill="#c8c8c8"/>
<rect x="106.9" y="114.7" width="5" height="5" fill="#0a0a6e"/>
<rect x="90.2" y="113.8" width="5" height="5" fill="#00a0a8"/>
<rect x="83.5" y="118.5" width="5" height="5" fill="#00a0a8"/>
<rect x="87.5" y="121.5" width="5" height="5" fill="#00a0a8"/>
<rect x="84.5" y="124.5" width="5" height="5" fill="#00a0a8"/>
<rect x="101.9" y="121.3" width="5" height="5" fill="#c8c8c8"/>
<rect x="121.9" y="119.4" width="5" height="5" fill="#0a0a6e"/>
<rect x="121.9" y="123.6" width="5" height="5" fill="#505050"/>
<rect x="130.0" y="124.4" width="5" height="5" fill="#c8c8c8"/>
<rect x="135.0" y="123.6" width="5" height="5" fill="#0a0a6e"/>
<rect x="101.9" y="126.3" width="5" height="5" fill="#0a0a6e"/>
<rect x="87.8" y="127.5" width="5" height="5" fill="#0a0a6e"/>
<rect x="84.5" y="131.5" width="5" height="5" fill="#0000cd"/>
<rect x="86.5" y="135.5" width="5" height="5" fill="#0000cd"/>
<rect x="85.5" y="139.5" width="5" height="5" fill="#0a0a6e"/>
<rect x="88.5" y="142.5" width="5" height="5" fill="#0000cd"/>
<rect x="98.8" y="132.2" width="5" height="5" fill="#0a0a6e"/>
<rect x="90.9" y="137.7" width="5" height="5" fill="#0a0a6e"/>
<rect x="108.9" y="134.5" width="5" height="5" fill="#8c8c8c"/>
<rect x="98.0" y="138.5" width="5" height="5" fill="#00a0a8"/>
<rect x="104.2" y="138.8" width="5" height="5" fill="#0a0a6e"/>
<rect x="93.3" y="141.5" width="5" height="5" fill="#c8c8c8"/>
<rect x="126.9" y="140.8" width="5" height="5" fill="#c8c8c8"/>
<rect x="121.4" y="143.1" width="5" height="5" fill="#0a0a6e"/>
<rect x="117.5" y="146.3" width="5" height="5" fill="#0000cd"/>
<rect x="112.8" y="144.7" width="5" height="5" fill="#505050"/>
<rect x="103.5" y="146.3" width="5" height="5" fill="#0000cd"/>
<rect x="108.1" y="148.1" width="5" height="5" fill="#0a0a6e"/>
<rect x="91.5" y="148.5" width="5" height="5" fill="#0a0a6e"/>
<rect x="94.5" y="152.5" width="5" height="5" fill="#0000cd"/>
<rect x="96.5" y="157.5" width="5" height="5" fill="#0a0a6e"/>
<rect x="98.5" y="161.5" width="5" height="5" fill="#0000cd"/>
<rect x="101.5" y="154.5" width="5" height="5" fill="#00a0a8"/>
<rect x="105.5" y="157.5" width="5" height="5" fill="#00a0a8"/>
<rect x="109.5" y="159.5" width="5" height="5" fill="#00d0d0"/>
<rect x="114.5" y="162.5" width="5" height="5" fill="#00a0a8"/>
<rect x="107.5" y="163.5" width="5" height="5" fill="#00a0a8"/>
<rect x="121.9" y="160.3" width="5" height="5" fill="#505050"/>
<rect x="155.0" y="158.8" width="5" height="5" fill="#0a0a6e"/>
<rect x="200.3" y="147.8" width="5" height="5" fill="#0a0a6e"/>
<rect x="200.6" y="154.8" width="5" height="5" fill="#c8c8c8"/>
<rect x="101.5" y="167.5" width="5" height="5" fill="#00a0a8"/>
<rect x="105.5" y="172.5" width="5" height="5" fill="#00a0a8"/>
<rect x="103.5" y="176.5" width="5" height="5" fill="#00a0a8"/>
<rect x="112.8" y="171.3" width="5" height="5" fill="#00a0a8"/>
<rect x="119.8" y="173.5" width="5" height="5" fill="#00d0d0"/>
<rect x="136.3" y="175.6" width="5" height="5" fill="#0a0a6e"/>
<rect x="141.7" y="177.5" width="5" height="5" fill="#00a0a8"/>
<rect x="148.0" y="170.5" width="5" height="5" fill="#0000cd"/>
<rect x="130.0" y="180.5" width="5" height="5" fill="#0000cd"/>
<rect x="134.7" y="179.8" width="5" height="5" fill="#0000cd"/>
<rect x="155.0" y="176.7" width="5" height="5" fill="#00a0a8"/>
<rect x="169.1" y="171.5" width="5" height="5" fill="#c8c8c8"/>
<rect x="173.0" y="177.8" width="5" height="5" fill="#0a0a6e"/>
<rect x="198.8" y="177.5" width="5" height="5" fill="#505050"/>
<rect x="188.5" y="185.0" width="5" height="5" fill="#8c8c8c"/>
<rect x="205.0" y="185.0" width="5" height="5" fill="#505050"/>
<rect x="230.0" y="185.0" width="5" height="5" fill="#0000cd"/>
<rect x="109.5" y="182.5" width="5" height="5" fill="#00a0a8"/>
<rect x="114.5" y="185.5" width="5" height="5" fill="#00a0a8"/>
<rect x="119.5" y="187.5" width="5" height="5" fill="#00a0a8"/>
<rect x="124.5" y="188.5" width="5" height="5" fill="#00a0a8"/>
<rect x="128.5" y="190.5" width="5" height="5" fill="#00d0d0"/>
<rect x="133.5" y="192.5" width="5" height="5" fill="#00a0a8"/>
<rect x="137.5" y="187.5" width="5" height="5" fill="#0a0a6e"/>
<rect x="151.9" y="184.5" width="5" height="5" fill="#00a0a8"/>
<rect x="139.4" y="193.9" width="5" height="5" fill="#0000cd"/>
<rect x="144.8" y="193.9" width="5" height="5" fill="#00d0d0"/>
<rect x="176.1" y="197.8" width="5" height="5" fill="#0000cd"/>
<rect x="206.5" y="197.5" width="5" height="5" fill="#c8c8c8"/>
<rect x="281.9" y="73.0" width="5" height="5" fill="#00a0a8"/>
<rect x="290.2" y="78.4" width="5" height="5" fill="#000"/>
<rect x="287.8" y="83.1" width="5" height="5" fill="#00a0a8"/>
<rect x="294.8" y="83.9" width="5" height="5" fill="#0000cd"/>
<rect x="301.9" y="87.0" width="5" height="5" fill="#0000cd"/>
<rect x="289.1" y="91.7" width="5" height="5" fill="#00a0a8"/>
<rect x="276.1" y="95.9" width="5" height="5" fill="#00a0a8"/>
<rect x="285.9" y="102.7" width="5" height="5" fill="#00a0a8"/>
<rect x="280.8" y="107.8" width="5" height="5" fill="#0000cd"/>
<rect x="306.6" y="103.8" width="5" height="5" fill="#0000cd"/>
<rect x="300.6" y="110.8" width="5" height="5" fill="#00a0a8"/>
<rect x="277.7" y="118.3" width="5" height="5" fill="#0a0a6e"/>
<rect x="304.2" y="124.5" width="5" height="5" fill="#0a0a6e"/>
<rect x="313.6" y="123.8" width="5" height="5" fill="#0a0a6e"/>
<rect x="304.2" y="134.7" width="5" height="5" fill="#0a0a6e"/>
<rect x="281.6" y="135.5" width="5" height="5" fill="#0000cd"/>
<rect x="326.1" y="145.6" width="5" height="5" fill="#00a0a8"/>
<rect x="335.0" y="143.8" width="5" height="5" fill="#0000cd"/>
<rect x="354.2" y="98.8" width="5" height="5" fill="#c8c8c8"/>
<rect x="355.8" y="110.5" width="5" height="5" fill="#c8c8c8"/>
<rect x="358.9" y="113.6" width="5" height="5" fill="#0a0a6e"/>
<rect x="363.6" y="112.0" width="5" height="5" fill="#0a0a6e"/>
<rect x="367.5" y="108.9" width="5" height="5" fill="#0a0a6e"/>
<rect x="347.2" y="164.4" width="5" height="5" fill="#0a0a6e"/>
<rect x="344.1" y="158.1" width="5" height="5" fill="#c8c8c8"/>
<rect x="353.4" y="156.5" width="5" height="5" fill="#c8c8c8"/>
<rect x="367.5" y="153.5" width="5" height="5" fill="#c8c8c8"/>
<rect x="394.8" y="132.8" width="5" height="5" fill="#0000cd"/>
<rect x="419.8" y="135.0" width="5" height="5" fill="#0a0a6e"/>
<rect x="405.0" y="149.5" width="5" height="5" fill="#0a0a6e"/>
<rect x="399.5" y="155.8" width="5" height="5" fill="#c8c8c8"/>
<rect x="398.8" y="158.9" width="5" height="5" fill="#8c8c8c"/>
<rect x="415.2" y="148.0" width="5" height="5" fill="#0a0a6e"/>
<rect x="410.5" y="156.5" width="5" height="5" fill="#0a0a6e"/>
<rect x="433.9" y="138.6" width="5" height="5" fill="#1050a0"/>
<rect x="408.9" y="87.8" width="5" height="5" fill="#c8c8c8"/>
<rect x="423.0" y="106.9" width="5" height="5" fill="#00a0a8"/>
<rect x="271.9" y="160.9" width="5" height="5" fill="#0a0a6e"/>
<rect x="301.9" y="170.6" width="5" height="5" fill="#0a0a6e"/>
<rect x="294.8" y="170.9" width="5" height="5" fill="#c8c8c8"/>
<rect x="270.9" y="175.6" width="5" height="5" fill="#0a0a6e"/>
<rect x="290.9" y="179.7" width="5" height="5" fill="#0000cd"/>
<rect x="305.8" y="180.8" width="5" height="5" fill="#0000cd"/>
<rect x="326.1" y="183.0" width="5" height="5" fill="#108c10"/>
<rect x="385.0" y="184.5" width="5" height="5" fill="#a09600"/>
<rect x="358.9" y="190.8" width="5" height="5" fill="#a09600"/>
<rect x="297.2" y="197.0" width="5" height="5" fill="#108c10"/>
<rect x="308.9" y="195.5" width="5" height="5" fill="#20e020"/>
<rect x="314.4" y="197.0" width="5" height="5" fill="#a09600"/>
<rect x="331.5" y="196.5" width="5" height="5" fill="#20e020"/>
<rect x="336.3" y="196.3" width="5" height="5" fill="#20e020"/>
<rect x="355.0" y="200.9" width="5" height="5" fill="#e0d000"/>
<rect x="367.8" y="203.8" width="5" height="5" fill="#a09600"/>
<rect x="275.3" y="302.5" width="5" height="5" fill="#108c10"/>
<rect x="227.5" y="287.5" width="5" height="5" fill="#108c10"/>
<rect x="452.7" y="286.9" width="5" height="5" fill="#a09600"/>
<rect x="457.3" y="288.8" width="5" height="5" fill="#e0d000"/>
<rect x="453.5" y="296.3" width="5" height="5" fill="#e0d000"/>
<rect x="465.2" y="293.9" width="5" height="5" fill="#e0d000"/>
<rect x="516.0" y="305.0" width="5" height="5" fill="#a09600"/>
<rect x="582.5" y="90.0" width="5" height="5" fill="#00d0d0"/>
<rect x="483.5" y="41.0" width="5" height="5" fill="#0000cd"/>
<rect x="295.0" y="13.5" width="5" height="5" fill="#0a0a6e"/>
<rect x="154.1" y="68.8" width="5" height="5" fill="#c8c8c8"/>
<rect x="208.5" y="60.0" width="5" height="5" fill="#0a0a6e"/>
<rect x="467.5" y="105.0" width="5" height="5" fill="#108c10"/>
<rect x="485.0" y="102.5" width="5" height="5" fill="#20e020"/>
<rect x="337.5" y="208.5" width="5" height="5" fill="#20e020"/>
<rect x="342.5" y="209.5" width="5" height="5" fill="#20e020"/>
<rect x="346" y="129" width="5" height="5" fill="#0000cd"/>
<rect x="343" y="148" width="5" height="5" fill="#0000cd"/>
<rect x="347" y="127" width="5" height="5" fill="#00a0a8"/>
<rect x="345" y="127" width="5" height="5" fill="#0000cd"/>
<rect x="344" y="128" width="5" height="5" fill="#0000cd"/>
<rect x="344" y="141" width="5" height="5" fill="#0000cd"/>
<rect x="349" y="141" width="5" height="5" fill="#0000cd"/>
<rect x="349" y="136" width="5" height="5" fill="#0000cd"/>
<rect x="343" y="149" width="5" height="5" fill="#0a0a6e"/>
<rect x="347" y="140" width="5" height="5" fill="#00a0a8"/>
<rect x="346" y="148" width="5" height="5" fill="#0000cd"/>
<rect x="344" y="141" width="5" height="5" fill="#0000cd"/>
<rect x="347" y="140" width="5" height="5" fill="#0000cd"/>
<rect x="349" y="142" width="5" height="5" fill="#0000cd"/>
<rect x="350" y="137" width="5" height="5" fill="#0a0a6e"/>
<rect x="348" y="151" width="5" height="5" fill="#0a0a6e"/>
<rect x="346" y="147" width="5" height="5" fill="#0000cd"/>
<rect x="351" y="127" width="5" height="5" fill="#0a0a6e"/>
<rect x="348" y="150" width="5" height="5" fill="#0000cd"/>
<rect x="347" y="142" width="5" height="5" fill="#0000cd"/>
<rect x="344" y="137" width="5" height="5" fill="#0a0a6e"/>
<rect x="346" y="151" width="5" height="5" fill="#0000cd"/>
<rect x="343" y="144" width="5" height="5" fill="#0a0a6e"/>
<rect x="349" y="147" width="5" height="5" fill="#0a0a6e"/>
<rect x="346" y="144" width="5" height="5" fill="#00a0a8"/>
<rect x="348" y="147" width="5" height="5" fill="#0000cd"/>
<rect x="351" y="151" width="5" height="5" fill="#0000cd"/>
<rect x="350" y="127" width="5" height="5" fill="#0000cd"/>
<rect x="350" y="143" width="5" height="5" fill="#0000cd"/>
<rect x="351" y="133" width="5" height="5" fill="#0000cd"/>
<rect x="383" y="135" width="5" height="5" fill="#0000cd"/>
<rect x="370" y="141" width="5" height="5" fill="#0000cd"/>
<rect x="362" y="145" width="5" height="5" fill="#00a0a8"/>
<rect x="379" y="136" width="5" height="5" fill="#0000cd"/>
<rect x="373" y="130" width="5" height="5" fill="#0000cd"/>
<rect x="375" y="148" width="5" height="5" fill="#0000cd"/>
<rect x="372" y="140" width="5" height="5" fill="#1050a0"/>
<rect x="371" y="135" width="5" height="5" fill="#0000cd"/>
<rect x="385" y="130" width="5" height="5" fill="#00a0a8"/>
<rect x="365" y="142" width="5" height="5" fill="#0000cd"/>
<rect x="373" y="141" width="5" height="5" fill="#0a0a6e"/>
<rect x="368" y="130" width="5" height="5" fill="#00a0a8"/>
<rect x="370" y="140" width="5" height="5" fill="#00a0a8"/>
<rect x="378" y="139" width="5" height="5" fill="#00a0a8"/>
<rect x="377" y="144" width="5" height="5" fill="#0000cd"/>
<rect x="383" y="145" width="5" height="5" fill="#0000cd"/>
<rect x="378" y="140" width="5" height="5" fill="#0000cd"/>
<rect x="371" y="129" width="5" height="5" fill="#1050a0"/>
<rect x="371" y="131" width="5" height="5" fill="#00a0a8"/>
<rect x="372" y="129" width="5" height="5" fill="#00a0a8"/>
<rect x="362" y="126" width="5" height="5" fill="#00a0a8"/>
<rect x="374" y="150" width="5" height="5" fill="#00a0a8"/>
<rect x="362" y="148" width="5" height="5" fill="#00a0a8"/>
<rect x="370" y="142" width="5" height="5" fill="#0a0a6e"/>
<rect x="376" y="138" width="5" height="5" fill="#0000cd"/>
<rect x="382" y="151" width="5" height="5" fill="#0000cd"/>
<rect x="373" y="134" width="5" height="5" fill="#00a0a8"/>
<rect x="364" y="135" width="5" height="5" fill="#0a0a6e"/>
<rect x="373" y="143" width="5" height="5" fill="#00a0a8"/>
<rect x="362" y="150" width="5" height="5" fill="#00a0a8"/>
<rect x="370" y="143" width="5" height="5" fill="#0000cd"/>
<rect x="380" y="133" width="5" height="5" fill="#1050a0"/>
<rect x="383" y="143" width="5" height="5" fill="#0a0a6e"/>
<rect x="374" y="149" width="5" height="5" fill="#0a0a6e"/>
<rect x="380" y="139" width="5" height="5" fill="#0000cd"/>
<rect x="374" y="142" width="5" height="5" fill="#00a0a8"/>
<rect x="381" y="151" width="5" height="5" fill="#0000cd"/>
<rect x="366" y="132" width="5" height="5" fill="#0000cd"/>
<rect x="379" y="132" width="5" height="5" fill="#00a0a8"/>
<rect x="373" y="144" width="5" height="5" fill="#0000cd"/>
<rect x="381" y="138" width="5" height="5" fill="#00a0a8"/>
<rect x="378" y="150" width="5" height="5" fill="#0000cd"/>
<rect x="381" y="144" width="5" height="5" fill="#0a0a6e"/>
<rect x="385" y="135" width="5" height="5" fill="#00a0a8"/>
<rect x="364" y="138" width="5" height="5" fill="#0a0a6e"/>
<rect x="366" y="142" width="5" height="5" fill="#00a0a8"/>
<rect x="382" y="138" width="5" height="5" fill="#1050a0"/>
<rect x="370" y="142" width="5" height="5" fill="#0000cd"/>
<rect x="378" y="149" width="5" height="5" fill="#0000cd"/>
<rect x="379" y="131" width="5" height="5" fill="#00a0a8"/>
<rect x="372" y="142" width="5" height="5" fill="#0000cd"/>
<rect x="381" y="150" width="5" height="5" fill="#0000cd"/>
<rect x="373" y="145" width="5" height="5" fill="#0000cd"/>
<rect x="379" y="130" width="5" height="5" fill="#00a0a8"/>
<rect x="362" y="141" width="5" height="5" fill="#0000cd"/>
<rect x="381" y="130" width="5" height="5" fill="#0000cd"/>
<rect x="361" y="119" width="5" height="5" fill="#0000cd"/>
<rect x="354" y="120" width="5" height="5" fill="#0a0a6e"/>
<rect x="352" y="121" width="5" height="5" fill="#0a0a6e"/>
<rect x="354" y="120" width="5" height="5" fill="#0a0a6e"/>
<rect x="359" y="121" width="5" height="5" fill="#0a0a6e"/>
<rect x="352" y="119" width="5" height="5" fill="#0a0a6e"/>
<rect x="356" y="120" width="5" height="5" fill="#0000cd"/>
<rect x="360" y="121" width="5" height="5" fill="#0a0a6e"/>
<rect x="366" y="119" width="5" height="5" fill="#0000cd"/>
<rect x="362" y="120" width="5" height="5" fill="#0a0a6e"/>
<rect x="445" y="131" width="5" height="5" fill="#00a0a8"/>
<rect x="442" y="110" width="5" height="5" fill="#00a0a8"/>
<rect x="440" y="118" width="5" height="5" fill="#00a0a8"/>
<rect x="448" y="127" width="5" height="5" fill="#00a0a8"/>
<rect x="442" y="119" width="5" height="5" fill="#00d0d0"/>
<rect x="447" y="115" width="5" height="5" fill="#00a0a8"/>
<rect x="447" y="119" width="5" height="5" fill="#00d0d0"/>
<rect x="451" y="108" width="5" height="5" fill="#00a0a8"/>
<rect x="444" y="127" width="5" height="5" fill="#00a0a8"/>
<rect x="446" y="107" width="5" height="5" fill="#00d0d0"/>
<rect x="446" y="123" width="5" height="5" fill="#00a0a8"/>
<rect x="448" y="111" width="5" height="5" fill="#00d0d0"/>
<rect x="446" y="120" width="5" height="5" fill="#00d0d0"/>
<rect x="447" y="113" width="5" height="5" fill="#00a0a8"/>
<rect x="451" y="131" width="5" height="5" fill="#00d0d0"/>
<rect x="452" y="130" width="5" height="5" fill="#00a0a8"/>
<rect x="451" y="110" width="5" height="5" fill="#00d0d0"/>
<rect x="445" y="115" width="5" height="5" fill="#00a0a8"/>
<rect x="446" y="112" width="5" height="5" fill="#00d0d0"/>
<rect x="450" y="130" width="5" height="5" fill="#00a0a8"/>
<rect x="452" y="123" width="5" height="5" fill="#00d0d0"/>
<rect x="442" y="130" width="5" height="5" fill="#00d0d0"/>
<rect x="443" y="132" width="5" height="5" fill="#00d0d0"/>
<rect x="452" y="110" width="5" height="5" fill="#00a0a8"/>
<rect x="442" y="118" width="5" height="5" fill="#00a0a8"/>
<rect x="445" y="117" width="5" height="5" fill="#00d0d0"/>
<rect x="444" y="125" width="5" height="5" fill="#00d0d0"/>
<rect x="444" y="118" width="5" height="5" fill="#00d0d0"/>
<rect x="445" y="120" width="5" height="5" fill="#00d0d0"/>
<rect x="447" y="108" width="5" height="5" fill="#00a0a8"/>
<rect x="453" y="109" width="5" height="5" fill="#00d0d0"/>
<rect x="444" y="130" width="5" height="5" fill="#00a0a8"/>
<rect x="444" y="109" width="5" height="5" fill="#00d0d0"/>
<rect x="451" y="124" width="5" height="5" fill="#00d0d0"/>
<rect x="445" y="120" width="5" height="5" fill="#00a0a8"/>
<rect x="447" y="125" width="5" height="5" fill="#00d0d0"/>
<rect x="461" y="114" width="5" height="5" fill="#00d0d0"/>
<rect x="462" y="109" width="5" height="5" fill="#00d0d0"/>
<rect x="463" y="114" width="5" height="5" fill="#00d0d0"/>
<rect x="463" y="110" width="5" height="5" fill="#20e020"/>
<rect x="464" y="112" width="5" height="5" fill="#20e020"/>
<rect x="465" y="111" width="5" height="5" fill="#20e020"/>
<rect x="463" y="108" width="5" height="5" fill="#108c10"/>
<rect x="460" y="109" width="5" height="5" fill="#00d0d0"/>
<rect x="305" y="205" width="5" height="5" fill="#20e020"/>
<rect x="314" y="209" width="5" height="5" fill="#108c10"/>
<rect x="306" y="209" width="5" height="5" fill="#108c10"/>
<rect x="305" y="213" width="5" height="5" fill="#20e020"/>
<rect x="300" y="202" width="5" height="5" fill="#108c10"/>
<rect x="312" y="205" width="5" height="5" fill="#20e020"/>
<rect x="305" y="208" width="5" height="5" fill="#20e020"/>
<rect x="319" y="208" width="5" height="5" fill="#20e020"/>
<rect x="312" y="214" width="5" height="5" fill="#108c10"/>
<rect x="306" y="205" width="5" height="5" fill="#108c10"/>
<rect x="307" y="214" width="5" height="5" fill="#20e020"/>
<rect x="316" y="204" width="5" height="5" fill="#20e020"/>
<rect x="323" y="214" width="5" height="5" fill="#20e020"/>
<rect x="301" y="212" width="5" height="5" fill="#20e020"/>
<rect x="309" y="203" width="5" height="5" fill="#20e020"/>
<rect x="319" y="214" width="5" height="5" fill="#20e020"/>
<rect x="322" y="210" width="5" height="5" fill="#20e020"/>
<rect x="306" y="208" width="5" height="5" fill="#108c10"/>
<rect x="305" y="202" width="5" height="5" fill="#20e020"/>
<rect x="322" y="216" width="5" height="5" fill="#108c10"/>
<rect x="307" y="202" width="5" height="5" fill="#20e020"/>
<rect x="304" y="205" width="5" height="5" fill="#20e020"/>
<rect x="308" y="209" width="5" height="5" fill="#108c10"/>
<rect x="315" y="205" width="5" height="5" fill="#20e020"/>
<rect x="301" y="213" width="5" height="5" fill="#108c10"/>
<rect x="309" y="203" width="5" height="5" fill="#20e020"/>
<rect x="306" y="211" width="5" height="5" fill="#20e020"/>
<rect x="313" y="209" width="5" height="5" fill="#108c10"/>
<rect x="315" y="212" width="5" height="5" fill="#108c10"/>
<rect x="308" y="207" width="5" height="5" fill="#20e020"/>
<rect x="303" y="212" width="5" height="5" fill="#20e020"/>
<rect x="302" y="214" width="5" height="5" fill="#20e020"/>
<rect x="320" y="211" width="5" height="5" fill="#20e020"/>
<rect x="316" y="209" width="5" height="5" fill="#108c10"/><use href="#bcband" fill="#000" opacity="0.45"/><use href="#map" stroke="#000" stroke-width="1"/></g><g transform="translate(1200,416)" clip-path="url(#pc)"><rect width="600" height="416" fill="#fff"/><g filter="url(#bs)">
<polygon fill="#0a0a78" points="83.5,80.7 110.4,80.7 120.5,87.5 134,92.5 144,102.6 152.5,101 157.5,106 172.7,105.1 164.3,110.2 157.5,110.2 144,119.5 134,122.8 117,123 117,132 135.7,133 135.7,154 140.7,168.3 154.2,170 164.3,175 157.5,183.4 157.5,197 145.8,205.3 137.3,197 120.5,188.5 110.4,181.7 103.7,168.3 95.3,158.2 88.5,148 86.8,133 86.8,122.8 88.5,101 85.2,90.8"/>
<polygon fill="#0000c0" points="100,95 125,92 140,105 130,115 110,118 100,110"/>
<polygon fill="#00a8b0" points="85,88 100,84 110,92 104,100 100,110 100,125 95,133 87,133 86.8,122.8 88.5,101"/>
<polygon fill="#00a8b0" points="95,82 110,81 112,88 100,92"/>
<polygon fill="#00a8b0" points="104,155 115,156 125,164 131,172 130,190 121,189 110,182 104,169 96,159"/>
<polygon fill="#00a8b0" points="140,175 152,172 160,180 157,195 148,200 140,192"/>
<polygon fill="#0000c8" points="129,170 140,168 149,178 147,192 137,192 130,183"/>
<polygon fill="#b0b0b0" points="105,133 117,133 117,152 110,150 105,140"/>
<polygon fill="#e8e8e8" points="106,91 113,90 114,95 107,96"/>
<polygon fill="#d8d8d8" points="100,120 112,119 115,123 104,124"/>
<polygon fill="#606060" points="121,155 134,154 134,167 127,168 122,162"/>
<polygon fill="#0000c0" points="349.7,117.4 366.9,115.9 376.3,122.1 382.5,126.8 393.4,131.5 395,144 388.8,150.3 379.4,156.5 371.6,159.6 365.3,159.6 360.6,156.5 349.7,156.5 338.8,159.6 337,163.4 331,162 331.3,150.3 330.9,137.5 332.5,131.5 340.3,128.4 349.7,130"/>
<polygon fill="#0a0a78" points="349.7,117.4 366.9,115.9 373,125 373,131 350,131"/>
<polygon fill="#1a78a8" points="332.5,130 340,130 340,141 332.5,141"/>
<polygon fill="#1a78a8" points="365,131.5 392,131.5 392,141 365,139"/>
<polygon fill="#1a78a8" points="371.6,146 387,146 385,153 372,153"/>
<polygon fill="#c8c8c8" points="338.8,157 352,155 365.3,157 363,166.7 345,166.7 338.8,163"/>
<polygon fill="#d0d0d0" points="351,113 360.6,113 360.6,119 351,119"/>
<polygon fill="#0a0a90" points="404.4,147.1 413.8,144 423.1,140.9 432.5,137.8 438.8,140.9 434,148.7 427.8,153.4 423.1,162.8 413.8,162.8 405.9,156.5"/>
<polygon fill="#00b0b8" points="429.4,114.3 434,106.5 445,104.2 470,102.6 479.4,101.8 485.6,109.6 476.3,114.3 463.8,120.6 460.6,128.4 463.8,134.6 452.8,139.3 441.9,140.9 435.6,139.3 430.9,130"/>
<polygon fill="#40e8e8" points="460.6,103.4 475,102.6 479,108 470,116 462,122"/>
<polygon fill="#108c10" points="472,108 480,102 483,106 474,117 467,118"/>
<polygon fill="#30e030" points="296,200 305,193 318,193 322,198 332,204 338,210 336,217 328,221 315,221 300,218 296,210"/>
<polygon fill="#a09600" points="316,194 321,194 321,199 316,199"/>
<polygon fill="#00a0a8" points="289.5,93 293.5,93 293.5,97 289.5,97"/>
</g><use href="#bcband" fill="#000" opacity="0.45"/><use href="#map" stroke="#000" stroke-width="1"/></g>
<rect x="598" y="0" width="5" height="832" fill="#ff00ff"/>
<rect x="1198" y="0" width="5" height="832" fill="#ff00ff"/>
<rect x="0" y="413" width="1800" height="5" fill="#ff00ff"/>
<rect x="666" y="398" width="558" height="21" fill="#000"/>
<g font-family="DejaVu Sans, Liberation Sans, sans-serif" font-weight="200" font-size="23.3px" stroke-width="0.7">
<text x="61" y="382.6" fill="#fff" stroke="#fff" textLength="60" lengthAdjust="spacingAndGlyphs">MIMIC</text>
<text x="136" y="382.6" fill="#fff" stroke="#fff" textLength="42" lengthAdjust="spacingAndGlyphs">RDF</text>
<text x="660" y="382.6" fill="#fff" stroke="#fff" textLength="120" lengthAdjust="spacingAndGlyphs">GOES_E/W</text>
<text x="1260.5" y="382.6" fill="#000" stroke="#000" textLength="43.3" lengthAdjust="spacingAndGlyphs">GPS</text>
<text x="1317.8" y="382.6" fill="#000" stroke="#000" textLength="53.2" lengthAdjust="spacingAndGlyphs">Sites</text>
<text x="1409" y="382.6" fill="#000" stroke="#000" textLength="41.5" lengthAdjust="spacingAndGlyphs">374</text>
<text x="61" y="798.4" fill="#fff" stroke="#fff" textLength="170.5" lengthAdjust="spacingAndGlyphs">bTPW_2020_42</text>
<text x="660.5" y="798.4" fill="#fff" stroke="#fff" textLength="211.5" lengthAdjust="spacingAndGlyphs">Data_Source_Code</text>
<text x="1260" y="798.4" fill="#000" stroke="#000" textLength="129.6" lengthAdjust="spacingAndGlyphs">GPS_Extrap</text>
</g>
<text x="675" y="415.7" fill="#fff" stroke="#fff" font-family="DejaVu Sans, Liberation Sans, sans-serif" font-weight="200" font-size="18px" textLength="97" lengthAdjust="spacingAndGlyphs">202513021</text>
</svg>
</body></html>
